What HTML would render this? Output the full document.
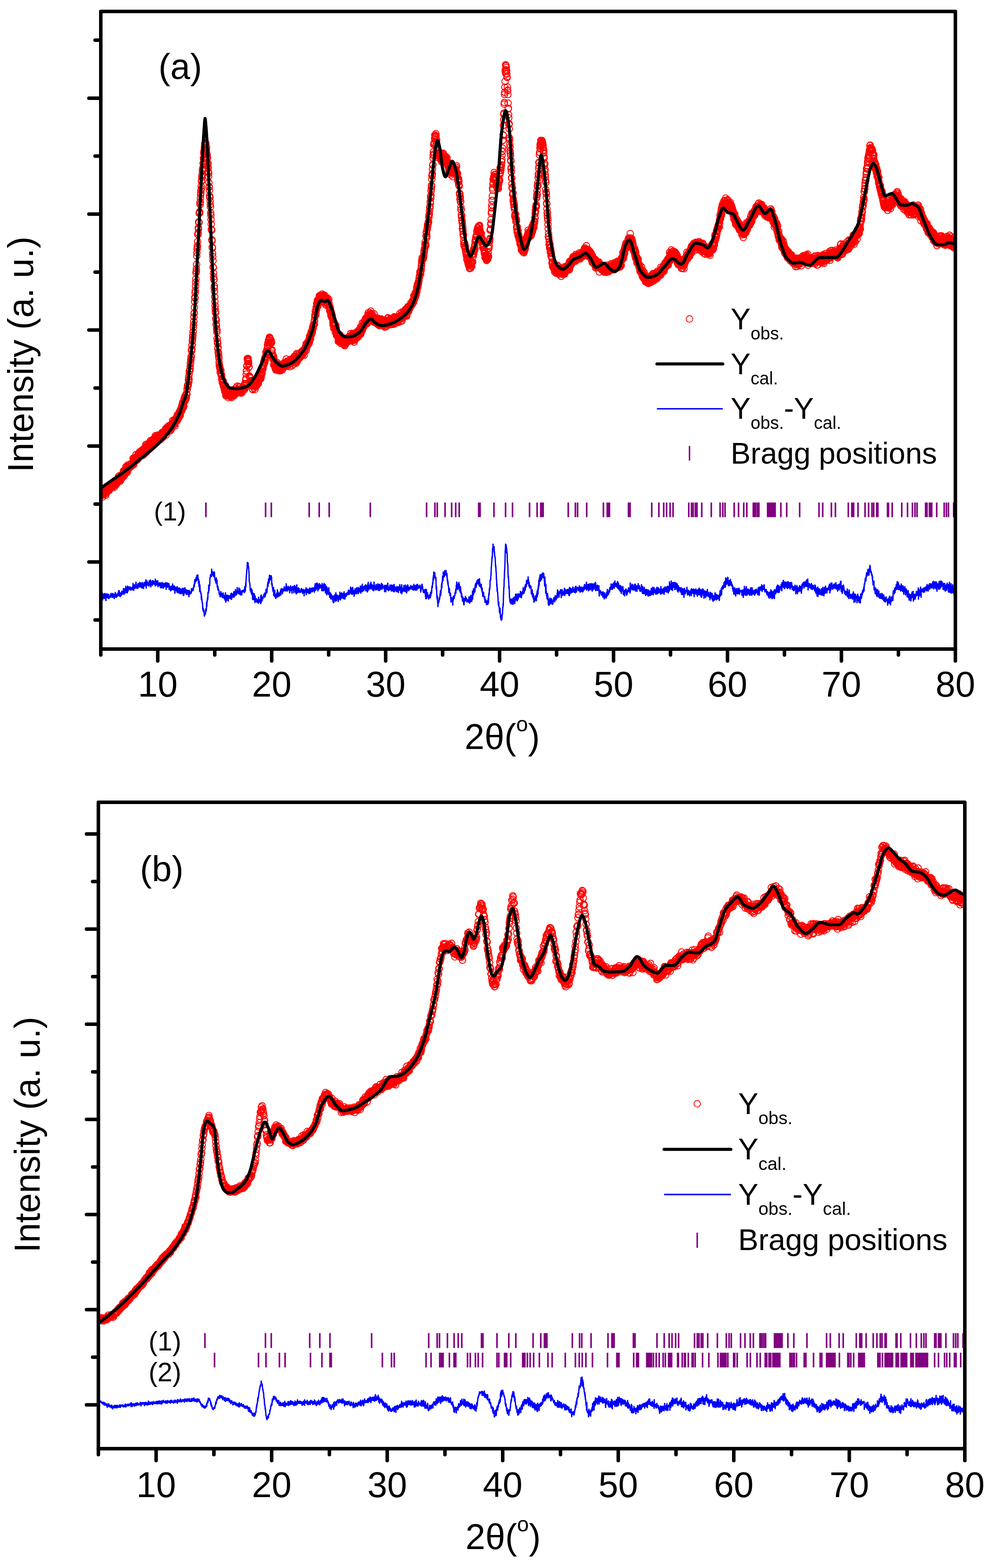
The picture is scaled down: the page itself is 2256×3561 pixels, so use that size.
<!DOCTYPE html><html><head><meta charset="utf-8"><title>XRD Rietveld refinement</title><style>html,body{margin:0;padding:0;background:#fff}svg{display:block}text{font-family:'Liberation Sans', Arial, Helvetica, sans-serif;fill:#000}</style></head><body>
<svg width="2256" height="3561" viewBox="0 0 2256 3561">
<rect width="2256" height="3561" fill="#fff"/>
<defs><marker id="mk" markerUnits="userSpaceOnUse" markerWidth="20" markerHeight="20" refX="10" refY="10" overflow="visible"><circle cx="10" cy="10" r="7.4" fill="none" stroke="#f00" stroke-width="2"/></marker></defs>
<clipPath id="clipa"><rect x="229" y="26" width="1941.5" height="1448"/></clipPath>
<g clip-path="url(#clipa)">
<path d="M229 1117l.4 9.9 .4-8.4 .4 2.1 .4 .4 .4-2.8 .4-2.7 .4 7.4 .4-1.4 .4-9.1 .4 16.1 .4-5.5 .4-6.9 .4 6.1 .4-5.5 .4 1.3 .4 2.9 .4-8.1 .4 6.7 .4 2.9 .4-.6 .4-6.4 .4 4.3 .4-9.9 .4 5.3 .4 2 .4-7.1 .4 4.5 .4 6.6 .4 3.1 .4-7.3 .4 0 .4-7.1 .4-1.3 .4-1 .4 7.1 .4 .6 .4-5.7 .4-2.5 .4 5.4 .4 0 .4-2 .4 5.1 .4-5.5 .4-.2 .4-4.3 .4 4.5 .4 4.4 .4-5.2 .4-.3 .4 1.1 .4-.9 .4 .7 .4-.2 .4 0 .4-5.7 .4 3.9 .4-7.5 .4 6.8 .4-6.1 .4 4.3 .4 1.8 .4-3.7 .4 1.7 .4-7 .4 2.7 .4 5.7 .4-7.4 .4 6.6 .4-8.2 .4 1.6 .4-1.1 .4 3.9 .4 1.6 .4-6.5 .4 3.1 .4 6.5 .4-7.8 .4-2.3 .4 4.2 .4-2.7 .4-2.2 .4-4.7 .4 9.7 .4-5.8 .4 1.8 .4-4.5 .4 8.7 .4-2.6 .4 .5 .4-4.7 .4 1.8 .4 1.2 .4 .1 .4-3.2 .4-1.9 .4-1.6 .4-1.9 .4-1.3 .4 4.6 .4-2.8 .4-7.2 .4 6.6 .4 4.3 .4-5.6 .4-6.6 .4 6.2 .4 3 .4-2.7 .4-2.9 .4 8.3 .4-.2 .4-8.2 .4 3 .4-2 .4 1 .4 2.1 .4-2.9 .4-3.3 .4-3.3 .4-1.1 .4 2.6 .4 4.1 .4-3.8 .4-1.4 .4 .4 .4-1.3 .4 1.5 .4-6.9 .4-3.8 .4 5.5 .4-3.3 .4 10.2 .4-7.3 .4-.8 .4-5.5 .4 6.5 .4-4 .4 6.3 .4-1.6 .4-6.8 .4 4.1 .4-12.2 .4 6.9 .4 6.9 .4-2.2 .4-3 .4-1.3 .4-5.9 .4-.3 .4 5.6 .4 5.4 .4-15.8 .4 10.4 .4-.7 .4 .8 .4-7.6 .4 .8 .4 1.7 .4-4.7 .4-1.3 .4 .8 .4 2.6 .4 1.2 .4-2.1 .4-.2 .4-3.4 .4-.7 .4 6.6 .4-5.1 .4-.6 .4 3.4 .4 .7 .4-.4 .4-3.9 .4-2.3 .4 .8 .4-.9 .4 4.3 .4-4.8 .4 .8 .4-3 .4 4.9 .4-13.8 .4 9 .4 1 .4-7.9 .4 12.5 .4-9.4 .4-.5 .4-4 .4 7.2 .4-3 .4-3.7 .4 2.8 .4 1.3 .4 1.7 .4-4.4 .4-5 .4 1.1 .4-7.2 .4 5.7 .4 5.3 .4-1.5 .4-2.7 .4-1.3 .4 7 .4-5.5 .4 2 .4-2.4 .4-4.6 .4 8.3 .4-11.4 .4-.2 .4 2.5 .4-1.6 .4 .3 .4-.6 .4 5.8 .4-4.1 .4 .7 .4-8 .4 2.5 .4 7.2 .4-9.4 .4 8.9 .4-9.1 .4 4.8 .4-4.9 .4 3.7 .4-4.7 .4 2.1 .4 7.2 .4-8.4 .4 9 .4-10.2 .4-3.2 .4 4.5 .4-2.3 .4 8.1 .4-3.9 .4 .9 .4-2.6 .4 6.8 .4-6.9 .4-1.4 .4-5.8 .4-.7 .4 3.9 .4 2.9 .4 0 .4-8.4 .4 5.4 .4-1.7 .4-5.6 .4 6.1 .4-11.3 .4 9.5 .4 8.3 .4-14 .4 3.7 .4-7.9 .4 4.1 .4 5.5 .4-7.4 .4 3.6 .4-1.6 .4-.5 .4 1.9 .4 .8 .4 2.6 .4-2 .4-5.8 .4 7.4 .4-1 .4-11.4 .4 8.4 .4 .3 .4 .2 .4-2 .4-7.6 .4 3.7 .4-7.5 .4 7.2 .4 8.3 .4-5.7 .4 .3 .4-5.7 .4-2.3 .4-.6 .4 4.4 .4-4 .4 .3 .4 6.7 .4-11.3 .4 .9 .4 2.9 .4 1.3 .4-.5 .4-5.3 .4 5.9 .4-1.6 .4 1.6 .4-6 .4 4.9 .4-.4 .4-3.8 .4 1.4 .4-1.6 .4 7.2 .4-16 .4 4.3 .4-1.4 .4 5 .4-1.6 .4 .8 .4 4.1 .4-9.6 .4 2.8 .4 2.1 .4-4.2 .4 5.9 .4-.4 .4-4.5 .4-4.5 .4 13 .4-4.8 .4-.5 .4-1.7 .4-.6 .4 3 .4-3.7 .4-2.8 .4 5 .4-2.9 .4-3.6 .4-.9 .4 7.9 .4-2.5 .4 5 .4-10.2 .4-1.2 .4 4.2 .4 3.5 .4-3.4 .4-1 .4 5.4 .4-10.8 .4-2.3 .4 1.7 .4 1.3 .4 2.4 .4 2.2 .4-2.8 .4 4.1 .4-9.7 .4 10.6 .4-11.2 .4 7.5 .4-8.7 .4 4.7 .4-1.5 .4 1.5 .4 .6 .4-4.2 .4 .2 .4 .8 .4-6.5 .4 1.9 .4-3.9 .4 6.1 .4 8.4 .4-6.3 .4-6.8 .4 .3 .4 6.3 .4-6.2 .4-4.9 .4 1.9 .4-.5 .4-.2 .4 6.4 .4-2.8 .4-6.6 .4 3.4 .4-2.8 .4-.7 .4-1.5 .4 12.6 .4-8.6 .4 3.1 .4 .8 .4-5.4 .4 3.3 .4-.3 .4-1.7 .4 7.4 .4-8 .4-2.4 .4 3.1 .4 4.1 .4-3.5 .4-6.3 .4-2 .4-.7 .4 .7 .4 3.7 .4 1.4 .4-12.9 .4 8.6 .4-4.8 .4 6.6 .4 .5 .4-7.3 .4 .9 .4-2.5 .4 4.9 .4-8.6 .4 1.5 .4 1.2 .4 7.1 .4 4.2 .4-10.1 .4-5.5 .4 4.6 .4-4.3 .4 4.7 .4-6.9 .4 2.4 .4 .8 .4 1.5 .4-3 .4 4.7 .4-5.3 .4-8.4 .4 10.3 .4-5.6 .4-2.3 .4 8 .4-10.8 .4 3.5 .4-3.9 .4 7.5 .4-7.7 .4 1.5 .4-7.3 .4 10.5 .4-10.9 .4 7.1 .4-.1 .4-.4 .4 1.4 .4-13 .4 5.3 .4-2.1 .4 .1 .4 1.6 .4-5.2 .4-4.8 .4 1.7 .4 5.4 .4-12.1 .4 3.8 .4-5.4 .4 7.3 .4-12.3 .4 4.2 .4-.3 .4 0 .4 8 .4-4.2 .4-11.3 .4 12 .4-14.3 .4-3.5 .4 .7 .4 6 .4 .5 .4-12 .4 9.7 .4-3.9 .4 2.8 .4-5.7 .4 3.8 .4-3 .4-8.9 .4 8.6 .4-7.2 .4-.2 .4-.4 .4-11.6 .4 .8 .4-5.8 .4-3.4 .4 1.8 .4-2.8 .4 .9 .4-3 .4-9 .4-6.5 .4 10.6 .4-5.1 .4-12.4 .4-6.6 .4-1.2 .4-.5 .4 0 .4-4.1 .4-5.6 .4-6.4 .4-1.9 .4-5.7 .4-2.2 .4-4.6 .4-1.5 .4-14.1 .4 1.8 .4-4.5 .4-8.2 .4-1.2 .4-8.8 .4-3.9 .4-4.1 .4-5.6 .4-7.3 .4 .6 .4-10.1 .4-6.3 .4-7.3 .4-10.8 .4-8.2 .4-.5 .4-12.5 .4-13.5 .4-9.7 .4 1.9 .4-12 .4-5.4 .4-10.2 .4-8.1 .4-7.9 .4-13.5 .4-4.1 .4-5.1 .4-10.3 .4-18.9 .4-7.2 .4-8.4 .4-3.9 .4-3.5 .4-10.1 .4-16.1 .4 .2 .4-3.8 .4-11.6 .4 3.3 .4-16.4 .4 1.6 .4-.9 .4-20.3 .4-1.6 .4-1.8 .4 2.9 .4-23.3 .4 4.2 .4-6.6 .4-8.4 .4-7.3 .4-4.4 .4-5.1 .4-9.9 .4 5.7 .4-16.7 .4-2.8 .4-6.4 .4-4.3 .4-3 .4-8.4 .4-2.5 .4 3.5 .4-7.3 .4-10.1 .4 .4 .4-11.4 .4-.5 .4-11.1 .4-3.2 .4-3.3 .4 3.3 .4-9.7 .4-4 .4-5.6 .4-1.3 .4 .2 .4 2.5 .4-.4 .4-1.7 .4 3.3 .4 11 .4 3.1 .4-1.1 .4-6.3 .4 16.4 .4-1.7 .4 2.1 .4 4.5 .4 2.7 .4 13.2 .4 4.7 .4-5.7 .4 9.9 .4 8.8 .4 11.2 .4-7.6 .4 21.3 .4 10.3 .4-1.2 .4 8.2 .4 12.5 .4 3.7 .4 .3 .4 8 .4 7.9 .4 5.7 .4 13.1 .4 5.2 .4 9.8 .4 10.4 .4 12.3 .4 1.7 .4-.3 .4 22.1 .4 2.6 .4 14.1 .4 2.2 .4 12.1 .4 7.2 .4 9.5 .4 14.4 .4 1 .4 12.2 .4 8.9 .4 5.9 .4 .7 .4 18.4 .4-4.1 .4 12.2 .4 12.1 .4 11.2 .4 9.2 .4 7.1 .4 6 .4 3 .4 13.2 .4 .5 .4 12 .4-7.8 .4 11.1 .4 7.2 .4 8 .4-4.4 .4 18.8 .4 6.1 .4 4.4 .4-.2 .4 13.2 .4-3.3 .4 10.8 .4 .7 .4 4.7 .4 3.9 .4 4.7 .4 8.8 .4 5.2 .4 3.6 .4 1.3 .4 2.3 .4 2.1 .4 8.3 .4-6.5 .4 1.8 .4 5.2 .4-4.9 .4 8.2 .4 2.9 .4-1.9 .4 3.9 .4 7.3 .4-1.9 .4 3.2 .4 5.8 .4-5.1 .4-.5 .4 6.2 .4 3.5 .4-7.8 .4 11.6 .4-2.6 .4 .8 .4-.7 .4 3.9 .4 5.8 .4-.8 .4 2.1 .4-4 .4 9 .4-.4 .4-4.5 .4-9.9 .4 11.8 .4 11.4 .4-10.4 .4-3.2 .4 12 .4-9 .4 5.3 .4 1.7 .4-8.7 .4 7.2 .4 4.9 .4-5.8 .4 4.5 .4-2.4 .4 4.7 .4 3.8 .4-12 .4 3.6 .4 3.1 .4-4.1 .4-.7 .4 2.1 .4 .3 .4-1.5 .4 4 .4 2 .4-.4 .4-.4 .4 2 .4-10.9 .4 5.1 .4 1.1 .4 1.2 .4-9.2 .4 14.4 .4-11.8 .4 4.6 .4 1.8 .4 1.2 .4-7.7 .4 .4 .4 3.6 .4 .6 .4 1.1 .4-4.3 .4-2.9 .4-2.9 .4 12.6 .4-13.3 .4 8.4 .4-2 .4 1.7 .4 .6 .4 1.4 .4-6.1 .4 1.6 .4-10 .4 8.1 .4-4.2 .4 2.9 .4 5.6 .4-4.9 .4 3.9 .4-5.6 .4 2.3 .4-3.6 .4-9.1 .4 7.5 .4 1.7 .4 1.7 .4-.8 .4-.7 .4 4.4 .4-1.5 .4-4.4 .4 5.2 .4-12.1 .4 7 .4 .4 .4 6 .4-7.9 .4-4 .4 6.8 .4 6.2 .4-8.1 .4 .3 .4-.6 .4 1 .4 5.1 .4 2.6 .4-6.4 .4-2.6 .4 8.1 .4-7.6 .4-.3 .4-2 .4 0 .4 2.1 .4-2.4 .4 2.7 .4-1.6 .4 1.7 .4-4.2 .4 .5 .4 1.6 .4-1.1 .4-.1 .4 4.1 .4-9.7 .4-4.1 .4 10.8 .4-5.4 .4 4.2 .4-9.5 .4-8.8 .4 9.2 .4-12.9 .4-9.3 .4-7.1 .4-.3 .4-10.8 .4-.8 .4-1.4 .4-14.8 .4 1.1 .4 1.4 .4 4 .4-2.6 .4-4.1 .4 11 .4-3.9 .4 5.3 .4 7.4 .4-.8 .4 21.1 .4-.3 .4 1.1 .4 1.6 .4 1.7 .4 9.9 .4 3.8 .4-3.4 .4 1.4 .4 3.6 .4-2.1 .4-7.2 .4 11.1 .4-1.4 .4 2.3 .4-5.9 .4-5.5 .4 3.9 .4 6.8 .4 7.7 .4 1.4 .4-8.6 .4-7.3 .4 4.9 .4 3.4 .4 0 .4-1.4 .4 5.2 .4-9.4 .4-5.4 .4 5.4 .4-1.3 .4 14.3 .4-10.4 .4-5.5 .4 8.5 .4 1.3 .4-4.3 .4 .3 .4 3.1 .4-2.6 .4-5.6 .4 5 .4 1 .4-3.1 .4 1.7 .4-1.8 .4-4.1 .4-.3 .4 2.6 .4-5.7 .4 6.5 .4-.5 .4-14.5 .4 7.5 .4-3.7 .4-.4 .4 2.5 .4-2.2 .4 2.2 .4-2 .4-.8 .4-6 .4 .8 .4 6.6 .4-17.9 .4 16.7 .4-10.8 .4 6.2 .4-17.3 .4 7.9 .4 4.1 .4-4.4 .4 2.2 .4-9.6 .4-.2 .4-2.1 .4 3.3 .4-1.9 .4-4.2 .4-2.3 .4-1.9 .4-.2 .4-6.2 .4 2 .4-2.1 .4-3.5 .4-1.9 .4 7 .4-10.7 .4 2.6 .4 2.4 .4-4.3 .4-4.7 .4 2.6 .4-11.9 .4-.9 .4 1.8 .4-1.2 .4-1.4 .4 6.4 .4-2.9 .4-9.4 .4-.8 .4-7 .4 3.2 .4-8.9 .4 9.9 .4-9.9 .4 3 .4-9.5 .4 10.2 .4-4.5 .4 4.8 .4-8.9 .4-7.8 .4 3.2 .4-2.2 .4 12.2 .4-9 .4 .1 .4 6.8 .4 0 .4 2.7 .4-2.2 .4-4 .4 5.3 .4-.9 .4 17.8 .4 1.5 .4-2.3 .4 7.4 .4 3.5 .4 3 .4 2.7 .4 4.6 .4-.4 .4-7.1 .4 1 .4 19 .4-.7 .4-11.5 .4 13.1 .4-3.4 .4 2.2 .4-8.4 .4 14.9 .4-3.3 .4 4.2 .4 1.5 .4 1.2 .4 1.9 .4-5.6 .4 0 .4-3.4 .4 5.2 .4-3 .4-3.9 .4 10.5 .4-1.9 .4-14.1 .4 3.3 .4 7.2 .4-4.7 .4 11.2 .4-4.4 .4 1.7 .4 1.7 .4 1.8 .4-7 .4 3.9 .4-1.6 .4 2.3 .4-1.1 .4 3.7 .4-3.9 .4-4.5 .4 2.5 .4-5.6 .4 6.2 .4 5 .4-9.4 .4-4.7 .4 6.6 .4-2.1 .4 1.9 .4-2.8 .4 2.6 .4-5.1 .4 10.8 .4-8 .4 2.8 .4 .8 .4-4.3 .4 2.2 .4-3.4 .4-1.2 .4 .6 .4 2.8 .4-8 .4 1.2 .4 .1 .4 .7 .4 7.1 .4-5.5 .4-1.5 .4 1.6 .4 3.7 .4-8.2 .4 7.4 .4-14.9 .4 6 .4 10 .4 .1 .4-6.2 .4-2.9 .4 5.2 .4-5.6 .4 8.3 .4-1.7 .4-2 .4-7.2 .4 7.7 .4-5.4 .4-.1 .4-1 .4 1.1 .4 2.5 .4 1.4 .4-.2 .4 7.2 .4-12.7 .4 6.4 .4-8.1 .4 1.9 .4-4.4 .4 10.2 .4-4.3 .4-.7 .4-1.2 .4 4.4 .4-6.3 .4 3.7 .4 9.1 .4-11.7 .4-2.3 .4-1.9 .4 7.8 .4-3.4 .4-3.8 .4-.5 .4 3.5 .4-4.7 .4 13.3 .4-10.2 .4-.2 .4 .1 .4-7.7 .4 1.3 .4 4.5 .4 1.2 .4-5.6 .4 12.6 .4-5.7 .4 3.4 .4-.9 .4-6.3 .4 11.3 .4-10.4 .4-9.1 .4-2.3 .4 9.9 .4 3.5 .4-3.8 .4 6.9 .4-9.2 .4 3.4 .4 .4 .4-8 .4 5.5 .4-.1 .4 2.8 .4 .2 .4-1.3 .4-8 .4 6.1 .4 1.2 .4-4.9 .4 2.7 .4-.3 .4 1.4 .4-5.2 .4 1.4 .4-1.7 .4-1 .4-3.4 .4 .8 .4-3.8 .4 3.5 .4 3.5 .4-.8 .4 .1 .4-4.3 .4 6.1 .4-8.6 .4 4.9 .4-2.1 .4-5.6 .4-.4 .4 5.8 .4-3.6 .4 .4 .4 9.3 .4-9.1 .4-2.6 .4 2.1 .4-6.5 .4 1.2 .4 2.1 .4-6.2 .4 2.8 .4-1.4 .4 .6 .4-8.9 .4 14.8 .4-8.9 .4 2 .4-7.7 .4-2 .4 5.1 .4-2.4 .4 3.4 .4-7.7 .4-1.2 .4 4.9 .4 .6 .4 0 .4-5.1 .4 .2 .4-5.6 .4 8.2 .4-1.9 .4-1.3 .4-13 .4 9.7 .4-8.2 .4 4.1 .4-1.5 .4 2.3 .4-7.5 .4-2 .4-4.2 .4-2.1 .4 6.3 .4-7.9 .4 5.6 .4-6.1 .4-2.3 .4 5.3 .4-1.9 .4-9.7 .4 2.1 .4-.8 .4 1.3 .4-7.9 .4-.4 .4-.6 .4 1.5 .4-1.2 .4-8.4 .4 7.8 .4-8.1 .4-7.7 .4-5.6 .4 2.2 .4-10.6 .4 8.8 .4-.7 .4 .8 .4-5.8 .4-12 .4 4 .4 2.2 .4-14.8 .4 3.9 .4 4.3 .4-4.4 .4-10.8 .4 4.9 .4 .7 .4 7.7 .4-12.4 .4-3.2 .4 4 .4-.7 .4 .1 .4 2.8 .4-7.6 .4-6.7 .4 5.3 .4-.9 .4 3.4 .4-1.3 .4-7.5 .4 6.1 .4 .6 .4-5.5 .4 4.8 .4-3.5 .4 .1 .4-1.4 .4 4.2 .4 7.8 .4-10.1 .4-5.9 .4 4.3 .4-1.3 .4 4.3 .4-1.7 .4 12.2 .4-7.5 .4 5.3 .4-10.9 .4 2.6 .4 10.5 .4-16 .4 8.5 .4-7 .4 14.1 .4-12.6 .4 5.4 .4 1 .4-6.4 .4 18.8 .4-11.4 .4 8.3 .4-10.2 .4-3.1 .4 7.7 .4 .1 .4 10.8 .4-15.7 .4-1.9 .4 4.2 .4 5 .4 1.7 .4-5.2 .4 2.6 .4 4.8 .4 3.4 .4-6.4 .4 4.4 .4-11 .4 8.7 .4 7.6 .4-.5 .4 .7 .4 9.5 .4-6.9 .4-2 .4 7.4 .4 1.6 .4-4.4 .4 11.1 .4 4.7 .4-8.7 .4 .3 .4 4.9 .4 7.4 .4-6.6 .4 .7 .4 2.1 .4 5.3 .4 1.4 .4-.1 .4 7.7 .4 6.2 .4-11 .4 8.8 .4-1.9 .4 11.8 .4-13.9 .4 3.9 .4 3.4 .4-5.4 .4 6.8 .4 5.5 .4-8.3 .4 8.3 .4 8.6 .4-9.5 .4-.1 .4-6.2 .4 12.1 .4-5.6 .4 11 .4 6 .4-3.6 .4-4.8 .4 7.6 .4-3.8 .4-1.8 .4 3.9 .4 4.4 .4-1.7 .4 5 .4 8.1 .4-6 .4 1.5 .4-5.7 .4 9.6 .4-3.8 .4 3.4 .4-7.7 .4 4.9 .4-11.3 .4 9.3 .4-1.9 .4-.4 .4 12.5 .4-14.3 .4 6.4 .4 .3 .4 3.3 .4 2.3 .4-11.4 .4 4.9 .4-.5 .4 6.5 .4 1.2 .4-5.9 .4-.4 .4-2 .4 6.3 .4 5.9 .4-5.7 .4-4.7 .4-.6 .4 .6 .4-4.1 .4 15.2 .4-7.5 .4-1.8 .4 11.4 .4-9 .4 5.6 .4-5.6 .4 3.6 .4-4.7 .4-2.1 .4 3.3 .4 1.2 .4 1.5 .4-4.2 .4-2.2 .4-.7 .4 2.8 .4-3.7 .4 .5 .4 3.7 .4 0 .4-.6 .4-5.8 .4-3.3 .4 7.5 .4-.9 .4-2.5 .4 2.5 .4 2.7 .4-5 .4 2.5 .4-6.4 .4 3.2 .4-2.9 .4-3 .4 8.2 .4-13.9 .4 11.3 .4 3.6 .4-2 .4-8.9 .4 7.8 .4-9.5 .4 4 .4 10.3 .4-5.9 .4 4.4 .4-10.5 .4-4.6 .4 5.8 .4 8.9 .4-1.8 .4 .5 .4-5.8 .4 .1 .4-.8 .4 12.4 .4-11.6 .4 7.3 .4-9 .4 6.7 .4-11.4 .4 2.3 .4 3.5 .4-4.5 .4 .4 .4 .8 .4-2.1 .4 9.1 .4-2.3 .4-11.8 .4 13.7 .4-8.3 .4-.4 .4-1 .4 4.2 .4-1.1 .4-6 .4 2.1 .4-6.6 .4 13.9 .4-12.7 .4-.6 .4 .3 .4 3.4 .4 2.3 .4-5.4 .4 1.2 .4-2.1 .4 6.9 .4-5.3 .4-9.2 .4 13.9 .4-5.7 .4 6.8 .4-12.1 .4 0 .4 .8 .4-6.2 .4 4.1 .4 6.7 .4-3.2 .4-14.9 .4 16.1 .4-5 .4 1.3 .4-4.3 .4-.1 .4-1.4 .4-.8 .4-5.8 .4 8.7 .4-4.6 .4 0 .4-.9 .4-3.7 .4 .3 .4-6.5 .4 6.6 .4-.6 .4-3.1 .4-7.3 .4 13.3 .4-7.4 .4 .1 .4-1.8 .4-1.9 .4 .4 .4-3.8 .4 1.8 .4 11.5 .4-4.5 .4 3.2 .4-12.5 .4-6.3 .4 1.9 .4-6.3 .4 16.4 .4 .2 .4-5.5 .4 .8 .4-.5 .4-2.5 .4 3.5 .4-8.3 .4 2.3 .4 1.1 .4-7.3 .4 3 .4 6.5 .4-.5 .4-12.8 .4 15.4 .4-2.5 .4 2.1 .4-3.6 .4 3.2 .4-8.3 .4 5.2 .4-3.5 .4 2.8 .4 8.1 .4 2.5 .4-6.8 .4-1.8 .4 6.1 .4-1.1 .4 7.1 .4-5.4 .4-13.2 .4 11.4 .4-1.3 .4-1.9 .4 4.7 .4 0 .4-1.6 .4 8.7 .4-5 .4 .4 .4-.9 .4 5.1 .4-10.5 .4 10.9 .4-6.4 .4 8.1 .4 0 .4-4 .4-4.1 .4 3.5 .4 .6 .4-8.1 .4 5.5 .4-1.5 .4 9.7 .4 1.7 .4-10.9 .4 1.1 .4-3.4 .4 7.4 .4 2.7 .4 4.7 .4-13.9 .4 10.3 .4-4.8 .4-2.4 .4 1.8 .4-1.8 .4 5.7 .4-1.9 .4 5.5 .4-7.7 .4-6.1 .4 4.1 .4 6.2 .4-8.3 .4 3.4 .4 5.9 .4-8.7 .4 10.2 .4-2.3 .4-4.2 .4 2.5 .4-2.1 .4 .5 .4 .3 .4 1.6 .4-.5 .4-3 .4-1.1 .4 14 .4-14.5 .4 4.3 .4 6.2 .4-1 .4-7.9 .4 12.5 .4-1.1 .4-9.6 .4-4.3 .4 8.5 .4-3.7 .4-.6 .4-2.4 .4 .9 .4 3.5 .4 3.3 .4-13.7 .4-1.5 .4 15.3 .4-8.4 .4 7 .4-2.7 .4 5.1 .4-1.6 .4-5.5 .4 .5 .4 2.1 .4 1.8 .4-6.3 .4-4.2 .4 7.4 .4-.8 .4-.6 .4-4 .4 7.3 .4-10.8 .4 5.6 .4 8.1 .4-11.1 .4 6.9 .4 .1 .4-.2 .4-9.8 .4 12.2 .4-4 .4 1.5 .4-1 .4-1.2 .4 5.2 .4 .9 .4-15.3 .4 4.8 .4 2.7 .4-9.3 .4 16.5 .4-10.4 .4 6 .4-1.8 .4-2.2 .4-3.8 .4 2.8 .4 1.9 .4 3 .4-4.7 .4-1.1 .4 .5 .4 6.9 .4-4.9 .4-4.6 .4-3 .4 3.7 .4-2.5 .4 2 .4 7.9 .4-3.3 .4-2.4 .4 .6 .4 5.8 .4-13.5 .4 7 .4-3.2 .4 1.3 .4-.6 .4-2.1 .4 3.7 .4-12.8 .4 11 .4 1.5 .4-7.8 .4-.4 .4 12.9 .4-13.2 .4 2.1 .4-2.2 .4 .5 .4-.6 .4-7 .4 20.3 .4-14.6 .4 4.7 .4-2.4 .4 6.2 .4-3.4 .4 1.7 .4-.2 .4-1.8 .4-4.1 .4 3.7 .4-11.9 .4 11 .4-1.2 .4-2.2 .4-7.9 .4 11.9 .4-9.6 .4 5.5 .4-11.7 .4 7.2 .4-2.6 .4-1 .4 .1 .4 10.8 .4-8.8 .4 1.3 .4 7.8 .4-16.8 .4 13.1 .4-9.2 .4-1.7 .4 .5 .4-6.9 .4 .8 .4 1.3 .4 2.1 .4 5.3 .4 1.2 .4-7.3 .4 2.9 .4-.3 .4-3.6 .4 1.5 .4-4.4 .4 4.7 .4-4.2 .4 .6 .4 .3 .4-1.1 .4-4.6 .4-3.6 .4 5.2 .4-3 .4-.6 .4 1.3 .4-3.6 .4 4.6 .4-1.1 .4-6.8 .4 5 .4-7 .4 6.8 .4-1.4 .4-3.8 .4 3.2 .4-.4 .4-3.7 .4-11.5 .4 7.9 .4-.7 .4 1.6 .4-9.3 .4 6.6 .4-2.8 .4-1 .4-8.8 .4 .5 .4 7.9 .4-2.7 .4-5.5 .4 4 .4-5.2 .4-4.5 .4-6.8 .4 10.5 .4-6.8 .4 .3 .4-10.9 .4 4.3 .4 2.2 .4-4.1 .4-3.9 .4-3.7 .4 4.1 .4-4.8 .4-2.1 .4-2.1 .4-4 .4-1 .4-3.7 .4 .4 .4-8.9 .4-1.2 .4 2.7 .4-3.3 .4-.8 .4 6.3 .4-7.9 .4-.4 .4-5.4 .4-4.5 .4-5.1 .4-7 .4 .1 .4-6.3 .4 3.6 .4-4.2 .4 .8 .4 2.2 .4-3.9 .4 3.8 .4-2.1 .4-1.6 .4-3.1 .4-5 .4-6 .4 1.9 .4-5.7 .4-2.4 .4 .2 .4-9.6 .4-5.2 .4 6.2 .4 3.8 .4-5.8 .4 4 .4-21.3 .4 .5 .4-10.4 .4 3.7 .4 9.7 .4-4.2 .4-15 .4 .3 .4-5.2 .4-5.4 .4 2 .4-3.5 .4-1.1 .4-2.4 .4-1.3 .4-.2 .4-10 .4-4 .4-2.6 .4-1.6 .4-6.4 .4-7.8 .4-1.8 .4 1.4 .4-12.8 .4 3.4 .4-15.5 .4 3.6 .4-6 .4-9.7 .4-5.4 .4-7.3 .4 2.3 .4-16.3 .4-8 .4-1.6 .4-3.4 .4-10.3 .4-8.9 .4-1.2 .4-14.6 .4-6.3 .4-8.2 .4 5.2 .4-21.6 .4-1.5 .4 1.5 .4-4.5 .4 1.3 .4-10.3 .4-8 .4 5.5 .4-3 .4 .3 .4 .7 .4-.5 .4-6.2 .4 5.1 .4 17.5 .4-4.9 .4-4.5 .4 12.9 .4 8.3 .4 1.3 .4 1.9 .4-7.5 .4 13.5 .4 1.1 .4 9.4 .4-7 .4 .4 .4-1.1 .4 2.1 .4 2.3 .4-3.1 .4-1.3 .4-1.3 .4 6.3 .4-2.1 .4 0 .4-5.3 .4 3.7 .4-4.3 .4 14 .4 2 .4-2.5 .4-1.4 .4 3.6 .4-8.1 .4 1.4 .4 11.9 .4-10.1 .4 4.3 .4-3.5 .4-8.7 .4 7.6 .4 6.4 .4 1.9 .4-17.9 .4 4.2 .4 4.4 .4 7.2 .4 1 .4 1.8 .4 .6 .4-9.5 .4-2.3 .4 9.2 .4-5 .4 1.8 .4-1.3 .4 .4 .4 6.5 .4-8.3 .4-2.8 .4 5.4 .4 4.4 .4-1.2 .4 1.5 .4-7.8 .4 5.9 .4 9.9 .4-4.9 .4-1.4 .4 9.3 .4-6.8 .4 7.2 .4-1.4 .4 2.1 .4 4.1 .4 6.9 .4-3.1 .4-8.4 .4 0 .4 4.8 .4 1.8 .4 4.9 .4-2.2 .4 1.5 .4-8.2 .4 8.2 .4 3.2 .4 5.8 .4-3.9 .4-2.9 .4-5.7 .4 5.6 .4 .2 .4-.5 .4 1.4 .4 1.6 .4-.3 .4 8.2 .4-15 .4-2.9 .4 8.8 .4-7.8 .4 4.5 .4 .2 .4-3.7 .4 7 .4-1.1 .4-2.7 .4 1.7 .4 .8 .4-5.8 .4 3.8 .4-2.5 .4-.9 .4-2.2 .4 10.4 .4-6.1 .4-7.5 .4 9.7 .4-13.1 .4 14.4 .4 3.8 .4 4.7 .4-3.6 .4-2 .4 14.6 .4-1.5 .4 4 .4-4.2 .4 7.1 .4-7.9 .4 13.8 .4-8.3 .4 8.8 .4 2 .4 16.3 .4 3.2 .4-2.5 .4 12.9 .4-.7 .4-4.9 .4 12.1 .4-1.5 .4 13.1 .4 6 .4-.4 .4 11.9 .4 5.7 .4-4.5 .4 11.4 .4 1.6 .4 3.7 .4 13.7 .4-6.5 .4 6.1 .4 5.7 .4 7.2 .4 5.1 .4-4 .4 14.6 .4 5.7 .4 4.2 .4-5.4 .4-.3 .4 0 .4 9.1 .4 .5 .4 2.5 .4-.2 .4-5 .4 11.2 .4 2.8 .4 1.3 .4-2.7 .4 7.3 .4 2.6 .4-2.7 .4 10 .4-1.5 .4 2.3 .4 2.6 .4-1.8 .4 2 .4 3.8 .4 2 .4 1.6 .4-4 .4 5.4 .4 2.6 .4-11 .4 5.4 .4 2.5 .4 .7 .4 8.9 .4-2.5 .4-5.8 .4 .3 .4-6 .4 1.8 .4 10.6 .4-14.7 .4 10.3 .4-7 .4 .7 .4-.3 .4 7.4 .4-8.7 .4-1.1 .4 .4 .4-17.3 .4 16.8 .4-18.9 .4 2.1 .4 4.1 .4-11.4 .4-4.9 .4 11.2 .4-9.3 .4 3.5 .4-4.4 .4-5.6 .4 6.4 .4-11.6 .4 8.2 .4-16 .4-2.8 .4-.9 .4 1.9 .4-8.8 .4-.4 .4 7.6 .4-8.3 .4 2.1 .4-6 .4-6.7 .4-3 .4 2.4 .4-2.4 .4-4.5 .4-1.7 .4 8 .4-3 .4-4.3 .4-3.6 .4-.6 .4 11.3 .4-11.6 .4 14.2 .4-12.8 .4-2.7 .4 17.8 .4-8.3 .4 9.4 .4-3.2 .4-1.2 .4 7.6 .4-3.6 .4 5.6 .4-.5 .4-5.3 .4 12.1 .4-2.2 .4 3.8 .4 4.5 .4-6.7 .4 10.8 .4 2 .4 8 .4-3.3 .4-.3 .4-2.7 .4 4.9 .4-4.4 .4 10.5 .4-.7 .4 1.3 .4 3.8 .4 4 .4 1 .4-4.9 .4 13.4 .4-4.4 .4 2.9 .4-.1 .4-3.2 .4 6.6 .4-2.2 .4-1.5 .4 5 .4 3.4 .4-.5 .4-1.9 .4-3.8 .4 1 .4 .3 .4-7.1 .4 8.7 .4-5.5 .4-9 .4 9.8 .4-1.5 .4-18.7 .4 1.1 .4-7.4 .4 2.8 .4-14.7 .4 3.7 .4-5.5 .4-1.7 .4-19.1 .4 .1 .4-2.4 .4-.1 .4-10.1 .4-3.6 .4-8.3 .4-13.5 .4-3.8 .4-8.8 .4-7 .4-9.9 .4 .3 .4-10.1 .4-18.4 .4 4.4 .4-13.3 .4-10.4 .4 7.6 .4-9 .4-.8 .4-4 .4-.7 .4-8.9 .4 11.7 .4-6.8 .4 3.9 .4 0 .4-3.7 .4-1.1 .4 5.8 .4 7.7 .4-7.6 .4 1.9 .4 4.9 .4-1.3 .4 10.4 .4-2.5 .4 10.7 .4-9.1 .4 10.9 .4-11.3 .4 5.3 .4-4.6 .4 4 .4 .8 .4 4 .4 2.5 .4-9.2 .4-7.5 .4 4.2 .4-3.6 .4-4.5 .4 3 .4-2.1 .4-11.9 .4-3.4 .4-11.9 .4 6.2 .4 3.9 .4-11.1 .4 5.5 .4-4.2 .4-3.6 .4-3.6 .4-7.5 .4 .4 .4-5.3 .4-9.5 .4-8.6 .4-.9 .4-6.6 .4-17.5 .4-.7 .4-12.1 .4 1.1 .4-22.8 .4-12.3 .4-12.6 .4-2.8 .4-20.4 .4-3.6 .4-18.4 .4-4.7 .4-11.6 .4-13 .4-22.6 .4-4 .4-11.3 .4 19.8 .4-17.6 .4 .2 .4 3.9 .4 6.1 .4 .6 .4 8 .4 6.4 .4 1.1 .4 21.7 .4 7.5 .4 .9 .4 8.9 .4 19.4 .4 13 .4-.9 .4 13.9 .4 7.3 .4 15.6 .4-2 .4 11.6 .4 20.7 .4 4.4 .4 10.4 .4 6.1 .4 9.3 .4 4.8 .4 5 .4 10.2 .4 2.5 .4 17.5 .4-3.4 .4 10.3 .4 13.5 .4 1 .4 12.7 .4 8.1 .4 2 .4-1 .4 15.6 .4-2.2 .4-2.2 .4 18.3 .4-4.4 .4 6.2 .4 5.3 .4-2.8 .4 10.4 .4-6.4 .4 4.8 .4 6.2 .4 15.5 .4-4.2 .4 5.8 .4-4.4 .4 7.5 .4-9.6 .4 11.5 .4 6 .4-2 .4-4 .4 4.2 .4 13.2 .4 5.8 .4-5.6 .4 11.6 .4-11.3 .4 11.4 .4 .7 .4 5.7 .4-9.9 .4 13.9 .4-2.2 .4-2.6 .4 3.8 .4 2.9 .4 4.1 .4-3.7 .4 1.6 .4 6 .4 .9 .4 3.9 .4 3.2 .4-11.7 .4 9.7 .4 2.9 .4 .4 .4-3.9 .4 9.7 .4 6 .4-7.6 .4-1.8 .4 8.5 .4-2.5 .4 1.4 .4 1.3 .4-2.5 .4 2.6 .4-2.9 .4-5.7 .4 14.3 .4-3.7 .4-1.9 .4 6.2 .4-7.8 .4 5.3 .4-2.3 .4-6.2 .4-5.5 .4 7.2 .4-2.3 .4 2.6 .4-13.3 .4 5.3 .4 .3 .4-1 .4-2.7 .4-.8 .4-14.1 .4 7.8 .4-3.5 .4-5.8 .4 6.1 .4-4.1 .4-5.2 .4-2.7 .4 6.6 .4-14.9 .4 10.3 .4-6.1 .4 5 .4 7.6 .4-4.8 .4-5.6 .4 7 .4 1.4 .4-4.5 .4 3.7 .4-8.1 .4 1.7 .4-3.8 .4-1.9 .4 1.4 .4-4.4 .4 2.5 .4 10.1 .4-8.2 .4-5.3 .4 8 .4-2.3 .4-12.8 .4 .8 .4 10.7 .4-8.7 .4-.5 .4-4.3 .4-3.7 .4 9.7 .4-10.5 .4 5 .4 4.7 .4-8.1 .4-5.6 .4 1.8 .4-2.9 .4-7.6 .4 .4 .4-10.3 .4-6.2 .4 1.7 .4-10 .4 .8 .4-2.3 .4-3.5 .4 2.9 .4-18.5 .4-3.1 .4-5.5 .4-8 .4 9 .4-18.8 .4-2.8 .4-5.1 .4 6.9 .4-18.9 .4-8.2 .4 3.2 .4-15.7 .4-13.8 .4 8.5 .4-7.8 .4-18 .4-5.4 .4-.2 .4-9.9 .4-7.3 .4-2.4 .4 11.1 .4-6.1 .4-12.5 .4 2.7 .4 .3 .4-2.6 .4 1.5 .4 9 .4-10.7 .4 .4 .4 4.9 .4-1.4 .4 3.1 .4 2.2 .4-.2 .4 13.3 .4-6.2 .4 12.6 .4-6.8 .4 4.2 .4 10.8 .4 3.1 .4 11.2 .4 5.2 .4 13.8 .4-17.3 .4 12.9 .4 11.2 .4 6 .4 8 .4 20.3 .4-15.8 .4 22 .4 3.4 .4 8.9 .4 12.7 .4 1.7 .4 11.1 .4 9.2 .4 6.5 .4-7.5 .4 13.3 .4 4.3 .4 9.8 .4 9.8 .4 17.6 .4-7.3 .4 6.9 .4 5.3 .4 12.5 .4-6 .4 8.5 .4 5.1 .4 1.8 .4-9.8 .4 6.2 .4 12.2 .4-9.4 .4 9.9 .4-4 .4 11.6 .4 0 .4-5.2 .4 8.5 .4-1.8 .4 4.5 .4 10.8 .4-2.7 .4 2.2 .4 7.6 .4-5.2 .4 7.5 .4-2.9 .4 .8 .4-1.7 .4-1.1 .4 .1 .4 1.5 .4 7.8 .4 .3 .4-5.2 .4 10.7 .4-8.3 .4 1.8 .4-4.3 .4 3 .4 8.6 .4-1.8 .4-5 .4 9.1 .4-6.2 .4 .7 .4 4.7 .4-2.9 .4-3.9 .4-3.7 .4 11.1 .4-17.7 .4 8.1 .4-5.6 .4 5.5 .4 6.8 .4-5.7 .4-.5 .4 1.9 .4 9.8 .4-2.6 .4-5.3 .4-4 .4 1.3 .4 3.7 .4-2.6 .4 .7 .4-4.2 .4-1.4 .4 1.3 .4 6.6 .4-5.5 .4 16.7 .4-9.4 .4 .5 .4 1.7 .4-9.8 .4-.6 .4 4.5 .4 4 .4-.3 .4 5.2 .4-1.3 .4-1.8 .4 .3 .4-4.3 .4 2.7 .4-5.7 .4-.9 .4 6.3 .4-12.7 .4 14.3 .4 1.9 .4-11.6 .4 5.6 .4-3.1 .4-5.9 .4 6.1 .4 .4 .4 1.9 .4-6.8 .4 1.8 .4-4 .4 7.3 .4-5.7 .4 4.2 .4-7.8 .4 3.4 .4-5.3 .4 .3 .4 8.5 .4-6.6 .4 .1 .4 3.4 .4-7.8 .4 12.7 .4-13.5 .4 1.3 .4 11.8 .4-19.1 .4 16 .4-7.1 .4 .1 .4-8.1 .4 5.3 .4-7.5 .4 10.3 .4-6.6 .4-2.5 .4 .2 .4 1 .4 4.8 .4-3.4 .4-6 .4-1 .4-1.3 .4 8.2 .4-2 .4-8.1 .4-2.9 .4 7 .4-2.9 .4 4.9 .4-3.4 .4 2 .4 1.7 .4 .9 .4-6.3 .4 4.1 .4-6.4 .4-3.3 .4 6.5 .4 4.4 .4 .8 .4-7.3 .4-8.1 .4 9.5 .4-2.8 .4 3.7 .4 1.9 .4-7.4 .4-1.5 .4 1.3 .4-1.6 .4-1.7 .4 5.5 .4-4.8 .4 2 .4-.5 .4-1.6 .4 5.6 .4-5.3 .4 1.5 .4 3.9 .4-4.7 .4-6.5 .4 4.4 .4-.2 .4 4.9 .4 4.6 .4-7.3 .4-1.9 .4 7.2 .4-10.6 .4 4.4 .4 .4 .4-2.9 .4-1 .4 1.3 .4 6 .4-4.9 .4-5.9 .4 3.7 .4 2.8 .4 3.5 .4-5 .4-3.2 .4 5.2 .4-2.7 .4-3.8 .4-4.2 .4 3.2 .4 3.8 .4-9.8 .4-2.7 .4 9.7 .4-9.9 .4 1 .4 5 .4-.3 .4 1.3 .4 .4 .4 1.7 .4-2.9 .4-3.4 .4-8.1 .4 18.2 .4-2 .4-.5 .4-2.8 .4-3.7 .4 6.7 .4-2.2 .4-5.7 .4 11.6 .4-11.1 .4 5.1 .4 10.8 .4-11.7 .4 5.2 .4 4.6 .4-4.5 .4-6.2 .4 4.8 .4 2.6 .4-6.4 .4 14.3 .4-4.9 .4 2.3 .4-1.5 .4 1 .4-2.8 .4-4.7 .4 10.9 .4-2.3 .4 7.9 .4-12.1 .4 7.1 .4 10.3 .4-15.8 .4 1.5 .4 7.5 .4 7.8 .4-12.8 .4 6.7 .4-.4 .4-.9 .4 2.2 .4 7.7 .4-4.5 .4-6.2 .4 4 .4 4 .4-6.5 .4 4 .4 1.9 .4-7.5 .4 19.2 .4-16 .4 8.3 .4-.8 .4-1.8 .4 8.9 .4-5.2 .4-4 .4 9.8 .4-2.7 .4-7.3 .4-2.1 .4 11.7 .4-4.7 .4-6 .4 9.7 .4-9.2 .4 3.8 .4-.4 .4-5.3 .4 12.8 .4 9.9 .4-9.7 .4-.9 .4-3 .4 1.1 .4 1.8 .4 1.9 .4-5.2 .4 2.8 .4-1.1 .4 3.9 .4 2 .4 .9 .4-7.1 .4 0 .4 5.7 .4-4.3 .4 .4 .4 3.4 .4-.3 .4 4.7 .4-11.9 .4 11.3 .4-7.4 .4 5.6 .4-9.2 .4 5.7 .4-2.2 .4 11.5 .4-12.8 .4 10.2 .4-9.1 .4-1.3 .4 7.1 .4 3.8 .4-5.1 .4 3.4 .4-1.5 .4-1.2 .4 7 .4-6.4 .4 4.2 .4-9.5 .4 4.7 .4 5.4 .4-6.6 .4-8 .4 13.8 .4-.9 .4-4.2 .4 1.8 .4-2.2 .4 3.3 .4 3.2 .4-4 .4-2.1 .4-2.2 .4 1.3 .4-2 .4 6.7 .4-10.1 .4 1.9 .4 4 .4-.6 .4-.8 .4-3.7 .4 2.6 .4-8.2 .4-.8 .4 .7 .4 7.6 .4 4.4 .4-8.8 .4-.9 .4 1 .4 9.8 .4-7.8 .4-.7 .4-3.2 .4 4.9 .4 3.8 .4-5.3 .4-4.7 .4 10.1 .4-6.3 .4 8.7 .4-13.4 .4 4.5 .4 2 .4-9.5 .4 8.9 .4 2.5 .4-3.5 .4 2.8 .4-1.3 .4-4.9 .4 7.4 .4-7.1 .4 2.1 .4-2.2 .4 6.5 .4-5.5 .4-.1 .4-8.1 .4 8.7 .4 5.9 .4-14.9 .4 11.5 .4-2.2 .4-8.3 .4 6 .4 6.3 .4-4.8 .4 1.4 .4 3.4 .4-7.1 .4 5.4 .4-10.5 .4 1.3 .4 10.4 .4-1.2 .4-2.8 .4-12.4 .4 5.1 .4-4.2 .4 12.2 .4-16.6 .4-.8 .4 2 .4 3.1 .4-5.6 .4 0 .4 1.5 .4-2.6 .4-10.3 .4 1.6 .4 12.3 .4-9.1 .4 6.6 .4-3.5 .4-3.6 .4-6.8 .4 5 .4-11.2 .4 11.1 .4-9.2 .4-1.2 .4-5.6 .4-1.7 .4 .6 .4-2.2 .4-2.7 .4-1.9 .4 5.1 .4 3.8 .4 2.7 .4-6.6 .4-5 .4 2.6 .4 4.3 .4-8.3 .4 3.3 .4-3.7 .4-1.9 .4-4 .4 5.4 .4-7.9 .4-1.4 .4 5.8 .4 2.5 .4-.7 .4-.7 .4-5.7 .4 .6 .4 5.9 .4 4.6 .4-22.3 .4 18.8 .4-4.2 .4-.8 .4-2.6 .4 1.3 .4-1.9 .4 7.9 .4-4.9 .4 4.8 .4-5.1 .4 13.9 .4-1.2 .4-7.5 .4 9 .4-2.7 .4-.8 .4 5.8 .4 5.1 .4 4.5 .4-4.4 .4 5.7 .4-.9 .4 1.4 .4 2.8 .4-9.8 .4 5.8 .4 10.2 .4-12.2 .4 3.6 .4 14.2 .4-12.4 .4 6.8 .4 2.1 .4-1.3 .4 7.3 .4 1.1 .4-5.9 .4 13.1 .4-10.7 .4 3.2 .4 2.9 .4 3.1 .4-4.7 .4 7.8 .4-10.2 .4 9.5 .4-.6 .4 2.2 .4 4.3 .4 2.8 .4-3.5 .4 4.8 .4-6.1 .4 6.4 .4 7.2 .4-6.7 .4 2.6 .4 2.2 .4 4.7 .4-1.3 .4-1.7 .4-3.2 .4 6.6 .4-12.6 .4 15 .4-4.8 .4 7.3 .4-2.6 .4 7.4 .4-8.7 .4-5.6 .4 10.1 .4-1.7 .4 2.5 .4 6.6 .4-9.2 .4 8.1 .4 1.5 .4 1.5 .4-13.9 .4 10.6 .4-3.4 .4 2.6 .4-2.2 .4 2.7 .4 6.4 .4 4 .4-4.4 .4-8.7 .4 11.9 .4-11.4 .4 4.3 .4 7.3 .4-7.8 .4 6.3 .4-4.5 .4-4.1 .4 6.5 .4-3.4 .4 10.8 .4 .4 .4-1.2 .4-12.2 .4 13.7 .4-7.5 .4 .9 .4-1.5 .4-3.6 .4 3.2 .4 3.5 .4 3 .4-4.7 .4-2.7 .4-2.4 .4 .7 .4 9 .4-4.5 .4-2.2 .4-9 .4-.7 .4 11.4 .4-.4 .4 2.2 .4-4.5 .4-4.2 .4-5.1 .4 3.5 .4-6.7 .4 12.2 .4 .6 .4 4.1 .4-15.3 .4 1.7 .4 9.5 .4-1.6 .4-11.2 .4 5.9 .4 3.6 .4-2.5 .4 3.4 .4-1.8 .4-3 .4 4.2 .4-2.4 .4 5.7 .4-12.6 .4 5.6 .4-2.4 .4 1.8 .4 2.8 .4 .8 .4-13.5 .4 15.3 .4-3.2 .4-.5 .4-2.5 .4 3.8 .4-2.9 .4-11 .4 5 .4 1.5 .4-.9 .4-.9 .4 4.6 .4-8.7 .4 1.3 .4-1.7 .4 4.1 .4 1.8 .4-6.9 .4 5.6 .4-4.9 .4 8.8 .4-17.9 .4 10 .4 5.1 .4-7.8 .4-4 .4 .6 .4 6.2 .4-5.7 .4 7.1 .4-5.3 .4-3.4 .4 0 .4 3.8 .4 2 .4-9.3 .4-2.4 .4-.5 .4 7.3 .4 5.8 .4-11.8 .4 5.1 .4-5.8 .4 5.7 .4-12.1 .4 9.2 .4-9.8 .4 1.5 .4 4.9 .4-3.5 .4 .1 .4 2 .4-2.4 .4 5.4 .4-4.3 .4-8.5 .4 2.9 .4-3.1 .4-.2 .4 9.7 .4-13.1 .4 9 .4 .3 .4 4.5 .4-13.3 .4 .5 .4-.6 .4-4 .4 9.6 .4 .2 .4-21.2 .4 8.8 .4 6.7 .4-11.4 .4 1.1 .4 2.9 .4-.8 .4-1.3 .4-.2 .4 8.9 .4-20.3 .4 8.4 .4-3.3 .4 6.4 .4-3.5 .4 4.3 .4-2.4 .4 11 .4-17.5 .4 4.1 .4 6.7 .4-6 .4 2.8 .4-8 .4 11.1 .4-3.8 .4 3.7 .4-6.9 .4 2.2 .4-1.1 .4 12.6 .4-16.1 .4 11.1 .4-.3 .4 5.4 .4-4.2 .4-5.8 .4 8 .4-10.3 .4 14.2 .4-5.1 .4-2.4 .4 1.8 .4 5.9 .4-10.4 .4 17.1 .4-11.1 .4 11.5 .4-5.9 .4 9.2 .4-14.7 .4 10.9 .4-4 .4-2.2 .4 7.8 .4-4.6 .4-1.9 .4 3.1 .4-2.2 .4 3.2 .4 1.4 .4 5.9 .4-5.3 .4-2.8 .4 7.8 .4-5.1 .4-2.6 .4-.9 .4 14.7 .4-8.9 .4 8.5 .4-12.6 .4-.4 .4 13.4 .4-9.8 .4 .1 .4-.5 .4-4.2 .4 9.6 .4-11.4 .4 9.1 .4-9.5 .4 17.5 .4-9.9 .4 1.2 .4-14.4 .4 9.2 .4-5.6 .4-1.9 .4-.7 .4 7.3 .4-4.7 .4-3.5 .4-1.4 .4-1.1 .4-.3 .4 .4 .4-5.1 .4 .3 .4-7.2 .4 9.9 .4 2.2 .4-5.9 .4 8.5 .4-11.2 .4 3.3 .4 5 .4-5.1 .4-5.7 .4 5 .4-4.4 .4 6.8 .4-2.4 .4-5.5 .4 3 .4 5.2 .4-3.6 .4-2 .4-5.8 .4-2.6 .4-1.5 .4 8 .4-11 .4 6.6 .4 5.2 .4-16.3 .4 8.9 .4-7.2 .4 3.6 .4 2.5 .4-7.9 .4-2.2 .4 3.9 .4 2.5 .4-3.4 .4-3.3 .4 7.6 .4-9.3 .4-1.9 .4 7.1 .4 9.7 .4-13.3 .4 1.7 .4-4.8 .4 1.8 .4-2.7 .4 6.7 .4-4.7 .4-.6 .4 8.4 .4-11.6 .4 11.6 .4-5.4 .4-3.6 .4 4.4 .4-1.2 .4 2.9 .4-2.5 .4 10.2 .4-4 .4 .4 .4-11.3 .4 4.3 .4 7.5 .4-2.8 .4-2.7 .4-.5 .4 5.6 .4-14.3 .4 5.2 .4-2.5 .4 12.5 .4-12.3 .4 5.5 .4 8 .4-8 .4 3 .4-1.1 .4 3.2 .4 7.5 .4-16.3 .4 5.6 .4 8.4 .4 3.7 .4-12.6 .4 8 .4-3.3 .4 0 .4-9.8 .4-.8 .4 8.9 .4-.9 .4 .4 .4-4.9 .4 13.2 .4-7.5 .4 14 .4-13.4 .4 3.5 .4 2.3 .4-4.9 .4-2.7 .4 2.6 .4 3.4 .4-2.1 .4 12.7 .4-11.8 .4 6.8 .4 .7 .4-2.6 .4-5.7 .4 8.1 .4 2.5 .4-3.4 .4-.4 .4-10.3 .4 5.5 .4 4.7 .4 2 .4 2.9 .4-5.1 .4 2.3 .4-5.9 .4 7.9 .4 .3 .4-4.3 .4 5 .4-6.6 .4-1.3 .4 .5 .4 10.6 .4-18.1 .4 8.3 .4-3.3 .4 1.6 .4-8.4 .4 10 .4-1.1 .4-5.2 .4-1.6 .4 1.6 .4 3.6 .4-12.9 .4 13.4 .4-9.1 .4 4.7 .4-8.9 .4 12.8 .4-9.1 .4 6.5 .4-12.5 .4-1.1 .4 7.7 .4-3.2 .4-2.9 .4 3.1 .4-5.3 .4-5.1 .4-8.9 .4-3.4 .4 12.8 .4-1.9 .4-8.7 .4 5.4 .4-5.2 .4-.4 .4 2.9 .4-14 .4 7.7 .4-.8 .4-5.2 .4 0 .4-8.1 .4 4.5 .4 .5 .4-1 .4-9 .4 5.6 .4-4.2 .4 0 .4-5.1 .4 1.5 .4-3.9 .4 9.1 .4-15.2 .4 5 .4-7.6 .4-9.1 .4 7.6 .4 1.6 .4-4.3 .4-1.8 .4-9.8 .4 3.5 .4-10.1 .4 13.6 .4-2.9 .4-14.4 .4 1.5 .4-5.7 .4 .8 .4 .1 .4-4.9 .4 2.3 .4 4.3 .4-5.4 .4 4.1 .4-5.1 .4 .7 .4-7.3 .4 10.3 .4-10.5 .4 3.4 .4-4.8 .4 8.5 .4-7.7 .4 7.8 .4 6.6 .4-7.8 .4-12.7 .4 15.9 .4-3.9 .4 2.3 .4-.8 .4 3.8 .4-.5 .4-5.1 .4-5.6 .4 5.9 .4 4.3 .4-12.7 .4 10.1 .4-9.3 .4 14.5 .4 4 .4-4.5 .4-6 .4 6.4 .4 3.1 .4 2.1 .4-.7 .4-1.1 .4-9.7 .4 4.9 .4 3.4 .4-1.4 .4-9.2 .4 9.4 .4-2 .4 5.2 .4 1.4 .4-8.1 .4 4.1 .4 5.3 .4-5.2 .4 5.7 .4-3.1 .4 1.4 .4 8.6 .4-4.2 .4-1.2 .4 11 .4-8.2 .4 2.3 .4 1.3 .4 13.3 .4-8.1 .4 2.3 .4-4.9 .4 7.2 .4 2.7 .4-10 .4 9.1 .4 7.2 .4 2.2 .4-6.5 .4 11.3 .4-13.5 .4 9.6 .4-1.4 .4-6.8 .4 11.1 .4-10.3 .4 4 .4 3.6 .4-4.7 .4 12.4 .4-7.2 .4-3.2 .4 8.1 .4-.5 .4-4.6 .4 3.5 .4 7.8 .4 .5 .4-11 .4 13.3 .4 .8 .4 1.7 .4-7.2 .4-.7 .4 4.1 .4-2 .4 2.6 .4-1 .4 2.2 .4-.4 .4 3.2 .4 1.2 .4-1.6 .4-.9 .4 10.9 .4-2.9 .4-1.8 .4-6.5 .4 7.7 .4-3.8 .4 3.9 .4-1.8 .4 11.1 .4-12.3 .4-5.2 .4 10.1 .4 .1 .4 .6 .4-19.8 .4 7.8 .4 .2 .4-4.6 .4 8.2 .4 2 .4 1.5 .4-1.5 .4-5 .4 6.8 .4-7.1 .4-14.7 .4 10.5 .4-2.9 .4 4.6 .4-4.6 .4-.3 .4 7.6 .4-11.3 .4-3.9 .4 7.2 .4 1.2 .4-4.5 .4-.3 .4-3.6 .4-4.4 .4 2.1 .4-2.2 .4 10.6 .4-8 .4 7.6 .4-8.3 .4-4.5 .4 4.8 .4-.7 .4 4.9 .4-17.3 .4 7.1 .4 3.3 .4-6.5 .4 3.5 .4-2.8 .4 7.6 .4-1.6 .4-17.3 .4 1.7 .4 2.9 .4 2.7 .4-1.3 .4-2.6 .4 4.6 .4 .5 .4-4.7 .4-2.8 .4 .9 .4-5.1 .4 7.3 .4-.8 .4-9.5 .4 11 .4-8.3 .4 3.5 .4-4.9 .4-1.7 .4 3.6 .4-9.1 .4 2.9 .4-5.4 .4 7.6 .4-4.3 .4-1.1 .4-1.7 .4 5.2 .4-2.5 .4-2.9 .4-1.7 .4 10.6 .4-1.8 .4-13.3 .4 11.1 .4-3.6 .4-1.3 .4 .4 .4-8.9 .4 18.9 .4-2 .4-9.9 .4 0 .4 .9 .4-3.8 .4 6.2 .4-2.5 .4-4.8 .4 3.2 .4-.3 .4 .6 .4 1.8 .4 5.2 .4-4.7 .4-5.4 .4 15.6 .4-9.5 .4 10.6 .4-5.4 .4 2 .4-6.3 .4 5.1 .4-1.8 .4 2 .4 3.1 .4-3.8 .4 6.4 .4-10.6 .4 2.1 .4 7.9 .4 1 .4 3.2 .4 3.3 .4-5.2 .4 2 .4-1.9 .4 .1 .4-.7 .4 1.5 .4-2.8 .4 2.5 .4 5.2 .4-1.1 .4 3.7 .4-7.6 .4 .9 .4 4.2 .4-6 .4 0 .4 7.7 .4-4.4 .4 5.8 .4-3.7 .4-2.6 .4-3.1 .4 10.9 .4-6.4 .4-4.3 .4-3.3 .4 1 .4 3.8 .4 7.9 .4-10.8 .4 5.8 .4-.5 .4-13.5 .4 6.2 .4 10.5 .4-13.7 .4 16 .4-5 .4-7.7 .4 18.1 .4-9 .4 9.2 .4-5.8 .4-3.8 .4 10.2 .4 4.3 .4-1.5 .4-11.1 .4 10 .4-7.8 .4 3.9 .4 10.6 .4-12.6 .4 20.4 .4-19 .4 2.2 .4 11 .4-3.8 .4 1.3 .4-2.8 .4 9.4 .4-1.4 .4-.3 .4-2.4 .4-2.1 .4 8.7 .4-9.4 .4 8.9 .4 7.7 .4 1.7 .4-4 .4-8.7 .4 16.3 .4 3 .4-2.7 .4 7.5 .4 .1 .4-12 .4 8.5 .4 0 .4 11.5 .4-1.2 .4-3.6 .4 3.4 .4 2.6 .4-6.8 .4 3.6 .4 1.3 .4-.7 .4 1.4 .4 3.7 .4-6.7 .4 1.6 .4 10.5 .4 4.6 .4 2.7 .4-17.1 .4 11.5 .4-5.1 .4 2.4 .4 2.4 .4 4 .4 1.7 .4-13.9 .4 9.9 .4 9.3 .4-3.9 .4-7.9 .4 4 .4 1.7 .4 9.8 .4 4.5 .4-13.4 .4 8.7 .4-3.2 .4 5 .4-3.4 .4-3.8 .4 3 .4 .6 .4 11.1 .4-10.5 .4 7 .4-6.4 .4 1.3 .4 4.9 .4-3.6 .4 13.1 .4-2.8 .4-11.7 .4 8.7 .4 5.5 .4-13 .4 4.5 .4 9.9 .4-11 .4 7.8 .4-3 .4 1.9 .4-5.5 .4 5.3 .4-1.2 .4 11.4 .4-5 .4-2.1 .4-.1 .4 4.1 .4-10.9 .4 3.5 .4 .9 .4 1.1 .4-3.7 .4 11.2 .4-4.4 .4 9 .4-6.4 .4-.8 .4 4.4 .4 .4 .4-3.2 .4 4.6 .4 3.7 .4-8.2 .4 9 .4-7.2 .4 5.6 .4-4.3 .4-1.5 .4 3.7 .4-6.9 .4-2.1 .4 7.9 .4-.8 .4-4.2 .4 16.2 .4-8.3 .4-5.5 .4 6.2 .4 .3 .4-4.6 .4 .8 .4-8 .4 10.4 .4 8.3 .4-3.7 .4-.5 .4-8.1 .4-2.5 .4 9.7 .4-3 .4-2.6 .4-.7 .4 6 .4-1.7 .4-5.6 .4 1.5 .4-8 .4 2.2 .4 8.4 .4-5.3 .4-2.3 .4 5.3 .4 4.7 .4-10.7 .4 2.2 .4 .1 .4 13.1 .4-7.3 .4-4 .4-8.6 .4 10.6 .4-1.2 .4-4 .4-3 .4 1.3 .4-6.2 .4 6.1 .4-.6 .4-2.4 .4 2.7 .4-6.3 .4 13.2 .4-6.5 .4-5.2 .4 9.6 .4-1.2 .4-5.3 .4-4.1 .4 6.2 .4 2.6 .4 .9 .4 1.4 .4-.3 .4-11.5 .4 7.9 .4-9.7 .4 14.1 .4-2.6 .4 2.8 .4-4.3 .4-.1 .4-2.5 .4-9 .4 11.1 .4 13.9 .4-6.2 .4-7.2 .4 2.9 .4 .8 .4-4.9 .4 3.1 .4 1.9 .4-4 .4 4.9 .4 4 .4-1.9 .4-2.6 .4-2.1 .4 4.5 .4-6.1 .4-.4 .4 9.5 .4-8.1 .4-4.8 .4 10.9 .4-.6 .4 2 .4-6 .4 6.1 .4-6.3 .4-4.3 .4 4.1 .4 2.1 .4-6.7 .4 4.4 .4 2.1 .4-3.3 .4 2.4 .4-.6 .4-3.9 .4 5.6 .4 1.1 .4-12.8 .4 6.5 .4 7.3 .4-1.9 .4-11.6 .4 10.3 .4 5.7 .4-2.7 .4-.6 .4-4.4 .4 .9 .4-6.1 .4 5.6 .4 11.2 .4-11.5 .4-4.5 .4 7 .4-12.6 .4 21.1 .4-8.2 .4-4.4 .4-.6 .4-2.7 .4 5 .4-.4 .4-7.9 .4 12.5 .4-6.7 .4-3.6 .4 9.9 .4-.9 .4-6.5 .4-.4 .4 8.5 .4-7.3 .4 2.9 .4 5.6 .4-12.7 .4-1.6 .4 3.2 .4 1.2 .4 2.8 .4 4.6 .4-7.1 .4 10.3 .4-7.4 .4-10.9 .4 9.3 .4 3.6 .4 1.7 .4-9.1 .4 2.8 .4 11.2 .4-10.4 .4-5.5 .4-3.1 .4 5.1 .4 3.7 .4-7.5 .4 11.9 .4-10.6 .4-5.9 .4 12.3 .4-3.3 .4-1.5 .4 7.2 .4-9.5 .4 6.2 .4-6.4 .4 10.4 .4-8.2 .4-.2 .4 2.6 .4-3.6 .4 2.4 .4-3.6 .4 4 .4-3 .4-3.2 .4 5.2 .4-.7 .4-7.7 .4 3.5 .4-7 .4 8.6 .4 3.3 .4 7.6 .4-10.6 .4 3.5 .4 1.9 .4-3.8 .4-12.8 .4 6.7 .4 3.8 .4-.4 .4-.9 .4-5.2 .4-4.8 .4 10.9 .4 3.7 .4-8.1 .4 5 .4-5.3 .4 1.8 .4-2.1 .4 6.9 .4-8.6 .4 5.2 .4 3.7 .4-4.5 .4-5.9 .4 7.9 .4-2.8 .4-5.4 .4 5.4 .4-.6 .4 4.4 .4-5.3 .4 2.8 .4 2.5 .4-12.3 .4 14.1 .4-4.8 .4-4.9 .4 5.4 .4 4.3 .4-8.5 .4 .5 .4 9.1 .4 .7 .4 1.8 .4-9.8 .4-5.2 .4-.4 .4 2.6 .4-3.7 .4 6.6 .4 3.5 .4-11.8 .4 11.9 .4-12.2 .4 .5 .4-3.9 .4 9.7 .4-4.5 .4 0 .4-13.5 .4 9.5 .4 4 .4-14.8 .4 22.1 .4-8.4 .4 3.5 .4-7.2 .4 5.7 .4 1.6 .4 6.1 .4-17.7 .4 15.1 .4-15.6 .4 5.9 .4-2.9 .4 1 .4-8.8 .4 7.9 .4-4.6 .4 4.7 .4 2.2 .4-1.2 .4-.9 .4 7.2 .4-5.4 .4 1.2 .4 3.5 .4-7 .4 .6 .4 2.6 .4-4.7 .4 7.3 .4-9.4 .4 1.9 .4 .1 .4-1 .4 1.3 .4-2.5 .4-9.5 .4 17.1 .4-8 .4 5.5 .4-9.1 .4 8 .4-9.5 .4 13.2 .4-8 .4-1.8 .4-11.2 .4 1.6 .4 8.3 .4-1 .4-.4 .4 .2 .4 6.8 .4-7.2 .4-.4 .4-2.2 .4-2.2 .4 6.6 .4-4.5 .4-.3 .4 2.8 .4-1.7 .4 3 .4-.8 .4-10.5 .4 1.8 .4 8.1 .4-7.2 .4 4.3 .4-8 .4-8.2 .4 .5 .4 6.8 .4 .6 .4 13.1 .4-8.5 .4-.9 .4 .5 .4-13 .4 7.5 .4-1.4 .4 9.5 .4-13.7 .4-4.4 .4 6.9 .4-2 .4 .7 .4 0 .4-1.1 .4-4.6 .4 .2 .4 12.7 .4-15.2 .4 4.7 .4-8.2 .4-4.4 .4 11.9 .4-4.4 .4 4.6 .4-2.3 .4-4.9 .4-6.1 .4 12 .4-10.4 .4 8.8 .4-8.4 .4-.5 .4-3 .4-2.6 .4-5.2 .4 10.4 .4-18.1 .4-5.4 .4 6.4 .4-7.2 .4 5.3 .4-8.4 .4 3.8 .4-8.3 .4-7.4 .4-1 .4 1.7 .4-9.8 .4-4.6 .4-.4 .4-1.2 .4 .9 .4-7.7 .4-1.6 .4-8.8 .4 6.3 .4-2.1 .4-17.6 .4 .6 .4-5.5 .4-1.5 .4-6.9 .4-5.6 .4-6.6 .4 .1 .4-1.1 .4 1.4 .4-6 .4-8.3 .4-4.8 .4-7.7 .4 7.2 .4-6.4 .4-1 .4-2.6 .4-4.4 .4-6.3 .4-4.1 .4-6.4 .4-1.1 .4 2.5 .4 6.4 .4-15.4 .4 .9 .4 8.6 .4-13.6 .4-4.1 .4-.1 .4-2.9 .4-9.5 .4 12.5 .4-13.5 .4 5.6 .4 .6 .4 4.6 .4-2.7 .4-.6 .4-1.1 .4 6.4 .4-1.8 .4-.7 .4-1.7 .4 3.7 .4 6.4 .4-6.8 .4 10 .4 1.4 .4 7 .4-7.2 .4 .5 .4 6.2 .4 .5 .4-8.9 .4 20.5 .4-2.8 .4 1.3 .4-3 .4 7.4 .4-1.7 .4 10.5 .4-3.1 .4 5 .4-11.7 .4 3.1 .4 3.6 .4 .4 .4 12.3 .4-4.5 .4-5.4 .4 5.8 .4 12.1 .4-8.6 .4 6.5 .4-9.5 .4 7.7 .4 4 .4 1.5 .4 3.3 .4 3.7 .4 5.9 .4-12.3 .4 10.8 .4 5 .4-.5 .4 6.4 .4-4.4 .4 .4 .4 0 .4 10.4 .4-8.9 .4 6.1 .4 3.7 .4 5.1 .4-2.7 .4-1.4 .4 9.2 .4-6.8 .4 3.7 .4-4.7 .4 12.3 .4 1.6 .4-7.5 .4 9.2 .4 5.6 .4-4.2 .4-3.2 .4 9.4 .4 5.1 .4-10.7 .4 14.7 .4-3.3 .4 5.9 .4-8.8 .4 10.3 .4-2.6 .4 2.5 .4-3.3 .4 4.6 .4-5.5 .4-1.2 .4-2.9 .4-2.5 .4 8 .4-2 .4 1.2 .4-.9 .4 3 .4-1.5 .4-3.2 .4 6.5 .4 6.6 .4-14.8 .4 2 .4 4.8 .4-6.5 .4 8.5 .4-8.5 .4-2.7 .4 1.1 .4 9.6 .4-15.3 .4 10.3 .4-11.5 .4 13.8 .4-2.1 .4 .7 .4 6.7 .4-11.5 .4 5.3 .4-3.5 .4 1.4 .4-9.7 .4 8.3 .4-7.9 .4 7.9 .4-3.6 .4-5.2 .4 1.8 .4-1.1 .4-2.3 .4 10.4 .4-17 .4-3.3 .4-.5 .4 4.8 .4 .4 .4 3.1 .4 1 .4-4 .4-.9 .4-5.7 .4 9.3 .4 1.6 .4-7.6 .4 3.9 .4-6.8 .4 2.9 .4 .6 .4 3.7 .4-11.3 .4 7.7 .4 4.4 .4-2.3 .4 2.1 .4-14.9 .4 8.7 .4 2.9 .4-1 .4-7 .4 17.6 .4-3.3 .4-10.1 .4 7.9 .4 3.4 .4 5.3 .4-.7 .4-7.7 .4 2.5 .4 5 .4 4.3 .4-6.5 .4-.4 .4 6.5 .4-1.8 .4 6.4 .4-4 .4 2.8 .4-14.4 .4 3.4 .4-.5 .4 4.5 .4 5.4 .4-2.7 .4 4.2 .4-5.9 .4 8.9 .4-.2 .4-12.5 .4 3.6 .4 2.6 .4 7.5 .4 .2 .4 5.4 .4-16.1 .4 9 .4-.8 .4-1 .4 1.1 .4-9.4 .4 12.2 .4-3.2 .4-3.8 .4 13.7 .4-10.2 .4 4.9 .4-4.3 .4-3.9 .4 5.7 .4 4.2 .4-6.3 .4 7.9 .4 6.2 .4-2.3 .4-7.3 .4-2.2 .4 8.8 .4-11.5 .4 2 .4 14 .4-6.6 .4 .7 .4-3.9 .4 14.4 .4 0 .4-13.4 .4 5 .4-5.5 .4 3.8 .4 4.4 .4-.2 .4-7.6 .4 3.2 .4 10.5 .4-7.6 .4 2.4 .4-4.4 .4-3.4 .4-5 .4 .6 .4-3.5 .4 2.9 .4 1.1 .4 8.2 .4-12.1 .4 10.6 .4-11.9 .4 22.5 .4-15.2 .4 3.8 .4 8.4 .4-9.7 .4 1.6 .4 .4 .4 2.3 .4-5.2 .4 11.6 .4-2.9 .4-4.9 .4 5.6 .4-6.7 .4-2.1 .4 2.3 .4 2.9 .4-10.1 .4 6.2 .4 4 .4-7.9 .4 7.4 .4-7.2 .4 6.7 .4-1.3 .4 2.2 .4-5.3 .4-6.2 .4-2.9 .4 26.1 .4-19.7 .4 3.5 .4-3.6 .4 16.1 .4-2.9 .4 1.3 .4-9.5 .4 11.7 .4-8.3 .4 10.9 .4-6 .4-10.5 .4 12 .4-3.1 .4 17.7 .4-18.3 .4 6.1 .4 .9 .4-2 .4 1.4 .4 4.3 .4 2.9 .4-3.1 .4 1.6 .4 2.2 .4-4.2 .4 4.4 .4 2.1 .4 5.8 .4-1.1 .4-.3 .4 2.9 .4-8 .4 10.5 .4-6.9 .4 1.9 .4-.7 .4 6.3 .4-5.9 .4 7 .4-4 .4 0 .4 5.3 .4-5.6 .4 11.3 .4-9 .4 2 .4 9.3 .4-12.9 .4 12.9 .4-3.5 .4 .9 .4 1.3 .4-4.9 .4 13.7 .4-4.9 .4 1.3 .4 1.5 .4 1.5 .4-2.6 .4-5.7 .4-1.1 .4 .3 .4 5.2 .4 8 .4-11.1 .4 5.4 .4 5.4 .4-4.2 .4 1 .4-3.4 .4 6.9 .4-3.2 .4 0 .4 2.1 .4 4.6 .4 3.6 .4-10.1 .4 8.9 .4-7.5 .4-3.2 .4 6.6 .4 4.3 .4 0 .4 2.7 .4-11.6 .4 17.8 .4-2.3 .4-.4 .4-10.9 .4 10.8 .4-4.4 .4 .4 .4 2.9 .4-7.8 .4 13.9 .4 0 .4-.9 .4 3.3 .4-15.5 .4 7.2 .4-.1 .4-4.5 .4 10.5 .4 8.8 .4-18.2 .4 8.3 .4-2.5 .4 .5 .4-.2 .4 3 .4-6.6 .4 1.2 .4 10.4 .4-8.2 .4-.1 .4-8.7 .4 11.2 .4 .8 .4-1.7 .4 6.6 .4-17.8 .4 14.5 .4-12.6 .4 2.9 .4-4.7 .4 14.2 .4-4.7 .4-1.5 .4 2.4 .4-10.7 .4 7.5 .4 4.1 .4-3.9 .4 2.7 .4-7.5 .4 8.8 .4-2.3 .4 2.7 .4 6.8 .4-7.4 .4-3.3 .4 5 .4-7.6 .4 13.9 .4-8.3 .4 0 .4 2.4 .4-8.9 .4 6.1 .4-1.1 .4 11.8 .4-3.6 .4 1.8 .4-9 .4 .4 .4 4.4 .4-8.8 .4-1.3 .4 12.4 .4-5.5 .4-.1 .4-11 .4 6.4 .4-.3 .4-1.2 .4 5.2 .4-6.2 .4-1.2 .4 15.8 .4-7.3 .4-7.4 .4 16 .4-7.6 .4-.9 .4-13.9 .4 20.1 .4-6.4 .4 5.6 .4 2.7 .4-14.9 .4 16.1 .4-4.9 .4-3.4 .4-11.8 .4 21.7 .4-8 .4 1.8 .4-8.8 .4 9.3 .4 .2 .4 4.9 .4-11.8 .4-6 .4 8.2 .4-1.6 .4 6.7 .4-1.8 .4 2.2 .4 5.7 .4 2.5 .4-7.8 .4-7.9 .4 8.4 .4-.6 .4 1 .4 .1 .4 1.1 .4-10.4" fill="none" stroke="none" marker-start="url(#mk)" marker-mid="url(#mk)" marker-end="url(#mk)"/>
<path d="M229 1108.4l1-.7 1-.7 1-.7 1-.7 1-.7 1-.7 1-.7 1-.7 1-.7 1-.7 1-.7 1-.7 1-.7 1-.7 1-.7 1-.7 1-.7 1-.7 1-.7 1-.7 1-.7 1-.7 1-.7 1-.7 1-.7 1-.7 1-.7 1-.7 1-.7 1-.7 1-.7 1-.7 1-.7 1-.7 1-.7 1-.7 1-.7 1-.6 1-.7 1-.7 1-.7 1-.7 1-.7 1-.6 1-.7 1-.7 1-.7 1-.7 1-.7 1-.7 1-.7 1-.7 1-.8 1-.7 1-.7 1-.7 1-.8 1-.7 1-.8 1-.7 1-.8 1-.8 1-.8 1-.7 1-.8 1-.8 1-.8 1-.8 1-.8 1-.8 1-.9 1-.8 1-.8 1-.8 1-.8 1-.8 1-.9 1-.8 1-.8 1-.8 1-.8 1-.9 1-.8 1-.8 1-.8 1-.8 1-.8 1-.8 1-.8 1-.8 1-.8 1-.8 1-.7 1-.8 1-.8 1-.8 1-.8 1-.8 1-.7 1-.8 1-.8 1-.8 1-.8 1-.8 1-.8 1-.8 1-.8 1-.8 1-.8 1-.8 1-.9 1-.8 1-.8 1-.9 1-.8 1-.9 1-.9 1-.8 1-.9 1-.9 1-.9 1-.8 1-.9 1-.9 1-.9 1-1 1-.9 1-.9 1-.9 1-1 1-.9 1-1 1-1 1-1 1-1 1-1 1-1 1-1 1-1.1 1-1 1-1.1 1-1.1 1-1.1 1-1.1 1-1.1 1-1.1 1-1.1 1-1.2 1-1.2 1-1.2 1-1.2 1-1.3 1-1.2 1-1.3 1-1.4 1-1.3 1-1.4 1-1.4 1-1.4 1-1.5 1-1.5 1-1.6 1-1.6 1-1.6 1-1.6 1-1.7 1-1.7 1-1.8 1-1.8 1-1.8 1-1.9 1-1.9 1-2 1-2 1-2.1 1-2.1 1-2.3 1-2.3 1-2.3 1-2.5 1-2.6 1-2.9 1-3.1 1-3.1 1-3.2 1-3.1 1-3 1-2.7 1-2.3 1-2.2 1-2.3 1-2.7 1-3.3 1-4.3 1-5.5 1-6.5 1-7.1 1-7.8 1-8.1 1-8.2 1-8.3 1-8.3 1-8.6 1-9 1-9.4 1-9.9 1-10.4 1-11 1-11.6 1-12.4 1-13.6 1-14.8 1-15.8 1-16.6 1-17.2 1-19 1-20.5 1-20.9 1-20.3 1-19.6 1-19.5 1-19.5 1-19.6 1-19.9 1-20.1 1-20.1 1-20.1 1-20.3 1-20.6 1-20.4 1-19.4 1-18.1 1-17.5 1-16.1 1-14.5 1-14.8 1-5.1 1 7.1 1 12.3 1 12.9 1 15.3 1 17.8 1 19.2 1 21.9 1 24.2 1 24.8 1 24.5 1 25.3 1 25.1 1 24.1 1 23.5 1 22.8 1 22.1 1 21.4 1 21 1 20.1 1 18.7 1 17.3 1 16.7 1 15.9 1 14.8 1 13.3 1 11.6 1 10.5 1 10.1 1 9.4 1 8.8 1 8 1 7.3 1 6.6 1 5.6 1 5.1 1 4.8 1 4.6 1 4.2 1 3.9 1 3.6 1 3.2 1 2.7 1 2.4 1 1.9 1 1.8 1 1.8 1 1.7 1 1.5 1 1.5 1 1.4 1 1.3 1 1.1 1 1 1 .9 1 .7 1 .5 1 .3 1 .2 1 .2 1 .2 1 .2 1 .1 1 .2 1 .1 1 .1 1 .1 1 .1 1 0 1 .1 1 0 1 0 1 0 1 0 1-.1 1-.1 1-.1 1-.1 1-.1 1-.1 1-.2 1-.2 1-.2 1-.2 1-.2 1-.2 1-.3 1-.2 1-.3 1-.3 1-.3 1-.3 1-.3 1-.4 1-.3 1-.4 1-.6 1-.6 1-.8 1-.9 1-.9 1-1.1 1-1.2 1-1.2 1-1.3 1-1.3 1-1.4 1-1.4 1-1.4 1-1.5 1-1.5 1-1.4 1-1.5 1-1.5 1-1.6 1-1.7 1-1.8 1-2 1-1.9 1-2.1 1-2.1 1-2.1 1-2.2 1-2.1 1-2.2 1-2.1 1-2.1 1-2.1 1-2 1-2.3 1-2.4 1-2.6 1-2.6 1-2.7 1-2.7 1-2.5 1-2.5 1-2.3 1-2 1-1.7 1-1.4 1-.9 1-.5 1 0 1 .4 1 .7 1 1.1 1 1.3 1 1.5 1 1.7 1 1.8 1 1.9 1 1.9 1 1.8 1 1.8 1 1.7 1 1.5 1 1.3 1 1 1 1 1 1 1 1.1 1 1 1 1 1 1 1 1 1 .9 1 .9 1 .8 1 .8 1 .6 1 .6 1 .5 1 .4 1 .3 1 .2 1 0 1 0 1-.1 1-.2 1-.1 1-.3 1-.2 1-.3 1-.3 1-.4 1-.4 1-.4 1-.4 1-.5 1-.4 1-.5 1-.5 1-.5 1-.5 1-.6 1-.5 1-.5 1-.6 1-.6 1-.7 1-.7 1-.8 1-.8 1-.9 1-.9 1-.9 1-1 1-1 1-1.1 1-1 1-1.1 1-1.1 1-1.1 1-1.2 1-1.1 1-1.2 1-1.2 1-1.2 1-1.3 1-1.4 1-1.4 1-1.4 1-1.5 1-1.5 1-1.6 1-1.7 1-1.7 1-1.7 1-1.8 1-1.9 1-2 1-2 1-2.1 1-2.3 1-2.3 1-2.4 1-2.5 1-2.6 1-2.7 1-2.8 1-2.9 1-3 1-3.1 1-3.2 1-3.3 1-3.7 1-4.3 1-4.8 1-5.1 1-5.3 1-5.4 1-5.3 1-5.1 1-4.6 1-4.2 1-3.5 1-2.7 1-2.1 1-2.2 1-1.9 1-1.6 1-1 1-.5 1 .1 1 .2 1 .4 1 .5 1 .5 1 .4 1 .5 1 .3 1 .1 1-.1 1-.5 1-.8 1-.7 1-.6 1-.3 1 .2 1 1 1 1.5 1 1.9 1 2.4 1 2.5 1 2.7 1 2.8 1 2.6 1 2.6 1 3 1 3.3 1 3.4 1 3.6 1 3.6 1 3.6 1 3.4 1 3.2 1 3 1 3.2 1 3.2 1 3.2 1 3 1 2.9 1 2.5 1 2.1 1 1.6 1 1.2 1 1.1 1 1.1 1 1 1 1 1 .9 1 .9 1 .8 1 .7 1 .6 1 .5 1 .4 1 .4 1 .2 1 .1 1 0 1 0 1-.1 1 0 1-.1 1 0 1-.1 1-.1 1-.1 1-.2 1-.1 1-.1 1-.2 1-.2 1-.1 1-.2 1-.2 1-.4 1-.3 1-.5 1-.5 1-.6 1-.6 1-.7 1-.7 1-.8 1-.8 1-.8 1-.9 1-.9 1-.9 1-.9 1-.9 1-1 1-1.2 1-1.3 1-1.5 1-1.7 1-1.7 1-1.7 1-1.7 1-1.7 1-1.6 1-1.5 1-1.3 1-1.1 1-1.2 1-1.1 1-1.2 1-1.1 1-1.1 1-.9 1-.8 1-.7 1-.4 1-.2 1 .1 1 .5 1 .7 1 .9 1 1.1 1 1.2 1 1.1 1 1.2 1 1 1 .8 1 .7 1 .5 1 .6 1 .6 1 .5 1 .5 1 .6 1 .4 1 .5 1 .4 1 .3 1 .4 1 .2 1 .2 1 .1 1 0 1 0 1-.1 1-.1 1-.1 1-.1 1-.2 1-.1 1-.3 1-.2 1-.2 1-.3 1-.3 1-.3 1-.3 1-.3 1-.3 1-.4 1-.3 1-.3 1-.4 1-.4 1-.3 1-.4 1-.3 1-.4 1-.4 1-.4 1-.5 1-.5 1-.5 1-.5 1-.5 1-.6 1-.6 1-.6 1-.7 1-.6 1-.7 1-.7 1-.7 1-.7 1-.8 1-.7 1-.8 1-.8 1-.8 1-.8 1-.8 1-.8 1-.9 1-.9 1-.9 1-.9 1-1 1-1 1-1.1 1-1.1 1-1.1 1-1.2 1-1.3 1-1.3 1-1.4 1-1.4 1-1.5 1-1.5 1-1.6 1-1.8 1-1.8 1-2.1 1-2.1 1-2.4 1-2.4 1-2.6 1-2.8 1-2.9 1-3.1 1-3.2 1-3.4 1-3.5 1-3.7 1-3.8 1-4.3 1-5 1-5.7 1-6.1 1-6.3 1-6.1 1-5.9 1-5.8 1-5.9 1-5.9 1-6.1 1-6.3 1-6.6 1-7 1-7.4 1-7.9 1-8.1 1-8.4 1-8.4 1-8.5 1-8.4 1-8.4 1-8.4 1-8.6 1-8.8 1-9.1 1-9.6 1-10 1-10.2 1-10.3 1-10.2 1-10 1-10.1 1-9.9 1-9.7 1-9.4 1-9.8 1-9.7 1-8.6 1-6.9 1-5.1 1-4.8 1-4.2 1-3 1-1.5 1 .7 1 2.4 1 3.7 1 4.5 1 4.8 1 5.5 1 7.8 1 8.8 1 8.9 1 7.6 1 5.5 1 4.6 1 4.4 1 4.1 1 3.6 1 2.7 1 1.8 1 .5 1-.6 1-1.5 1-2.2 1-2.7 1-3 1-3.1 1-3 1-2.6 1-2.5 1-2.7 1-3 1-2.9 1-2.5 1-1.9 1-1 1 .1 1 .9 1 1.7 1 2.3 1 2.7 1 3.1 1 3.1 1 3.3 1 4.2 1 5.1 1 5.7 1 6.3 1 6.5 1 6.7 1 6.7 1 7.3 1 7.8 1 8.1 1 8.4 1 8.4 1 8.3 1 8 1 8.3 1 8.5 1 8.5 1 8.3 1 7.8 1 7.3 1 6.3 1 6.2 1 5.9 1 5.6 1 5.2 1 4.5 1 3.9 1 3.1 1 2.8 1 2.7 1 2.4 1 2 1 1.3 1 .6 1-.4 1-1.2 1-1.8 1-2.3 1-2.6 1-2.7 1-2.6 1-2.4 1-2.6 1-3.1 1-3.3 1-3.5 1-3.5 1-3.3 1-3.1 1-2.6 1-2.1 1-1.4 1-.6 1 .2 1 .8 1 1.1 1 1.5 1 1.7 1 1.7 1 1.7 1 1.6 1 1.5 1 1.6 1 1.8 1 1.9 1 1.7 1 1.4 1 .9 1 .4 1-.2 1-.5 1-.8 1-1.2 1-1.4 1-1.7 1-1.9 1-2.2 1-2.3 1-2.5 1-2.7 1-2.8 1-4 1-5.7 1-7 1-8 1-8.7 1-9.1 1-9.1 1-8.8 1-8.8 1-9.4 1-9.7 1-10.1 1-10.4 1-10.7 1-10.9 1-11.2 1-12.3 1-13.5 1-14 1-14.1 1-13.5 1-12.4 1-10.6 1-8.4 1-7.6 1-7.5 1-7.2 1-6.7 1-6 1-4.9 1-3.7 1-2.2 1-.6 1 1.2 1 2.7 1 4 1 5.2 1 6.2 1 7 1 7.7 1 8.1 1 8.6 1 13.1 1 17.3 1 19.4 1 19.4 1 17.6 1 13.8 1 12 1 11.4 1 10.7 1 10 1 9.4 1 8.9 1 8.2 1 7.7 1 7.3 1 7.1 1 6.7 1 6.5 1 6.1 1 5.8 1 5.4 1 5 1 4.6 1 4.2 1 4.3 1 4.3 1 4.2 1 3.9 1 3.5 1 2.9 1 2.2 1 1.2 1 .2 1-.4 1-.8 1-1.1 1-1.4 1-1.7 1-1.9 1-2.1 1-2.3 1-2.4 1-2.4 1-2.6 1-3.1 1-3.8 1-4.3 1-4.9 1-5.3 1-5.6 1-5.8 1-6.1 1-6.1 1-6.2 1-6.8 1-7.3 1-7.9 1-8.2 1-8.5 1-8.6 1-8.7 1-8.6 1-8.5 1-8.5 1-9.9 1-10.9 1-11.1 1-10.4 1-9 1-6.8 1-3.8 1-.2 1 2.2 1 4.1 1 5.6 1 6.7 1 7.6 1 8.1 1 8.2 1 8.3 1 10.1 1 11.7 1 12.6 1 12.9 1 12.9 1 14.4 1 14.8 1 13.5 1 10.4 1 8.7 1 7.8 1 7 1 6.5 1 6.1 1 6 1 5.9 1 5.6 1 5.2 1 4.6 1 4 1 3.2 1 2.9 1 2.7 1 2.4 1 2.3 1 1.9 1 1.7 1 1.4 1 1.1 1 1.1 1 1 1 .9 1 .9 1 .8 1 .8 1 .6 1 .6 1 .4 1 .3 1 .2 1 0 1-.2 1-.3 1-.5 1-.6 1-.7 1-.8 1-.9 1-.9 1-.9 1-.9 1-.9 1-.8 1-1 1-1.1 1-1.2 1-1.2 1-1.3 1-1.3 1-1.3 1-1.2 1-1.2 1-1.1 1-1 1-.8 1-.6 1-.6 1-.4 1-.5 1-.4 1-.3 1-.4 1-.3 1-.3 1-.4 1-.3 1-.4 1-.4 1-.5 1-.5 1-.6 1-.7 1-.8 1-.8 1-.8 1-.8 1-.7 1-.7 1-.6 1-.5 1-.3 1-.2 1 .1 1 .3 1 .6 1 .9 1 1 1 1.2 1 1.3 1 1.3 1 1.4 1 1.3 1 1.3 1 1.4 1 1.7 1 1.9 1 2 1 2.1 1 2.2 1 2.1 1 1.9 1 1.8 1 1.6 1 1.2 1 .9 1 .4 1 0 1-.2 1-.3 1-.5 1-.5 1-.6 1-.7 1-.7 1-.7 1-.7 1-.8 1-.7 1-.7 1-.6 1-.5 1-.5 1-.3 1-.2 1-.1 1 .2 1 .5 1 .8 1 .9 1 1.2 1 1.2 1 1.4 1 1.3 1 1.4 1 1.3 1 1.1 1 1 1 .9 1 .6 1 .7 1 .7 1 .7 1 .6 1 .6 1 .5 1 .4 1 .3 1 .2 1 .1 1-.2 1-.4 1-.6 1-.8 1-1 1-1.1 1-1.3 1-1.4 1-1.5 1-1.5 1-1.7 1-2.2 1-2.9 1-3.3 1-3.6 1-3.8 1-4 1-4 1-4 1-4.8 1-5.2 1-4.5 1-3.3 1-2.3 1-2.2 1-2 1-1.9 1-1.7 1-1.5 1-1.2 1-.8 1-.6 1-.2 1 .4 1 1.2 1 1.9 1 2.5 1 3 1 3.3 1 3.5 1 3.7 1 3.7 1 3.7 1 3.5 1 3.1 1 2.9 1 3 1 3.2 1 3.2 1 3.3 1 3.3 1 3.1 1 3.1 1 2.9 1 2.6 1 2.3 1 2 1 1.6 1 1.3 1 1.4 1 1.3 1 1.2 1 1.2 1 1.2 1 1.1 1 1 1 1 1 .9 1 .8 1 .7 1 .6 1 .5 1 .4 1 .2 1 .2 1 0 1-.1 1 0 1-.2 1-.1 1-.3 1-.2 1-.3 1-.3 1-.3 1-.3 1-.4 1-.4 1-.4 1-.4 1-.4 1-.5 1-.4 1-.5 1-.6 1-.7 1-.8 1-.8 1-1 1-1 1-1 1-1.1 1-1.1 1-1.2 1-1.2 1-1.1 1-1.2 1-1.2 1-1.2 1-1.1 1-1.1 1-1.1 1-1 1-1 1-1.2 1-1.1 1-1.3 1-1.3 1-1.3 1-1.3 1-1.2 1-1.3 1-1.1 1-1.2 1-1 1-.9 1-.8 1-.6 1-.5 1-.3 1-.1 1 .1 1 .2 1 .5 1 .5 1 .7 1 .7 1 .8 1 .9 1 .9 1 1 1 .9 1 .9 1 .9 1 .8 1 .7 1 .7 1 .5 1 .4 1 .3 1 .1 1-.2 1-.7 1-1 1-1.3 1-1.7 1-1.8 1-2 1-2.1 1-2.3 1-2.2 1-2.2 1-2.1 1-2 1-1.8 1-1.6 1-1.5 1-1.6 1-1.7 1-1.7 1-1.7 1-1.7 1-1.7 1-1.6 1-1.6 1-1.5 1-1.4 1-1.3 1-1.1 1-.9 1-.7 1-.5 1-.3 1 0 1 0 1 .1 1 .1 1 .1 1 .1 1 .2 1 .2 1 .1 1 .3 1 .2 1 .2 1 .3 1 .2 1 .3 1 .3 1 .4 1 .6 1 .7 1 .8 1 .8 1 .9 1 .8 1 .7 1 .7 1 .5 1 .3 1 .1 1-.2 1-.7 1-1.1 1-1.3 1-1.7 1-2 1-2.1 1-2.3 1-2.4 1-2.5 1-2.5 1-2.5 1-2.5 1-2.8 1-3.3 1-3.6 1-3.9 1-4 1-4.1 1-4.1 1-4 1-3.9 1-3.7 1-3.3 1-3 1-2.9 1-3 1-3 1-3 1-2.8 1-2.5 1-2.2 1-1.6 1-1.1 1-.4 1 .2 1 .7 1 1 1 1.2 1 1.3 1 1.4 1 1.4 1 1.2 1 1 1 .6 1 .4 1 .3 1 .3 1 .2 1 .2 1 .2 1 .2 1 .2 1 .2 1 .3 1 .3 1 .5 1 .5 1 1.1 1 1.5 1 1.9 1 2.2 1 2.3 1 2.3 1 2.4 1 2.2 1 1.9 1 1.7 1 1.8 1 1.8 1 1.9 1 1.9 1 1.8 1 1.7 1 1.6 1 1.4 1 1.1 1 .9 1 .6 1 .2 1-.2 1-.5 1-.9 1-1.1 1-1.4 1-1.6 1-1.7 1-1.9 1-1.9 1-2 1-2 1-2 1-1.9 1-1.8 1-1.6 1-1.6 1-1.8 1-1.9 1-2.1 1-2.1 1-2.1 1-2.2 1-2.1 1-2.2 1-2 1-2 1-1.9 1-1.8 1-1.6 1-1.5 1-1.2 1-1 1-.8 1-.4 1-.2 1 .2 1 .7 1 .9 1 1.3 1 1.4 1 1.7 1 1.7 1 1.7 1 1.7 1 1.7 1 1.4 1 1.3 1 .9 1 .7 1 .2 1-.2 1-.5 1-.8 1-.9 1-1.1 1-1.2 1-1.2 1-1.1 1-1.1 1-.9 1-.6 1-.4 1 .1 1 .8 1 1.6 1 2.1 1 2.6 1 3 1 3.2 1 3.4 1 3.4 1 3.2 1 3.2 1 3.4 1 3.8 1 4.1 1 4.3 1 4.4 1 4.4 1 4.5 1 4.3 1 4.2 1 4 1 3.7 1 3.3 1 3.1 1 3.1 1 3.1 1 3.1 1 3 1 3 1 2.8 1 2.7 1 2.6 1 2.4 1 2.2 1 2 1 1.7 1 1.5 1 1.2 1 1 1 1.1 1 1 1 .9 1 .9 1 .9 1 .8 1 .7 1 .7 1 .6 1 .5 1 .4 1 .3 1 .1 1 .1 1 0 1-.1 1-.1 1-.1 1-.1 1-.1 1-.2 1-.1 1-.2 1-.1 1-.1 1-.1 1-.1 1-.1 1 0 1 0 1 .2 1 .2 1 .3 1 .3 1 .4 1 .4 1 .5 1 .5 1 .4 1 .5 1 .5 1 .5 1 .4 1 .4 1 .3 1 .3 1 .2 1 .2 1 0 1-.1 1-.2 1-.4 1-.5 1-.6 1-.7 1-.8 1-.9 1-.9 1-1 1-1 1-1.1 1-1 1-1 1-1.1 1-.9 1-1 1-.9 1-.8 1-.7 1-.6 1-.6 1-.3 1-.3 1-.1 1 0 1 0 1-.1 1 0 1 0 1 0 1 0 1 0 1 0 1 0 1-.1 1 0 1 0 1 0 1 0 1 0 1 0 1 0 1 0 1 0 1 0 1 0 1 0 1 0 1 0 1 0 1 0 1 0 1-.1 1 0 1 0 1 0 1 0 1 0 1-.1 1 0 1 0 1-.2 1-.4 1-.7 1-.8 1-1.1 1-1.1 1-1.3 1-1.4 1-1.5 1-1.4 1-1.5 1-1.4 1-1.4 1-1.3 1-1.4 1-1.5 1-1.5 1-1.6 1-1.7 1-1.6 1-1.7 1-1.7 1-1.7 1-1.7 1-1.7 1-1.6 1-1.6 1-1.6 1-1.6 1-1.5 1-1.6 1-1.5 1-1.5 1-1.6 1-1.6 1-1.6 1-1.6 1-1.7 1-1.7 1-1.8 1-1.7 1-1.8 1-1.7 1-1.8 1-1.8 1-1.9 1-2.1 1-2.1 1-2.3 1-2.6 1-2.7 1-3.3 1-3.7 1-4.1 1-4.3 1-4.4 1-4.5 1-4.6 1-4.9 1-5.1 1-5.2 1-5.2 1-5 1-5 1-5 1-5 1-5 1-5 1-5.2 1-5.2 1-5.2 1-5 1-4.6 1-4.3 1-4.4 1-4.2 1-3.6 1-3 1-2.2 1-2 1-1.9 1-1.6 1-1.1 1-.6 1 0 1 .8 1 1.3 1 1.6 1 2 1 2 1 2.1 1 2.9 1 3.3 1 3.7 1 3.9 1 3.8 1 3.7 1 3.6 1 3.7 1 3.7 1 3.7 1 3.6 1 3.4 1 3.3 1 3.5 1 3.8 1 3.6 1 3.1 1 2.4 1 1.1 1 .1 1-.2 1-.2 1-.3 1-.4 1-.5 1-.4 1-.5 1-.6 1-.4 1-.5 1-.4 1-.4 1-.3 1-.2 1-.1 1 .1 1 .5 1 .9 1 1.1 1 1.4 1 1.4 1 1.6 1 1.5 1 1.4 1 1.3 1 1.5 1 1.6 1 1.8 1 1.7 1 1.8 1 1.6 1 1.5 1 1.2 1 .9 1 .5 1 .1 1 .2 1 .2 1 .1 1 .2 1 .1 1 .1 1 .1 1 0 1 .1 1 .1 1 0 1 0 1 0 1-.1 1-.3 1-.3 1-.3 1-.4 1-.5 1-.4 1-.4 1-.4 1-.4 1-.2 1-.2 1 0 1 .2 1 .4 1 .5 1 .7 1 .7 1 .7 1 .7 1 .6 1 .6 1 .6 1 .7 1 .8 1 1.1 1 1.4 1 1.8 1 2.1 1 2.4 1 2.5 1 2.8 1 2.8 1 2.8 1 2.9 1 2.8 1 2.6 1 2.5 1 2.4 1 2.5 1 2.5 1 2.5 1 2.5 1 2.6 1 2.5 1 2.5 1 2.4 1 2.4 1 2.3 1 2.1 1 2.1 1 1.9 1 1.8 1 1.7 1 1.8 1 1.8 1 1.8 1 1.7 1 1.7 1 1.7 1 1.5 1 1.4 1 1.3 1 1.1 1 1 1 .7 1 .5 1 .3 1 .1 1 .1 1 .1 1 .1 1 .1 1 .1 1 .1 1 .1 1 0 1 .1 1 0 1 .1 1 0 1 0 1 0 1-.1 1-.2 1-.4 1-.4 1-.5 1-.5 1-.6 1-.5 1-.4 1-.4 1-.3 1-.2 1 0 1 0 1 .1 1 .1 1 .1 1 .1 1 .2 1 .2 1 .2 1 .3 1 .4 1 .3 1 .5 1 .5 1 .5" fill="none" stroke="#000" stroke-width="7" stroke-linejoin="round" stroke-linecap="round"/>
<path d="M229 1348.6l.4 10.2 .4-8.1 .4 2.3 .4 .7 .4-2.5 .4-2.4 .4 7.7 .4-1.1 .4-8.8 .4 16.3 .4-5.2 .4-6.6 .4 6.3 .4-5.2 .4 1.6 .4 3.2 .4-7.8 .4 7 .4 3.1 .4-.3 .4-6.1 .4 4.5 .4-9.6 .4 5.6 .4 2.3 .4-6.8 .4 4.8 .4 6.9 .4 3.3 .4-6.9 .4 .2 .4-6.9 .4-.9 .4-.8 .4 7.5 .4 .8 .4-5.4 .4-2.2 .4 5.7 .4 .2 .4-1.7 .4 5.4 .4-5.3 .4 .1 .4-3.9 .4 4.7 .4 4.7 .4-5 .4 .1 .4 1.4 .4-.6 .4 .9 .4 .1 .4 .3 .4-5.4 .4 4.1 .4-7.2 .4 7.1 .4-5.8 .4 4.5 .4 2.1 .4-3.4 .4 2 .4-6.7 .4 3 .4 5.9 .4-7.1 .4 6.9 .4-7.9 .4 1.8 .4-.8 .4 4.2 .4 1.9 .4-6.2 .4 3.3 .4 6.8 .4-7.5 .4-2 .4 4.5 .4-2.5 .4-1.9 .4-4.4 .4 9.9 .4-5.4 .4 2 .4-4.2 .4 8.9 .4-2.3 .4 .8 .4-4.4 .4 2.1 .4 1.4 .4 .4 .4-2.9 .4-1.6 .4-1.4 .4-1.7 .4-1 .4 4.9 .4-2.5 .4-6.9 .4 6.9 .4 4.5 .4-5.3 .4-6.3 .4 6.5 .4 3.3 .4-2.5 .4-2.6 .4 8.6 .4 0 .4-7.9 .4 3.3 .4-1.8 .4 1.3 .4 2.4 .4-2.6 .4-3 .4-3.1 .4-.8 .4 2.9 .4 4.4 .4-3.5 .4-1.1 .4 .6 .4-1 .4 1.8 .4-6.7 .4-3.4 .4 5.8 .4-3 .4 10.5 .4-7.1 .4-.6 .4-5.1 .4 6.8 .4-3.7 .4 6.5 .4-1.3 .4-6.5 .4 4.4 .4-11.9 .4 7.3 .4 7.2 .4-2 .4-2.6 .4-1 .4-5.7 .4 0 .4 5.9 .4 5.8 .4-15.5 .4 10.6 .4-.3 .4 1.1 .4-7.3 .4 1.1 .4 2 .4-4.4 .4-1 .4 1.1 .4 2.9 .4 1.6 .4-1.8 .4 .2 .4-3.2 .4-.4 .4 7 .4-4.8 .4-.3 .4 3.8 .4 .9 .4 0 .4-3.6 .4-1.9 .4 1.1 .4-.6 .4 4.6 .4-4.5 .4 1.2 .4-2.7 .4 5.2 .4-13.4 .4 9.3 .4 1.3 .4-7.5 .4 12.7 .4-9 .4-.2 .4-3.7 .4 7.5 .4-2.6 .4-3.3 .4 3 .4 1.7 .4 2 .4-4 .4-4.7 .4 1.4 .4-6.9 .4 6 .4 5.6 .4-1.1 .4-2.4 .4-1 .4 7.4 .4-5.2 .4 2.4 .4-2.1 .4-4.3 .4 8.6 .4-11 .4 0 .4 2.9 .4-1.3 .4 .6 .4-.3 .4 6.1 .4-3.7 .4 1 .4-7.6 .4 2.8 .4 7.4 .4-9 .4 9.2 .4-8.8 .4 5.2 .4-4.6 .4 4 .4-4.4 .4 2.4 .4 7.5 .4-8.1 .4 9.3 .4-9.8 .4-2.9 .4 4.8 .4-2 .4 8.4 .4-3.6 .4 1.2 .4-2.3 .4 7.2 .4-6.7 .4-1.1 .4-5.4 .4-.4 .4 4.2 .4 3.2 .4 .4 .4-8.2 .4 5.7 .4-1.4 .4-5.2 .4 6.4 .4-11 .4 9.9 .4 8.6 .4-13.8 .4 4 .4-7.5 .4 4.4 .4 5.9 .4-7.1 .4 3.9 .4-1.3 .4-.1 .4 2.1 .4 1.2 .4 2.9 .4-1.6 .4-5.6 .4 7.8 .4-.7 .4-11.1 .4 8.8 .4 .6 .4 .5 .4-1.7 .4-7.2 .4 4 .4-7.1 .4 7.5 .4 8.6 .4-5.3 .4 .6 .4-5.3 .4-2 .4-.2 .4 4.7 .4-3.7 .4 .7 .4 7 .4-10.9 .4 1.3 .4 3.2 .4 1.6 .4-.1 .4-5 .4 6.3 .4-1.2 .4 1.9 .4-5.7 .4 5.3 .4 0 .4-3.5 .4 1.8 .4-1.3 .4 7.6 .4-15.6 .4 4.6 .4-1 .4 5.3 .4-1.2 .4 1.1 .4 4.5 .4-9.2 .4 3.2 .4 2.5 .4-3.9 .4 6.3 .4-.1 .4-4.1 .4-4.1 .4 13.4 .4-4.4 .4-.1 .4-1.4 .4-.2 .4 3.4 .4-3.3 .4-2.4 .4 5.4 .4-2.5 .4-3.3 .4-.4 .4 8.3 .4-2.1 .4 5.4 .4-9.8 .4-.8 .4 4.6 .4 3.9 .4-3 .4-.6 .4 5.9 .4-10.4 .4-1.9 .4 2.1 .4 1.7 .4 2.9 .4 2.6 .4-2.3 .4 4.5 .4-9.3 .4 11 .4-10.8 .4 8 .4-8.3 .4 5.2 .4-1.1 .4 1.9 .4 1.1 .4-3.8 .4 .7 .4 1.3 .4-6.1 .4 2.4 .4-3.5 .4 6.6 .4 8.9 .4-5.8 .4-6.3 .4 .7 .4 6.8 .4-5.7 .4-4.4 .4 2.4 .4 0 .4 .2 .4 6.9 .4-2.3 .4-6 .4 3.9 .4-2.3 .4-.1 .4-1 .4 13.1 .4-8 .4 3.6 .4 1.4 .4-4.9 .4 3.9 .4 .2 .4-1.1 .4 8 .4-7.4 .4-1.9 .4 3.7 .4 4.7 .4-2.9 .4-5.7 .4-1.3 .4-.1 .4 1.2 .4 4.4 .4 2.1 .4-12.3 .4 9.2 .4-4.2 .4 7.4 .4 1.1 .4-6.6 .4 1.5 .4-1.8 .4 5.6 .4-7.9 .4 2.2 .4 1.9 .4 7.8 .4 4.9 .4-9.3 .4-4.9 .4 5.4 .4-3.6 .4 5.5 .4-6.2 .4 3.1 .4 1.6 .4 2.3 .4-2.3 .4 5.6 .4-4.5 .4-7.7 .4 11.2 .4-4.8 .4-1.4 .4 8.8 .4-9.9 .4 4.3 .4-3 .4 8.4 .4-6.8 .4 2.5 .4-6.5 .4 11.5 .4-10 .4 8.1 .4 .9 .4 .6 .4 2.4 .4-11.9 .4 6.4 .4-1 .4 1.3 .4 2.8 .4-3.9 .4-3.6 .4 2.9 .4 6.7 .4-10.8 .4 5.1 .4-4.2 .4 8.6 .4-11.1 .4 5.4 .4 .9 .4 1.1 .4 9.1 .4-3.1 .4-10.4 .4 13 .4-13.5 .4-2.6 .4 1.5 .4 7 .4 1.4 .4-11 .4 10.7 .4-2.7 .4 4 .4-4.4 .4 5.3 .4-1.3 .4-7 .4 10.7 .4-4.9 .4 2.1 .4 2.2 .4-9 .4 3.7 .4-3 .4-.4 .4 4.9 .4 .4 .4 4 .4 .3 .4-5.7 .4-3.2 .4 13.9 .4-1.8 .4-9.1 .4-3.3 .4 2.1 .4 2.9 .4 3.4 .4-.6 .4-2.2 .4-2.7 .4 1.7 .4-2 .4 1.6 .4-.7 .4 2.4 .4-10 .4 5.8 .4-.3 .4-4 .4 3.2 .4-4.4 .4 .8 .4 .5 .4-.8 .4-2.4 .4 5.7 .4-4.9 .4-.7 .4-1.6 .4-5 .4-2.1 .4 5.7 .4-6.2 .4-7 .4-3 .4 8.5 .4-5.1 .4 1.5 .4-3.1 .4-.5 .4-.1 .4-5.4 .4 4.1 .4 3.3 .4-1.9 .4-10.6 .4 1.1 .4-.4 .4 4.1 .4 4.2 .4-2.2 .4-8.2 .4 7.9 .4 4 .4-3.8 .4 11.1 .4-8.6 .4 9.5 .4 7 .4-12.4 .4 6.4 .4 6.2 .4 10.9 .4-15.2 .4 12.3 .4 1.4 .4-.3 .4 .7 .4 3.6 .4 3 .4-1.8 .4 14 .4-8.4 .4 5.4 .4 1.8 .4 3.8 .4 4.9 .4-.7 .4 5 .4 10.7 .4-.1 .4-2.9 .4 7.2 .4-4.6 .4 6.1 .4-5 .4 2.7 .4 2.4 .4 9.5 .4-3.6 .4 1.5 .4-1.8 .4 .2 .4-.8 .4 .1 .4-4.2 .4-6.4 .4-1.8 .4 5.7 .4-1.9 .4-6.3 .4-12.1 .4 10.1 .4-8.3 .4-4.9 .4-2.9 .4-4.8 .4 5.5 .4-3.4 .4-14.3 .4 .7 .4-.7 .4 1.5 .4-17.5 .4 11.3 .4 .4 .4-10.9 .4-1.6 .4 2.5 .4-6.5 .4-9.8 .4-2.1 .4-2.1 .4-4.2 .4 3.4 .4-4.3 .4 .4 .4 1 .4 3 .4-7.5 .4-9.3 .4 13.1 .4-6.2 .4 5.5 .4-6.4 .4 3.6 .4-1.2 .4 1.1 .4 6.1 .4-7.1 .4 4.3 .4 1.1 .4-1.5 .4-6.4 .4 11.6 .4-11 .4 5.5 .4 5.4 .4 4.7 .4 2.7 .4 .8 .4 .1 .4-3 .4 7.6 .4-5 .4 7 .4-12.6 .4 6.5 .4 2.9 .4 3.7 .4-8.5 .4 14.6 .4 2.2 .4 .5 .4-4 .4 9.5 .4-6.9 .4 7.4 .4-2.7 .4 1.5 .4 .6 .4 1.8 .4 5.8 .4 2.5 .4 1 .4-1.2 .4-.1 .4-.1 .4 6.1 .4-8.4 .4-.3 .4 3.2 .4-6.7 .4 6.3 .4 1 .4-3.7 .4 2.2 .4 5.6 .4-3.5 .4 1.6 .4 4.2 .4-6.5 .4-1.9 .4 4.8 .4 2.2 .4-9 .4 10.5 .4-3.8 .4-.1 .4-1.7 .4 3 .4 5 .4-1.6 .4 1.4 .4-4.7 .4 8.3 .4-1.2 .4-5.2 .4-10.5 .4 11.1 .4 10.7 .4-11 .4-3.9 .4 11.4 .4-9.5 .4 4.6 .4 1.2 .4-9.3 .4 6.7 .4 4.4 .4-6.3 .4 4.1 .4-2.9 .4 4.3 .4 3.3 .4-12.3 .4 3.2 .4 2.8 .4-4.5 .4-.9 .4 1.8 .4 .2 .4-1.8 .4 3.9 .4 1.7 .4-.4 .4-.5 .4 1.9 .4-10.9 .4 4.9 .4 1 .4 1.2 .4-9.2 .4 14.3 .4-11.9 .4 4.5 .4 1.7 .4 1.2 .4-7.7 .4 .3 .4 3.5 .4 .6 .4 1.1 .4-4.4 .4-2.9 .4-3 .4 12.5 .4-13.3 .4 8.4 .4-2.1 .4 1.8 .4 .5 .4 1.4 .4-6.2 .4 1.7 .4-10.1 .4 8.1 .4-4.2 .4 2.9 .4 5.6 .4-4.9 .4 3.9 .4-5.6 .4 2.3 .4-3.6 .4-9 .4 7.5 .4 1.7 .4 1.7 .4-.8 .4-.6 .4 4.4 .4-1.5 .4-4.4 .4 5.3 .4-12.1 .4 7.1 .4 .5 .4 6 .4-7.8 .4-4 .4 6.9 .4 6.3 .4-8.1 .4 .4 .4-.5 .4 1 .4 5.2 .4 2.7 .4-6.3 .4-2.5 .4 8.1 .4-7.4 .4-.3 .4-1.8 .4 0 .4 2.3 .4-2.4 .4 2.9 .4-1.5 .4 1.8 .4-4.1 .4 .6 .4 1.7 .4-1 .4 0 .4 4.2 .4-9.6 .4-3.9 .4 10.9 .4-5.3 .4 4.3 .4-9.3 .4-8.7 .4 9.3 .4-12.8 .4-9.1 .4-7 .4-.1 .4-10.7 .4-.6 .4-1.2 .4-14.6 .4 1.4 .4 1.6 .4 4.4 .4-2.4 .4-3.8 .4 11.3 .4-3.5 .4 5.7 .4 7.7 .4-.3 .4 21.5 .4 .1 .4 1.6 .4 1.9 .4 2.3 .4 10.3 .4 4.3 .4-2.9 .4 1.8 .4 4.2 .4-1.6 .4-6.6 .4 11.6 .4-.9 .4 2.9 .4-5.4 .4-4.9 .4 4.5 .4 7.3 .4 8.3 .4 2 .4-8 .4-6.7 .4 5.4 .4 4 .4 .6 .4-.8 .4 5.9 .4-8.9 .4-4.8 .4 6 .4-.7 .4 14.9 .4-9.8 .4-4.8 .4 9.1 .4 2.1 .4-3.7 .4 1 .4 3.9 .4-1.8 .4-4.9 .4 5.8 .4 1.7 .4-2.2 .4 2.5 .4-1 .4-3.3 .4 .5 .4 3.4 .4-4.8 .4 7.4 .4 .4 .4-13.8 .4 8.4 .4-2.8 .4 .5 .4 3.3 .4-1.3 .4 3 .4-1.1 .4 0 .4-5 .4 1.6 .4 7.4 .4-17 .4 17.5 .4-10 .4 7 .4-16.5 .4 8.8 .4 4.9 .4-3.5 .4 3.2 .4-8.6 .4 .8 .4-1 .4 4.3 .4-.8 .4-3.2 .4-1.3 .4-.8 .4 .9 .4-5.1 .4 3.1 .4-1.1 .4-2.5 .4-.9 .4 8 .4-9.7 .4 3.6 .4 3.3 .4-3.5 .4-3.8 .4 3.4 .4-11.2 .4-.1 .4 2.4 .4-.6 .4-.9 .4 6.9 .4-2.5 .4-9.1 .4-.5 .4-6.8 .4 3.3 .4-8.9 .4 9.8 .4-10 .4 2.8 .4-9.6 .4 9.9 .4-4.9 .4 4.4 .4-9.3 .4-8.3 .4 2.6 .4-2.7 .4 11.6 .4-9.6 .4-.6 .4 6.2 .4-.7 .4 2 .4-2.9 .4-4.8 .4 4.5 .4-1.5 .4 17 .4 .7 .4-3.1 .4 6.7 .4 2.7 .4 2.4 .4 2 .4 3.9 .4-1.2 .4-7.7 .4 .4 .4 18.4 .4-1.3 .4-12 .4 12.6 .4-3.8 .4 1.8 .4-8.8 .4 14.5 .4-3.7 .4 3.8 .4 1.1 .4 .8 .4 1.4 .4-5.9 .4-.5 .4-3.8 .4 4.8 .4-3.4 .4-4.2 .4 10 .4-2.3 .4-14.5 .4 2.9 .4 6.9 .4-5.1 .4 10.8 .4-4.8 .4 1.4 .4 1.3 .4 1.5 .4-7.3 .4 3.6 .4-2 .4 2.1 .4-1.4 .4 3.4 .4-4.1 .4-4.8 .4 2.3 .4-5.8 .4 6 .4 4.8 .4-9.5 .4-4.9 .4 6.4 .4-2.2 .4 1.9 .4-2.9 .4 2.5 .4-5.1 .4 10.8 .4-8 .4 2.9 .4 .7 .4-4.3 .4 2.3 .4-3.3 .4-1.2 .4 .7 .4 2.8 .4-7.9 .4 1.3 .4 .2 .4 .7 .4 7.3 .4-5.4 .4-1.4 .4 1.7 .4 3.8 .4-8.1 .4 7.6 .4-14.8 .4 6.2 .4 10.1 .4 .2 .4-6 .4-2.7 .4 5.3 .4-5.4 .4 8.5 .4-1.6 .4-1.8 .4-7 .4 7.9 .4-5.3 .4 .1 .4-.8 .4 1.4 .4 2.7 .4 1.5 .4 .1 .4 7.3 .4-12.4 .4 6.5 .4-7.8 .4 2.1 .4-4.2 .4 10.4 .4-4.1 .4-.5 .4-1 .4 4.6 .4-6.2 .4 4 .4 9.3 .4-11.5 .4-2 .4-1.6 .4 8 .4-3.2 .4-3.5 .4-.2 .4 3.8 .4-4.4 .4 13.6 .4-9.9 .4 .1 .4 .5 .4-7.4 .4 1.7 .4 4.8 .4 1.6 .4-5.2 .4 12.9 .4-5.4 .4 3.8 .4-.4 .4-6 .4 11.7 .4-10 .4-8.7 .4-1.9 .4 10.4 .4 3.8 .4-3.4 .4 7.4 .4-8.8 .4 3.9 .4 .9 .4-7.7 .4 6 .4 .3 .4 3.3 .4 .6 .4-.9 .4-7.5 .4 6.6 .4 1.6 .4-4.4 .4 3.2 .4 .2 .4 1.9 .4-4.8 .4 1.9 .4-1.2 .4-.5 .4-2.9 .4 1.4 .4-3.4 .4 4.1 .4 4 .4-.3 .4 .7 .4-3.7 .4 6.7 .4-8.1 .4 5.5 .4-1.5 .4-5 .4 .2 .4 6.5 .4-3.1 .4 1.1 .4 9.9 .4-8.5 .4-1.9 .4 2.8 .4-5.8 .4 1.9 .4 2.7 .4-5.4 .4 3.5 .4-.7 .4 1.3 .4-8.1 .4 15.5 .4-8.1 .4 2.8 .4-6.9 .4-1.2 .4 5.8 .4-1.5 .4 4.3 .4-6.9 .4-.3 .4 5.8 .4 1.6 .4 .9 .4-4.2 .4 1.2 .4-4.7 .4 9.2 .4-.9 .4-.2 .4-12 .4 10.8 .4-7.2 .4 5.2 .4-.4 .4 3.3 .4-6.3 .4-.9 .4-3 .4-1 .4 7.6 .4-6.7 .4 6.7 .4-4.8 .4-1 .4 6.5 .4-.7 .4-8.3 .4 3.4 .4 .5 .4 2.7 .4-6.4 .4 1.2 .4 1.1 .4 3.3 .4 .7 .4-6.5 .4 9.8 .4-6.1 .4-5.6 .4-3.5 .4 4.4 .4-8.5 .4 11 .4 1.4 .4 2.9 .4-3.6 .4-9.9 .4 6 .4 4.1 .4-12.8 .4 5.7 .4 6.1 .4-2.7 .4-9.3 .4 6.5 .4 2.1 .4 8.9 .4-11.3 .4-2.3 .4 4.9 .4 .3 .4 .8 .4 3.7 .4-6.8 .4-5.9 .4 6.1 .4-.2 .4 4.1 .4-.7 .4-7.1 .4 6.6 .4 .9 .4-5.3 .4 4.9 .4-3.5 .4 0 .4-1.5 .4 4.2 .4 7.7 .4-10.3 .4-6.1 .4 4.2 .4-1.5 .4 4.1 .4-1.9 .4 12 .4-7.7 .4 5.1 .4-11.1 .4 2.5 .4 10.3 .4-16.1 .4 8.4 .4-7.1 .4 14 .4-12.6 .4 5.3 .4 1 .4-6.2 .4 18.9 .4-11.2 .4 8.5 .4-9.8 .4-2.9 .4 8 .4 .4 .4 11.1 .4-15.4 .4-1.7 .4 4.4 .4 5 .4 1.8 .4-5.2 .4 2.3 .4 4.6 .4 3 .4-6.9 .4 3.8 .4-11.7 .4 8 .4 6.8 .4-1.4 .4-.2 .4 8.6 .4-7.9 .4-3.1 .4 6.4 .4 .5 .4-5.5 .4 10 .4 3.6 .4-9.8 .4-.8 .4 3.9 .4 6.4 .4-7.7 .4-.4 .4 1 .4 4 .4 .1 .4-1.4 .4 6.3 .4 4.9 .4-12.4 .4 7.3 .4-3.3 .4 10.3 .4-15.3 .4 2.4 .4 2.1 .4-6.9 .4 5.4 .4 4.1 .4-9.6 .4 7 .4 7.3 .4-10.7 .4-1.3 .4-7.4 .4 10.8 .4-6.9 .4 9.7 .4 4.8 .4-4.9 .4-6.1 .4 6.4 .4-5.1 .4-3 .4 2.7 .4 3.2 .4-2.8 .4 3.9 .4 7.1 .4-7 .4 .6 .4-6.5 .4 8.8 .4-4.5 .4 2.8 .4-8.1 .4 4.4 .4-11.7 .4 8.8 .4-2.3 .4-.9 .4 12.1 .4-14.8 .4 6.1 .4-.1 .4 2.8 .4 2 .4-11.8 .4 4.6 .4-.9 .4 6.1 .4 .9 .4-6.2 .4-.8 .4-2.3 .4 6 .4 5.7 .4-5.9 .4-5.1 .4-.7 .4 .3 .4-4.3 .4 15 .4-7.7 .4-2 .4 11.4 .4-9.2 .4 5.4 .4-5.6 .4 3.6 .4-4.8 .4-2.2 .4 3.3 .4 1.2 .4 1.5 .4-4.2 .4-2.2 .4-.7 .4 2.9 .4-3.8 .4 .6 .4 3.7 .4 0 .4-.5 .4-5.8 .4-3.3 .4 7.5 .4-.9 .4-2.4 .4 2.5 .4 2.7 .4-4.9 .4 2.6 .4-6.4 .4 3.3 .4-2.9 .4-3 .4 8.3 .4-13.8 .4 11.3 .4 3.6 .4-1.8 .4-9 .4 8 .4-9.5 .4 4.1 .4 10.3 .4-5.9 .4 4.5 .4-10.4 .4-4.5 .4 5.8 .4 9.1 .4-1.7 .4 .5 .4-5.6 .4 .2 .4-.6 .4 12.5 .4-11.4 .4 7.4 .4-8.8 .4 6.9 .4-11.2 .4 2.5 .4 3.8 .4-4.3 .4 .6 .4 1 .4-1.8 .4 9.4 .4-2 .4-11.6 .4 14 .4-8 .4-.1 .4-.7 .4 4.6 .4-.9 .4-5.7 .4 2.5 .4-6.2 .4 14.2 .4-12.4 .4-.2 .4 .6 .4 3.8 .4 2.7 .4-5.1 .4 1.6 .4-1.8 .4 7.3 .4-4.9 .4-8.9 .4 14.3 .4-5.3 .4 7.2 .4-11.7 .4 .5 .4 1.3 .4-5.7 .4 4.6 .4 7.3 .4-2.6 .4-14.2 .4 16.6 .4-4.3 .4 2 .4-3.6 .4 .5 .4-.7 .4-.1 .4-5 .4 9.3 .4-3.8 .4 .6 .4-.2 .4-3.1 .4 1 .4-5.9 .4 7.2 .4 0 .4-2.5 .4-6.8 .4 13.8 .4-6.9 .4 .6 .4-1.5 .4-1.3 .4 .7 .4-3.3 .4 2.4 .4 11.9 .4-4.1 .4 3.7 .4-12 .4-5.9 .4 2.3 .4-5.8 .4 16.8 .4 .6 .4-5.2 .4 1.2 .4-.1 .4-2.3 .4 3.8 .4-8 .4 2.5 .4 1.3 .4-7.1 .4 3.1 .4 6.5 .4-.5 .4-12.9 .4 15.4 .4-2.6 .4 1.8 .4-3.8 .4 2.9 .4-8.6 .4 4.9 .4-4 .4 2.5 .4 7.7 .4 2 .4-7.3 .4-2.2 .4 5.6 .4-1.5 .4 6.6 .4-5.9 .4-13.6 .4 10.9 .4-1.7 .4-2.2 .4 4.2 .4-.3 .4-1.9 .4 8.5 .4-5.2 .4 .1 .4-1.1 .4 4.8 .4-10.6 .4 10.6 .4-6.6 .4 7.9 .4-.3 .4-4.2 .4-4.4 .4 3.4 .4 .4 .4-8.3 .4 5.2 .4-1.7 .4 9.5 .4 1.5 .4-11 .4 .9 .4-3.6 .4 7.3 .4 2.5 .4 4.5 .4-14 .4 10.1 .4-4.9 .4-2.5 .4 1.7 .4-1.9 .4 5.6 .4-2 .4 5.5 .4-7.8 .4-6.1 .4 4 .4 6.2 .4-8.3 .4 3.4 .4 5.9 .4-8.7 .4 10.2 .4-2.2 .4-4.2 .4 2.5 .4-2 .4 .5 .4 .4 .4 1.6 .4-.4 .4-3 .4-1 .4 14 .4-14.4 .4 4.4 .4 6.2 .4-.9 .4-7.8 .4 12.6 .4-1.1 .4-9.4 .4-4.2 .4 8.6 .4-3.6 .4-.5 .4-2.3 .4 1 .4 3.6 .4 3.4 .4-13.5 .4-1.4 .4 15.4 .4-8.3 .4 7.2 .4-2.7 .4 5.3 .4-1.5 .4-5.4 .4 .6 .4 2.3 .4 2 .4-6.2 .4-4.1 .4 7.5 .4-.6 .4-.5 .4-3.8 .4 7.5 .4-10.7 .4 5.8 .4 8.2 .4-11 .4 7 .4 .3 .4-.1 .4-9.6 .4 12.4 .4-4 .4 1.7 .4-.8 .4-1.1 .4 5.4 .4 1 .4-15.1 .4 5 .4 2.8 .4-9.1 .4 16.7 .4-10.2 .4 6.1 .4-1.5 .4-2 .4-3.6 .4 3 .4 2.1 .4 3.2 .4-4.5 .4-.9 .4 .7 .4 7.2 .4-4.7 .4-4.4 .4-2.7 .4 4 .4-2.3 .4 2.2 .4 8.2 .4-3.1 .4-2.1 .4 .8 .4 6.1 .4-13.2 .4 7.3 .4-3 .4 1.6 .4-.3 .4-1.8 .4 3.9 .4-12.4 .4 11.2 .4 1.8 .4-7.5 .4-.1 .4 13.2 .4-12.9 .4 2.4 .4-1.8 .4 .7 .4-.3 .4-6.6 .4 20.6 .4-14.3 .4 5 .4-2.1 .4 6.6 .4-3.1 .4 2 .4 .2 .4-1.6 .4-3.7 .4 4 .4-11.5 .4 11.4 .4-.9 .4-1.9 .4-7.5 .4 12.2 .4-9.2 .4 5.9 .4-11.4 .4 7.7 .4-2.2 .4-.7 .4 .5 .4 11.2 .4-8.3 .4 1.7 .4 8.2 .4-16.4 .4 13.5 .4-8.7 .4-1.2 .4 .9 .4-6.4 .4 1.2 .4 1.8 .4 2.6 .4 5.8 .4 1.7 .4-6.7 .4 3.4 .4 .2 .4-3 .4 2 .4-3.8 .4 5.3 .4-3.7 .4 1.2 .4 1 .4-.5 .4-4 .4-3 .4 5.9 .4-2.3 .4 .1 .4 1.9 .4-2.8 .4 5.3 .4-.2 .4-6 .4 5.8 .4-6.2 .4 7.7 .4-.5 .4-2.9 .4 4.1 .4 .6 .4-2.7 .4-10.5 .4 9 .4 .3 .4 2.8 .4-8.3 .4 7.8 .4-1.7 .4 .2 .4-7.5 .4 1.7 .4 9.1 .4-1.4 .4-4.2 .4 5.3 .4-3.8 .4-3.1 .4-5.4 .4 11.9 .4-5.3 .4 1.7 .4-9.3 .4 5.7 .4 3.9 .4-2.5 .4-2.3 .4-1.7 .4 6 .4-2.6 .4 .1 .4 .2 .4-1.7 .4 1.5 .4-1.3 .4 2.9 .4-6.4 .4 1.3 .4 5.2 .4-.9 .4 1.6 .4 8.7 .4-5.7 .4 2 .4-3 .4-2.2 .4-2.9 .4-4.5 .4 2.4 .4-3.9 .4 5.9 .4-1.7 .4 3.3 .4 4.7 .4-1.3 .4 6.4 .4 .6 .4 1 .4-.3 .4-2.2 .4-3 .4 4.9 .4-2.7 .4 .8 .4 3.3 .4-6.3 .4-1.9 .4 9.4 .4 7.2 .4-2.5 .4 7.5 .4-18 .4 4 .4-7.1 .4 7.1 .4 13.1 .4-.9 .4-11.6 .4 3.6 .4-1.9 .4-2 .4 5.4 .4 0 .4 2.2 .4 1.1 .4 2.3 .4 3.3 .4-6.5 .4-.4 .4 1.2 .4 2.1 .4-2.6 .4-3.8 .4 2.1 .4 5.5 .4-8.7 .4 7.5 .4-11.4 .4 7.7 .4-1.9 .4-5.6 .4-1.3 .4-3.3 .4 6.3 .4-12.2 .4-4 .4 2.4 .4 .6 .4-6.3 .4-4.9 .4 2.7 .4-10.8 .4-2.6 .4-4.4 .4 9 .4-17.7 .4 2.4 .4 5.5 .4-.6 .4 5.1 .4-6.7 .4-4.6 .4 8.7 .4-.2 .4 2.7 .4 2.9 .4 1.5 .4-4.3 .4 7.1 .4 19.4 .4-3.1 .4-2.9 .4 14.4 .4 9.5 .4 2.4 .4 2.7 .4-7 .4 13.7 .4 .9 .4 9 .4-7.8 .4-.7 .4-2.4 .4 .7 .4 .7 .4-4.8 .4-3.2 .4-3.2 .4 4.5 .4-4.1 .4-1.9 .4-7.6 .4 1 .4-7.3 .4 10.6 .4-1.5 .4-6.1 .4-4.9 .4 0 .4-11.6 .4-1.9 .4 8.9 .4-12.7 .4 1.9 .4-5.3 .4-10.5 .4 5.7 .4 4.6 .4 .1 .4-19.6 .4 2.5 .4 2.8 .4 5.6 .4-.4 .4 .4 .4-.6 .4-10.5 .4-3.2 .4 8.4 .4-5.5 .4 1.4 .4-1.5 .4 .4 .4 6.8 .4-8 .4-2.3 .4 6.1 .4 5.1 .4-.4 .4 2.5 .4-6.7 .4 7 .4 11 .4-3.7 .4-.2 .4 10.5 .4-5.5 .4 8.4 .4-.2 .4 3.2 .4 5.3 .4 8 .4-2.2 .4-7.5 .4 1.1 .4 5.8 .4 2.9 .4 6.1 .4-1 .4 2.7 .4-7 .4 9.3 .4 4.3 .4 6.8 .4-2.9 .4-2.1 .4-4.9 .4 6.2 .4 .7 .4-.3 .4 1.5 .4 1.6 .4-.6 .4 7.8 .4-15.4 .4-3.6 .4 8.2 .4-8.6 .4 3.5 .4-.7 .4-4.8 .4 6 .4-2.3 .4-3.9 .4 .5 .4-.5 .4-7.1 .4 2.5 .4-3.8 .4-2.3 .4-3.7 .4 8.7 .4-8 .4-9.5 .4 7.6 .4-15.3 .4 12 .4 1.4 .4 2.3 .4-6.2 .4-4.6 .4 12 .4-4.2 .4 1.4 .4-6.9 .4 4.5 .4-10.6 .4 11 .4-11.2 .4 5.9 .4-1.1 .4 13.1 .4 .1 .4-5.9 .4 9.7 .4-4.1 .4-8.3 .4 8.8 .4-4.9 .4 9.8 .4 2.7 .4-3.7 .4 8.6 .4 2.5 .4-7.7 .4 8.1 .4-1.8 .4 .4 .4 10.3 .4-9.9 .4 2.7 .4 2.3 .4 3.8 .4 1.8 .4-7.3 .4 11.4 .4 2.6 .4 1.2 .4-8.4 .4-3 .4-2.7 .4 6.6 .4-2 .4 .1 .4-2.7 .4-7.4 .4 8.9 .4 .5 .4-1 .4-4.9 .4 5.2 .4 .5 .4-4.7 .4 8.2 .4-3.3 .4 .7 .4 1.1 .4-3.1 .4 .6 .4 2.7 .4 1 .4 .4 .4-5.2 .4 4.3 .4 1.6 .4-12 .4 4.4 .4 1.6 .4-.1 .4 8.2 .4-3.1 .4-6.3 .4-.2 .4-6.2 .4 1.7 .4 10.6 .4-14.5 .4 10.7 .4-6.6 .4 1.3 .4 .3 .4 8.2 .4-7.8 .4-.2 .4 1.3 .4-16.3 .4 17.8 .4-17.7 .4 3.1 .4 5.2 .4-10.4 .4-3.8 .4 12.2 .4-8.3 .4 4.4 .4-3.5 .4-4.5 .4 7.5 .4-10.3 .4 9.4 .4-14.6 .4-1.5 .4 .5 .4 3.3 .4-7.4 .4 1 .4 8.9 .4-6.9 .4 3.5 .4-4.7 .4-5.4 .4-1.8 .4 3.6 .4-1.4 .4-3.5 .4-.8 .4 8.9 .4-2.3 .4-3.8 .4-3.1 .4-.3 .4 11.6 .4-11.6 .4 14.2 .4-13 .4-2.9 .4 17.4 .4-8.7 .4 8.9 .4-3.6 .4-1.8 .4 7 .4-4.2 .4 4.9 .4-1.1 .4-6.1 .4 11.5 .4-2.9 .4 3.1 .4 3.8 .4-7.4 .4 10.2 .4 1.3 .4 7.5 .4-3.9 .4-.9 .4-3.4 .4 4.3 .4-5.2 .4 9.8 .4-1.5 .4 .6 .4 3.1 .4 3.3 .4 .3 .4-5.4 .4 12.8 .4-4.9 .4 2.5 .4-.5 .4-3.4 .4 6.5 .4-2.2 .4-1.4 .4 5.1 .4 3.5 .4-.2 .4-1.6 .4-3.6 .4 1.5 .4 .7 .4-6.6 .4 9.1 .4-4.9 .4-8.4 .4 10.4 .4-.7 .4-18 .4 1.8 .4-6.6 .4 3.7 .4-13.9 .4 4.6 .4-4.6 .4-.7 .4-18.1 .4 1.1 .4-1.4 .4 1 .4-9 .4-2.5 .4-7.2 .4-12.2 .4-2.3 .4-7 .4-4.9 .4-7.5 .4 2.7 .4-7.3 .4-15.4 .4 7.4 .4-9.9 .4-7.1 .4 11.1 .4-5.5 .4 2.8 .4-.4 .4 2.9 .4-5.1 .4 15.3 .4-3.2 .4 7.3 .4 3.5 .4-.2 .4 2.6 .4 9.4 .4 11.4 .4-3.7 .4 5.8 .4 8.9 .4 2.6 .4 14.5 .4 1.6 .4 14.9 .4-5 .4 15.2 .4-7.1 .4 9.7 .4-.3 .4 8.5 .4 5.1 .4 8.5 .4 7.1 .4-4.3 .4-2.5 .4 9.6 .4 1.8 .4 1 .4 8.7 .4 3.5 .4-6.2 .4 2.2 .4-6.3 .4 11.6 .4 9.2 .4-5.9 .4 10.4 .4 .4 .4 .7 .4 .4 .4-3.8 .4 3.6 .4-2.3 .4-6.4 .4-5.6 .4 2.1 .4-3.5 .4-14.6 .4 2.2 .4-9.3 .4 3.9 .4-20.1 .4-9.8 .4-10.2 .4-.6 .4-18.3 .4-1.6 .4-16.6 .4-3.2 .4-10.3 .4-11.9 .4-21.8 .4-3.4 .4-11 .4 19.8 .4-17.9 .4-.3 .4 3.1 .4 5.1 .4-.7 .4 6.5 .4 4.8 .4-.8 .4 19.7 .4 5.3 .4-1.5 .4 6.4 .4 16.8 .4 10.1 .4-3.7 .4 10.8 .4 4.3 .4 12.5 .4-5.3 .4 8.3 .4 17.4 .4 1 .4 6.3 .4 1 .4 3.4 .4-1.6 .4-2.1 .4 2.7 .4-5.1 .4 9.6 .4-11.4 .4 2.6 .4 5.9 .4-6.1 .4 6 .4 2.1 .4-3.3 .4-5.9 .4 10.8 .4-7 .4-6.8 .4 13.7 .4-8.7 .4 1.8 .4 1.1 .4-6.8 .4 6.4 .4-10.3 .4 1 .4 2.5 .4 11.8 .4-7.6 .4 2.4 .4-7.8 .4 4.3 .4-12.7 .4 8.5 .4 3 .4-5 .4-6.9 .4 1.3 .4 10.4 .4 3.1 .4-8.4 .4 9 .4-13.9 .4 8.7 .4-1.7 .4 3.2 .4-12.3 .4 11.5 .4-4.5 .4-4.9 .4 1.7 .4 .8 .4 2 .4-5.6 .4-.4 .4 4.2 .4-.9 .4 2.2 .4 1.5 .4-13.3 .4 7.9 .4 1.2 .4-1.3 .4-5.6 .4 8 .4 4.3 .4-9.3 .4-3.4 .4 7 .4-4.1 .4 0 .4 0 .4-3.8 .4 1.5 .4-4 .4-6.5 .4 13.5 .4-4.3 .4-2.4 .4 6 .4-7.9 .4 5.3 .4-2.1 .4-6 .4-5.4 .4 7.5 .4-1.9 .4 3 .4-12.9 .4 5.9 .4 .8 .4-.4 .4-2 .4-.1 .4-13.4 .4 8.5 .4-2.6 .4-5.1 .4 7 .4-3.2 .4-4.4 .4-1.7 .4 7.6 .4-14 .4 11.2 .4-5 .4 5.9 .4 8.6 .4-3.8 .4-4.5 .4 8.2 .4 2.8 .4-3.1 .4 5.3 .4-6.4 .4 3.3 .4-2 .4 .1 .4 3.3 .4-2.4 .4 4.6 .4 12.2 .4-5.9 .4-3.1 .4 10.4 .4 0 .4-10.5 .4 3.3 .4 13 .4-6.2 .4 2 .4-1.9 .4-1.2 .4 12.1 .4-7.9 .4 7.7 .4 7.5 .4-5.2 .4-2.7 .4 4.8 .4 .3 .4-4.4 .4 3.7 .4-7.1 .4-2.9 .4 5.2 .4-6.6 .4 4.2 .4 1.2 .4-.1 .4 6.4 .4-15.1 .4 .4 .4-2 .4-4.6 .4 12.4 .4-15.4 .4 .5 .4-1.7 .4 10.5 .4-14.9 .4-4.1 .4 7.5 .4-11.4 .4-9.3 .4 13 .4-3.4 .4-13.7 .4-1.3 .4 3.7 .4-6.1 .4-4 .4 .7 .4 13.7 .4-4 .4-10.8 .4 3.8 .4 .7 .4-2.6 .4 1 .4 8.2 .4-11.8 .4-1 .4 3.2 .4-3.3 .4 .8 .4-.1 .4-2.9 .4 10.6 .4-9.1 .4 9.6 .4-9.9 .4 1 .4 7.5 .4-.1 .4 7.9 .4 1.9 .4 10.6 .4-20.6 .4 9.2 .4 7.3 .4 1.8 .4 3.4 .4 15.6 .4-20.7 .4 17 .4-1.8 .4 3.7 .4 7.6 .4-3.5 .4 6 .4 3.9 .4 1.1 .4-13.4 .4 7.4 .4-1.8 .4 3.9 .4 4.2 .4 12.3 .4-12.1 .4 2.6 .4 1.5 .4 8.9 .4-9.5 .4 5.3 .4 1.9 .4-1.2 .4-12.7 .4 3.5 .4 9.5 .4-12 .4 7.3 .4-6.4 .4 9.1 .4-2.4 .4-7.6 .4 6.1 .4-4.2 .4 2.2 .4 8.5 .4-5 .4 0 .4 5.5 .4-7.3 .4 5.5 .4-4.8 .4-.9 .4-3.4 .4-2.7 .4-1.3 .4 .2 .4 6.6 .4-.9 .4-6.4 .4 9.7 .4-9.4 .4 .7 .4-5.3 .4 2 .4 7.7 .4-2.7 .4-5.9 .4 8.4 .4-7 .4 0 .4 4 .4-3.6 .4-4.6 .4-4.1 .4 10.6 .4-18.2 .4 7.7 .4-6 .4 5 .4 6.4 .4-6.1 .4-.8 .4 1.5 .4 9.4 .4-3 .4-5.7 .4-4.3 .4 1 .4 3.4 .4-3 .4 .5 .4-4.6 .4-1.7 .4 1.1 .4 6.3 .4-5.7 .4 16.5 .4-9.6 .4 .4 .4 1.5 .4-9.9 .4-.7 .4 4.4 .4 3.9 .4-.3 .4 5.2 .4-1.3 .4-1.7 .4 .4 .4-4.2 .4 2.7 .4-5.5 .4-.7 .4 6.5 .4-12.5 .4 14.6 .4 2.1 .4-11.3 .4 5.9 .4-2.8 .4-5.6 .4 6.4 .4 .8 .4 2.2 .4-6.4 .4 2.1 .4-3.6 .4 7.7 .4-5.4 .4 4.6 .4-7.5 .4 3.8 .4-4.9 .4 .6 .4 8.8 .4-6.2 .4 .4 .4 3.8 .4-7.4 .4 13.1 .4-13 .4 1.7 .4 12.3 .4-18.7 .4 16.6 .4-6.7 .4 .6 .4-7.5 .4 5.7 .4-6.9 .4 10.7 .4-6 .4-2 .4 .7 .4 1.6 .4 5.3 .4-3 .4-5.5 .4-.6 .4-.8 .4 8.6 .4-1.5 .4-7.7 .4-2.5 .4 7.4 .4-2.6 .4 5.2 .4-3.2 .4 2.3 .4 2 .4 1 .4-6.1 .4 4.4 .4-6.3 .4-3.1 .4 6.7 .4 4.6 .4 .9 .4-7.1 .4-8 .4 9.6 .4-2.6 .4 3.9 .4 2 .4-7.2 .4-1.4 .4 1.4 .4-1.5 .4-1.6 .4 5.7 .4-4.6 .4 2 .4-.3 .4-1.4 .4 5.7 .4-5.2 .4 1.7 .4 4.1 .4-4.6 .4-6.3 .4 4.6 .4-.1 .4 5.1 .4 4.8 .4-7 .4-1.6 .4 7.4 .4-10.3 .4 4.7 .4 .7 .4-2.6 .4-.7 .4 1.6 .4 6.3 .4-4.6 .4-5.5 .4 4.1 .4 3.1 .4 3.7 .4-4.6 .4-3 .4 5.5 .4-2.4 .4-3.5 .4-3.9 .4 3.4 .4 4 .4-9.6 .4-2.5 .4 9.9 .4-9.8 .4 1.1 .4 5.1 .4-.3 .4 1.4 .4 .4 .4 1.6 .4-3 .4-3.5 .4-8.3 .4 17.9 .4-2.2 .4-.9 .4-3.1 .4-4.1 .4 6.3 .4-2.6 .4-6.2 .4 11.2 .4-11.6 .4 4.6 .4 10.2 .4-12.2 .4 4.6 .4 4.1 .4-5 .4-6.8 .4 4.3 .4 2 .4-6.9 .4 13.8 .4-5.4 .4 1.8 .4-2.1 .4 .4 .4-3.5 .4-5.3 .4 10.1 .4-3.1 .4 7.2 .4-12.9 .4 6.2 .4 9.4 .4-16.6 .4 .7 .4 6.6 .4 6.9 .4-13.6 .4 5.9 .4-1.2 .4-1.8 .4 1.4 .4 7 .4-5.2 .4-6.8 .4 3.3 .4 3.4 .4-7 .4 3.5 .4 1.5 .4-7.9 .4 18.9 .4-16.2 .4 8.2 .4-.9 .4-1.8 .4 8.9 .4-5.1 .4-3.9 .4 9.8 .4-2.5 .4-7.2 .4-1.9 .4 11.8 .4-4.4 .4-5.9 .4 10 .4-9 .4 4 .4-.1 .4-5.1 .4 13.2 .4 10.1 .4-9.4 .4-.6 .4-2.7 .4 1.4 .4 2.1 .4 2.2 .4-4.9 .4 3.1 .4-.8 .4 4.2 .4 2.3 .4 1.2 .4-6.9 .4 .3 .4 6 .4-4.1 .4 .6 .4 3.6 .4 0 .4 4.9 .4-11.8 .4 11.5 .4-7.3 .4 5.7 .4-9.1 .4 5.8 .4-2.2 .4 11.6 .4-12.8 .4 10.1 .4-9.2 .4-1.4 .4 6.9 .4 3.6 .4-5.4 .4 3.1 .4-1.9 .4-1.6 .4 6.7 .4-6.9 .4 3.8 .4-10 .4 4.2 .4 4.9 .4-7.2 .4-8.5 .4 13.2 .4-1.4 .4-4.7 .4 1.2 .4-2.7 .4 2.7 .4 2.8 .4-4.5 .4-2.6 .4-2.7 .4 .8 .4-2.3 .4 6.2 .4-10.4 .4 1.6 .4 3.7 .4-.8 .4-1.2 .4-3.9 .4 2.3 .4-8.4 .4-1.2 .4 .5 .4 7.4 .4 4.1 .4-9.1 .4-1.2 .4 .8 .4 9.6 .4-8 .4-.9 .4-3.5 .4 4.7 .4 3.6 .4-5.4 .4-4.9 .4 10 .4-6.4 .4 8.6 .4-13.5 .4 4.4 .4 2 .4-9.5 .4 8.9 .4 2.6 .4-3.3 .4 2.8 .4-1 .4-4.7 .4 7.7 .4-6.8 .4 2.3 .4-1.8 .4 6.8 .4-5 .4 .3 .4-7.7 .4 9.2 .4 6.4 .4-14.3 .4 12 .4-1.7 .4-7.7 .4 6.6 .4 6.9 .4-4.2 .4 2 .4 4 .4-6.4 .4 6 .4-9.7 .4 2.2 .4 11.3 .4-.1 .4-1.6 .4-11.2 .4 6.4 .4-2.8 .4 13.6 .4-15.1 .4 .6 .4 3.6 .4 4.6 .4-4 .4 1.6 .4 3.1 .4-1 .4-8.8 .4 3.2 .4 13.9 .4-7.3 .4 8.6 .4-1.6 .4-1.5 .4-4.8 .4 7.1 .4-9.3 .4 12.8 .4-7.7 .4 0 .4-4.6 .4-.9 .4 1.5 .4-1.3 .4-1.7 .4-1.1 .4 5.9 .4 4.6 .4 3.5 .4-5.8 .4-4.3 .4 3.2 .4 5 .4-7.7 .4 3.9 .4-3.1 .4-1.5 .4-3.6 .4 5.8 .4-7.6 .4-1.1 .4 6.1 .4 2.7 .4-.5 .4-.7 .4-5.8 .4 .6 .4 5.6 .4 4.1 .4-22.7 .4 18.1 .4-4.9 .4-1.6 .4-3.5 .4 .2 .4-3 .4 6.7 .4-6.1 .4 3.5 .4-6.4 .4 12.5 .4-2.6 .4-8.9 .4 7.5 .4-4.1 .4-2.4 .4 4.4 .4 3.5 .4 3.1 .4-5.8 .4 4.2 .4-2.3 .4 0 .4 1.5 .4-11 .4 4.6 .4 9 .4-13.3 .4 2.4 .4 13 .4-13.7 .4 5.6 .4 .8 .4-2.5 .4 5.9 .4-.1 .4-7.3 .4 11.8 .4-12 .4 1.9 .4 1.6 .4 1.8 .4-6 .4 6.6 .4-11.4 .4 8.3 .4-1.8 .4 1.2 .4 3.1 .4 1.8 .4-4.5 .4 3.9 .4-7.1 .4 5.6 .4 6.4 .4-7.4 .4 2 .4 1.6 .4 4.2 .4-1.8 .4-2.3 .4-3.7 .4 6.1 .4-13.2 .4 14.5 .4-5.3 .4 6.8 .4-3.1 .4 6.9 .4-9.2 .4-6.1 .4 9.7 .4-2.2 .4 2 .4 6.3 .4-9.7 .4 7.6 .4 1.2 .4 1.1 .4-14.3 .4 10.2 .4-3.8 .4 2.3 .4-2.6 .4 2.5 .4 6 .4 3.8 .4-4.7 .4-9 .4 11.7 .4-11.6 .4 4.1 .4 7.1 .4-8 .4 6.1 .4-4.6 .4-4.1 .4 6.4 .4-3.5 .4 10.7 .4 .4 .4-1.2 .4-12.2 .4 13.7 .4-7.5 .4 1 .4-1.5 .4-3.5 .4 3.2 .4 3.5 .4 3.1 .4-4.6 .4-2.6 .4-2.3 .4 .7 .4 9.1 .4-4.4 .4-2.2 .4-8.8 .4-.6 .4 11.5 .4-.2 .4 2.2 .4-4.3 .4-4.1 .4-5 .4 3.7 .4-6.6 .4 12.3 .4 .8 .4 4.3 .4-15.2 .4 1.9 .4 9.6 .4-1.4 .4-11.1 .4 6.1 .4 3.8 .4-2.3 .4 3.6 .4-1.7 .4-2.8 .4 4.4 .4-2.2 .4 5.8 .4-12.4 .4 5.7 .4-2.1 .4 2 .4 3.1 .4 1.1 .4-13.3 .4 15.6 .4-2.9 .4-.2 .4-2.2 .4 4.2 .4-2.6 .4-10.6 .4 5.4 .4 1.9 .4-.6 .4-.4 .4 5 .4-8.3 .4 1.7 .4-1.2 .4 4.5 .4 2.2 .4-6.4 .4 6.1 .4-4.5 .4 9.3 .4-17.5 .4 10.6 .4 5.5 .4-7.3 .4-3.6 .4 1.1 .4 6.7 .4-5.3 .4 7.7 .4-4.9 .4-2.9 .4 .4 .4 4.3 .4 2.5 .4-8.8 .4-2 .4-.1 .4 7.7 .4 6.3 .4-11.4 .4 5.5 .4-5.4 .4 6.1 .4-11.7 .4 9.7 .4-9.4 .4 1.9 .4 5.4 .4-3 .4 .5 .4 2.6 .4-1.9 .4 5.9 .4-3.8 .4-8.1 .4 3.5 .4-2.6 .4 .3 .4 10.2 .4-12.6 .4 9.6 .4 .8 .4 5 .4-12.8 .4 .9 .4-.1 .4-3.4 .4 10 .4 .6 .4-20.7 .4 9.2 .4 7 .4-10.9 .4 1.4 .4 3.3 .4-.5 .4-1 .4 .1 .4 9.2 .4-20 .4 8.5 .4-3.1 .4 6.5 .4-3.3 .4 4.4 .4-2.3 .4 11 .4-17.5 .4 4.1 .4 6.6 .4-6.1 .4 2.7 .4-8.1 .4 10.9 .4-3.9 .4 3.4 .4-7 .4 1.9 .4-1.4 .4 12.4 .4-16.4 .4 10.8 .4-.7 .4 5.1 .4-4.6 .4-6.1 .4 7.7 .4-10.6 .4 13.7 .4-5.4 .4-2.8 .4 1.4 .4 5.5 .4-10.7 .4 16.7 .4-11.4 .4 11.1 .4-6.3 .4 8.8 .4-14.9 .4 10.5 .4-4.3 .4-2.5 .4 7.5 .4-5 .4-2.1 .4 2.8 .4-2.4 .4 3 .4 1.1 .4 5.8 .4-5.4 .4-3.1 .4 7.8 .4-5.2 .4-2.7 .4-.9 .4 14.8 .4-8.9 .4 8.7 .4-12.5 .4-.1 .4 13.8 .4-9.4 .4 .5 .4 0 .4-3.7 .4 10.2 .4-10.7 .4 9.8 .4-8.8 .4 18.2 .4-9.1 .4 2 .4-13.6 .4 10.1 .4-4.7 .4-1.1 .4 .2 .4 8.2 .4-3.8 .4-2.7 .4-.5 .4-.2 .4 .5 .4 1.3 .4-4.2 .4 1.1 .4-6.4 .4 10.7 .4 3 .4-5.2 .4 9.2 .4-10.6 .4 3.9 .4 5.5 .4-4.4 .4-5.1 .4 5.6 .4-3.7 .4 7.5 .4-1.7 .4-4.9 .4 3.7 .4 5.9 .4-3 .4-1.3 .4-5.1 .4-1.9 .4-.8 .4 8.7 .4-10.3 .4 7.2 .4 5.8 .4-15.5 .4 9.5 .4-6.6 .4 4.2 .4 3.2 .4-7.4 .4-1.6 .4 4.5 .4 3 .4-3 .4-2.7 .4 8 .4-8.8 .4-1.6 .4 7.6 .4 9.9 .4-12.9 .4 2 .4-4.5 .4 2 .4-2.6 .4 6.9 .4-4.7 .4-.5 .4 8.4 .4-11.7 .4 11.7 .4-5.4 .4-3.6 .4 4.3 .4-1.2 .4 2.9 .4-2.6 .4 10.2 .4-4 .4 .3 .4-11.3 .4 4.2 .4 7.5 .4-2.9 .4-2.8 .4-.5 .4 5.5 .4-14.4 .4 5.1 .4-2.5 .4 12.3 .4-12.3 .4 5.4 .4 7.9 .4-8 .4 2.8 .4-1.2 .4 3.2 .4 7.4 .4-16.5 .4 5.5 .4 8.4 .4 3.5 .4-12.6 .4 7.9 .4-3.5 .4-.1 .4-10 .4-.9 .4 8.7 .4-1.2 .4 .2 .4-5.1 .4 12.9 .4-7.8 .4 13.6 .4-13.6 .4 3.1 .4 2 .4-5.2 .4-3.1 .4 2.3 .4 3 .4-2.3 .4 12.3 .4-12.1 .4 6.5 .4 .4 .4-2.8 .4-6 .4 7.9 .4 2.4 .4-3.6 .4-.5 .4-10.5 .4 5.4 .4 4.7 .4 2 .4 3 .4-5 .4 2.6 .4-5.7 .4 8.3 .4 .7 .4-3.9 .4 5.5 .4-6 .4-.7 .4 1.2 .4 11.4 .4-17.4 .4 9 .4-2.4 .4 2.4 .4-7.5 .4 11 .4-.2 .4-4.3 .4-.6 .4 2.6 .4 4.5 .4-11.9 .4 14.5 .4-8.2 .4 5.8 .4-8 .4 13.8 .4-8.1 .4 7.5 .4-11.5 .4 0 .4 8.8 .4-1.9 .4-1.7 .4 4.5 .4-3.8 .4-3.7 .4-7.5 .4-1.8 .4 14.4 .4-.3 .4-7.1 .4 7 .4-3.6 .4 1.3 .4 4.5 .4-12.4 .4 9.5 .4 .7 .4-3.6 .4 1.6 .4-6.6 .4 6.1 .4 2 .4 .4 .4-7.6 .4 6.8 .4-2.9 .4 1.3 .4-4 .4 2.6 .4-2.7 .4 10.2 .4-14 .4 6.3 .4-6.4 .4-7.9 .4 8.8 .4 2.8 .4-3.1 .4-.7 .4-8.6 .4 4.6 .4-9.1 .4 14.5 .4-2 .4-13.5 .4 2.2 .4-5 .4 1.5 .4 .6 .4-4.5 .4 2.6 .4 4.5 .4-5.4 .4 4 .4-5.1 .4 .4 .4-7.5 .4 10 .4-10.9 .4 3 .4-5.2 .4 8 .4-8.2 .4 7.3 .4 6 .4-8.3 .4-13.3 .4 15.4 .4-4.4 .4 1.7 .4-1.4 .4 3.4 .4-1 .4-5.5 .4-6 .4 5.5 .4 4.1 .4-12.9 .4 9.9 .4-9.5 .4 14.5 .4 3.7 .4-4.5 .4-6.1 .4 6.2 .4 3 .4 2.1 .4-.9 .4-1.1 .4-9.8 .4 4.9 .4 3.3 .4-1.6 .4-9.2 .4 9.3 .4-2 .4 5.1 .4 1.3 .4-8.2 .4 4 .4 5.2 .4-5.3 .4 5.6 .4-3.3 .4 1.3 .4 8.5 .4-4.4 .4-1.4 .4 10.9 .4-8.5 .4 2 .4 .9 .4 12.8 .4-8.7 .4 1.7 .4-5.5 .4 6.4 .4 1.9 .4-10.9 .4 8.3 .4 6.3 .4 1.2 .4-7.4 .4 10.4 .4-14.5 .4 8.7 .4-2.4 .4-7.7 .4 10.2 .4-11.1 .4 3.1 .4 2.8 .4-5.4 .4 11.7 .4-7.9 .4-3.9 .4 7.4 .4-1.2 .4-5.3 .4 2.7 .4 7.2 .4-.3 .4-11.8 .4 12.6 .4 .1 .4 .9 .4-8 .4-1.4 .4 3.4 .4-2.7 .4 2 .4-1.7 .4 1.6 .4-1 .4 2.7 .4 .6 .4-2 .4-1.4 .4 10.6 .4-3.2 .4-2.2 .4-6.7 .4 7.5 .4-3.9 .4 3.8 .4-1.8 .4 11.1 .4-12.1 .4-5 .4 10.3 .4 .3 .4 1 .4-19.4 .4 8.2 .4 .6 .4-4 .4 8.7 .4 2.6 .4 2.1 .4-.8 .4-4.4 .4 7.6 .4-6.4 .4-14.1 .4 11.3 .4-2.2 .4 5.4 .4-3.8 .4 .5 .4 8.4 .4-10.5 .4-3.1 .4 8 .4 2 .4-3.8 .4 .6 .4-2.9 .4-3.6 .4 2.8 .4-1.5 .4 11.3 .4-7.3 .4 8.2 .4-7.6 .4-3.9 .4 5.5 .4 0 .4 5.6 .4-16.5 .4 7.9 .4 4.1 .4-5.7 .4 4.3 .4-2 .4 8.5 .4-.9 .4-16.3 .4 2.5 .4 3.7 .4 3.6 .4-.4 .4-1.8 .4 5.6 .4 1.3 .4-3.8 .4-2 .4 1.7 .4-4.3 .4 8.2 .4 0 .4-8.8 .4 11.8 .4-7.6 .4 4.3 .4-4.2 .4-1 .4 4.3 .4-8.5 .4 3.4 .4-4.8 .4 8.1 .4-3.8 .4-.6 .4-1.2 .4 5.5 .4-2.1 .4-2.6 .4-1.4 .4 10.8 .4-1.6 .4-13.2 .4 11.2 .4-3.6 .4-1.4 .4 .4 .4-9.1 .4 18.6 .4-2.3 .4-10.2 .4-.4 .4 .4 .4-4.3 .4 5.8 .4-3.2 .4-5.3 .4 2.6 .4-1 .4-.1 .4 1.1 .4 4.6 .4-5.4 .4-6.1 .4 14.9 .4-10.2 .4 9.9 .4-6.1 .4 1.4 .4-7 .4 4.6 .4-2.5 .4 1.5 .4 2.6 .4-4.3 .4 6 .4-11 .4 1.8 .4 7.7 .4 .7 .4 3.1 .4 3.2 .4-5.2 .4 2.1 .4-1.8 .4 .2 .4-.5 .4 1.9 .4-2.5 .4 2.8 .4 5.5 .4-.6 .4 4 .4-7.1 .4 1.3 .4 4.7 .4-5.6 .4 .6 .4 8.1 .4-3.9 .4 6.3 .4-3.3 .4-2.1 .4-2.7 .4 11.3 .4-6.1 .4-3.9 .4-3 .4 1.3 .4 4 .4 8 .4-10.6 .4 5.8 .4-.4 .4-13.6 .4 6 .4 10.1 .4-14.2 .4 15.4 .4-5.6 .4-8.5 .4 17.2 .4-10 .4 8.2 .4-7 .4-4.9 .4 9 .4 3 .4-2.8 .4-12.4 .4 8.7 .4-9.2 .4 2.6 .4 9.3 .4-14 .4 19.1 .4-20.3 .4 .9 .4 9.8 .4-5 .4-.1 .4-4.2 .4 7.9 .4-2.9 .4-1.9 .4-3.9 .4-3.8 .4 7 .4-11.1 .4 7.2 .4 6 .4-.1 .4-5.8 .4-10.5 .4 14.5 .4 1.3 .4-4.5 .4 5.7 .4-1.6 .4-13.8 .4 6.8 .4-1.6 .4 9.8 .4-2.8 .4-5.1 .4 1.9 .4 1.2 .4-8.3 .4 2.3 .4 0 .4-1.9 .4 .1 .4 2.4 .4-7.9 .4 .4 .4 9.2 .4 3.4 .4 1.4 .4-18.3 .4 10.3 .4-6.4 .4 1.2 .4 1.3 .4 2.8 .4 .6 .4-15.1 .4 8.8 .4 8.1 .4-5 .4-8.9 .4 2.9 .4 .7 .4 8.9 .4 3.5 .4-14.4 .4 7.8 .4-4.1 .4 4.2 .4-4.2 .4-4.5 .4 2.2 .4-.1 .4 10.4 .4-11 .4 6.4 .4-6.9 .4 .8 .4 4.4 .4-3.9 .4 12.6 .4-3.1 .4-12.1 .4 8.2 .4 5.1 .4-13.4 .4 4.1 .4 9.6 .4-11.4 .4 7.5 .4-3.4 .4 1.5 .4-5.8 .4 5 .4-1.6 .4 11.1 .4-5.3 .4-2.4 .4-.3 .4 3.7 .4-11.1 .4 3.3 .4 .7 .4 .8 .4-3.9 .4 11.1 .4-4.7 .4 8.9 .4-6.5 .4-1 .4 4.4 .4 .2 .4-3.2 .4 4.6 .4 3.6 .4-8.2 .4 9 .4-7.1 .4 5.5 .4-4.3 .4-1.4 .4 3.7 .4-6.8 .4-2.2 .4 8 .4-.8 .4-4.1 .4 16.3 .4-8.3 .4-5.5 .4 6.4 .4 .2 .4-4.4 .4 .8 .4-7.9 .4 10.4 .4 8.4 .4-3.6 .4-.5 .4-8.1 .4-2.4 .4 9.7 .4-2.9 .4-2.6 .4-.6 .4 6.1 .4-1.7 .4-5.6 .4 1.5 .4-7.9 .4 2.2 .4 8.4 .4-5.3 .4-2.3 .4 5.3 .4 4.6 .4-10.7 .4 2.2 .4 0 .4 13 .4-7.4 .4-4.1 .4-8.7 .4 10.4 .4-1.3 .4-4.2 .4-3.1 .4 1.1 .4-6.3 .4 5.9 .4-.7 .4-2.6 .4 2.5 .4-6.5 .4 13.1 .4-6.8 .4-5.3 .4 9.3 .4-1.3 .4-5.5 .4-4.3 .4 6 .4 2.4 .4 .7 .4 1.2 .4-.5 .4-11.7 .4 7.8 .4-9.9 .4 14 .4-2.8 .4 2.7 .4-4.5 .4-.1 .4-2.7 .4-9.1 .4 11 .4 13.8 .4-6.2 .4-7.3 .4 2.9 .4 .7 .4-4.8 .4 3 .4 1.9 .4-3.9 .4 5 .4 4 .4-1.7 .4-2.5 .4-1.9 .4 4.7 .4-5.9 .4-.2 .4 9.7 .4-7.8 .4-4.5 .4 11.2 .4-.3 .4 2.3 .4-5.7 .4 6.5 .4-6 .4-3.9 .4 4.4 .4 2.5 .4-6.3 .4 4.9 .4 2.4 .4-2.9 .4 2.8 .4-.2 .4-3.4 .4 5.9 .4 1.6 .4-12.4 .4 6.9 .4 7.7 .4-1.5 .4-11.2 .4 10.8 .4 6.1 .4-2.3 .4-.2 .4-4 .4 1.2 .4-5.8 .4 6 .4 11.5 .4-11.2 .4-4.1 .4 7.3 .4-12.4 .4 21.4 .4-7.9 .4-4.2 .4-.3 .4-2.5 .4 5.1 .4-.2 .4-7.8 .4 12.7 .4-6.6 .4-3.6 .4 10 .4-.9 .4-6.5 .4-.4 .4 8.6 .4-7.4 .4 2.9 .4 5.7 .4-12.8 .4-1.5 .4 3.1 .4 1.2 .4 2.9 .4 4.6 .4-7.1 .4 10.3 .4-7.4 .4-10.9 .4 9.4 .4 3.5 .4 1.7 .4-9.1 .4 2.8 .4 11.3 .4-10.5 .4-5.4 .4-3.2 .4 5.1 .4 3.7 .4-7.4 .4 11.9 .4-10.6 .4-6 .4 12.4 .4-3.3 .4-1.5 .4 7.1 .4-9.4 .4 6.1 .4-6.3 .4 10.4 .4-8.2 .4-.2 .4 2.6 .4-3.6 .4 2.4 .4-3.6 .4 3.9 .4-2.9 .4-3.2 .4 5.2 .4-.7 .4-7.7 .4 3.5 .4-7 .4 8.6 .4 3.4 .4 7.6 .4-10.7 .4 3.5 .4 2 .4-3.9 .4-12.8 .4 6.7 .4 3.8 .4-.3 .4-1 .4-5.1 .4-4.9 .4 10.9 .4 3.8 .4-8.1 .4 5 .4-5.4 .4 1.9 .4-2.1 .4 6.8 .4-8.5 .4 5.2 .4 3.7 .4-4.5 .4-5.9 .4 7.9 .4-2.8 .4-5.4 .4 5.4 .4-.6 .4 4.5 .4-5.4 .4 2.8 .4 2.5 .4-12.2 .4 14.1 .4-4.8 .4-4.9 .4 5.5 .4 4.4 .4-8.4 .4 .7 .4 9.3 .4 1 .4 2.1 .4-9.5 .4-4.9 .4 0 .4 3.1 .4-3.3 .4 7 .4 4 .4-11.3 .4 12.4 .4-11.7 .4 1.1 .4-3.4 .4 10.3 .4-3.9 .4 .6 .4-12.9 .4 10.1 .4 4.5 .4-14.2 .4 22.7 .4-7.8 .4 4 .4-6.5 .4 6.2 .4 2.1 .4 6.7 .4-17.3 .4 15.7 .4-15.1 .4 6.5 .4-2.2 .4 1.5 .4-8.2 .4 8.5 .4-4 .4 5.4 .4 2.8 .4-.5 .4-.3 .4 7.8 .4-4.6 .4 1.8 .4 4.2 .4-6.4 .4 1.4 .4 3.2 .4-4 .4 7.9 .4-8.7 .4 2.6 .4 .8 .4-.3 .4 1.9 .4-1.7 .4-8.9 .4 17.8 .4-7.4 .4 6.2 .4-8.5 .4 8.6 .4-8.8 .4 13.8 .4-7.4 .4-1.2 .4-10.6 .4 2.3 .4 8.9 .4-.4 .4 .3 .4 .7 .4 7.5 .4-6.6 .4 .2 .4-1.6 .4-1.5 .4 7.1 .4-3.8 .4 .3 .4 3.4 .4-1.1 .4 3.7 .4-.1 .4-9.9 .4 2.5 .4 8.7 .4-6.5 .4 5 .4-7.3 .4-7.6 .4 1.2 .4 7.5 .4 1.4 .4 13.7 .4-7.8 .4-.1 .4 1.1 .4-12.3 .4 8.2 .4-.7 .4 10.2 .4-13 .4-3.7 .4 7.6 .4-1.2 .4 1.4 .4 .8 .4-.3 .4-3.9 .4 1 .4 13.6 .4-14.4 .4 5.6 .4-7.4 .4-3.4 .4 12.9 .4-3.4 .4 5.6 .4-1.3 .4-3.9 .4-4.8 .4 13.2 .4-9.1 .4 10.3 .4-7 .4 1 .4-1.4 .4-.9 .4-3.5 .4 12.1 .4-16.4 .4-3.6 .4 8.2 .4-5.5 .4 7.1 .4-6.6 .4 5.6 .4-6.4 .4-5.5 .4 .9 .4 3.7 .4-7.8 .4-2.5 .4 1.7 .4 .8 .4 3 .4-5.6 .4 .5 .4-6.8 .4 8.3 .4-.1 .4-15.6 .4 2.6 .4-3.5 .4 .5 .4-4.9 .4-3.6 .4-4.6 .4 2.1 .4 .9 .4 3.4 .4-4 .4-6.3 .4-2.8 .4-5.6 .4 9.2 .4-4.3 .4 1.2 .4-.6 .4-2.2 .4-4.3 .4-2 .4-4.5 .4 .8 .4 4.4 .4 8.2 .4-13.7 .4 2.6 .4 10.5 .4-11.9 .4-2.4 .4 1.6 .4-1.2 .4-8 .4 14.1 .4-12.1 .4 6.8 .4 1.8 .4 5.5 .4-1.8 .4 .3 .4-.3 .4 7.2 .4-1 .4 .1 .4-1 .4 4.4 .4 7 .4-6.3 .4 10.5 .4 1.9 .4 7.3 .4-7 .4 .5 .4 6.2 .4 .4 .4-9.1 .4 20.2 .4-3.2 .4 .8 .4-3.5 .4 6.7 .4-2.4 .4 9.8 .4-3.8 .4 4.1 .4-12.5 .4 2.3 .4 2.8 .4-.4 .4 11.4 .4-5.6 .4-6.5 .4 4.5 .4 10.8 .4-10 .4 5 .4-11 .4 6.2 .4 2.5 .4 0 .4 1.7 .4 2.2 .4 4.3 .4-13.7 .4 9.3 .4 3.6 .4-1.9 .4 4.9 .4-5.8 .4-1.1 .4-1.5 .4 8.9 .4-10.4 .4 4.5 .4 2.3 .4 3.6 .4-4.1 .4-2.8 .4 7.8 .4-8.1 .4 2.3 .4-5.9 .4 11 .4 .1 .4-9 .4 7.8 .4 4.1 .4-5.7 .4-4.7 .4 8 .4 3.7 .4-11.9 .4 13.6 .4-4.3 .4 5.1 .4-9.4 .4 9.9 .4-2.8 .4 2.5 .4-3.3 .4 4.7 .4-5.5 .4-1.1 .4-2.8 .4-2.4 .4 8.2 .4-1.9 .4 1.3 .4-.8 .4 3.2 .4-1.3 .4-3 .4 6.7 .4 6.7 .4-14.6 .4 2.3 .4 4.9 .4-6.2 .4 8.6 .4-8.3 .4-2.5 .4 1.3 .4 9.9 .4-15.1 .4 10.4 .4-11.3 .4 14 .4-2 .4 .9 .4 6.8 .4-11.4 .4 5.5 .4-3.5 .4 1.5 .4-9.6 .4 8.4 .4-7.9 .4 7.9 .4-3.6 .4-5.3 .4 1.6 .4-1.3 .4-2.6 .4 10.1 .4-17.4 .4-3.7 .4-1 .4 4.3 .4-.1 .4 2.5 .4 .5 .4-4.7 .4-1.4 .4-6.3 .4 8.6 .4 1 .4-8.2 .4 3.3 .4-7.3 .4 2.3 .4 0 .4 3.3 .4-11.9 .4 7.1 .4 3.8 .4-2.9 .4 1.5 .4-15.7 .4 8.1 .4 2.1 .4-1.6 .4-7.8 .4 16.9 .4-4 .4-10.8 .4 7.3 .4 2.7 .4 4.7 .4-1.3 .4-8.2 .4 1.9 .4 4.5 .4 4 .4-6.9 .4-.7 .4 6.2 .4-2 .4 6.3 .4-4.1 .4 2.8 .4-14.5 .4 3.3 .4-.6 .4 4.4 .4 5.5 .4-2.9 .4 4.2 .4-6 .4 8.9 .4-.3 .4-12.5 .4 3.6 .4 2.5 .4 7.5 .4 .1 .4 5.4 .4-16.1 .4 8.9 .4-.9 .4-.9 .4 1 .4-9.3 .4 12.1 .4-3.2 .4-3.9 .4 13.7 .4-10.2 .4 4.9 .4-4.3 .4-3.9 .4 5.7 .4 4.2 .4-6.3 .4 7.9 .4 6.4 .4-2.3 .4-7.2 .4-2.1 .4 8.9 .4-11.3 .4 2.1 .4 14.1 .4-6.4 .4 .8 .4-3.6 .4 14.5 .4 .2 .4-13.2 .4 5.2 .4-5.4 .4 4 .4 4.6 .4-.1 .4-7.5 .4 3.4 .4 10.6 .4-7.4 .4 2.5 .4-4.2 .4-3.4 .4-4.9 .4 .6 .4-3.4 .4 2.9 .4 1.1 .4 8.1 .4-12.1 .4 10.5 .4-12.1 .4 22.3 .4-15.4 .4 3.6 .4 8.1 .4-10 .4 1.4 .4 .2 .4 1.9 .4-5.4 .4 11.3 .4-3.2 .4-5.3 .4 5.4 .4-6.9 .4-2.3 .4 2 .4 2.7 .4-10.4 .4 6 .4 3.8 .4-8.1 .4 7 .4-7.5 .4 6.4 .4-1.6 .4 1.9 .4-5.7 .4-6.6 .4-3.4 .4 25.5 .4-20.3 .4 2.8 .4-4.3 .4 15.3 .4-3.7 .4 .5 .4-10.5 .4 10.8 .4-9.4 .4 10 .4-7.1 .4-11.6 .4 10.9 .4-4.2 .4 16.6 .4-19.5 .4 5 .4-.2 .4-3.2 .4 .3 .4 3.1 .4 1.8 .4-4.2 .4 .5 .4 1.1 .4-5.2 .4 3.4 .4 1.1 .4 4.8 .4-2.1 .4-1.2 .4 1.9 .4-9 .4 9.6 .4-8 .4 .9 .4-1.6 .4 5.2 .4-6.9 .4 6 .4-5.1 .4-1 .4 4.4 .4-6.7 .4 10.2 .4-9.9 .4 .9 .4 8.4 .4-13.9 .4 11.9 .4-4.4 .4-.1 .4 .3 .4-5.8 .4 12.9 .4-5.8 .4 .4 .4 .6 .4 .7 .4-3.5 .4-6.5 .4-1.9 .4-.5 .4 4.5 .4 7.3 .4-11.8 .4 4.7 .4 4.7 .4-4.8 .4 .3 .4-4.2 .4 6.2 .4-4 .4-.6 .4 1.4 .4 3.8 .4 3 .4-10.9 .4 8.3 .4-8.2 .4-3.9 .4 6 .4 3.6 .4-.7 .4 2.1 .4-12.2 .4 17.2 .4-2.9 .4-.9 .4-11.5 .4 10.4 .4-4.9 .4 0 .4 2.5 .4-8.2 .4 13.5 .4-.3 .4-1.2 .4 3 .4-15.7 .4 7.1 .4-.3 .4-4.5 .4 10.3 .4 8.8 .4-18.2 .4 8.2 .4-2.5 .4 .4 .4-.2 .4 2.9 .4-6.6 .4 1.1 .4 10.4 .4-8.2 .4-.1 .4-8.8 .4 11.2 .4 .8 .4-1.7 .4 6.5 .4-17.8 .4 14.4 .4-12.6 .4 2.9 .4-4.7 .4 14.2 .4-4.8 .4-1.5 .4 2.4 .4-10.7 .4 7.5 .4 4.1 .4-4 .4 2.8 .4-7.6 .4 8.8 .4-2.3 .4 2.7 .4 6.8 .4-7.4 .4-3.3 .4 5 .4-7.5 .4 14 .4-8.2 .4 .2 .4 2.5 .4-8.8 .4 6.3 .4-.9 .4 12 .4-3.4 .4 2 .4-8.8 .4 .6 .4 4.7 .4-8.6 .4-1.1 .4 12.6 .4-5.3 .4 .1 .4-10.9 .4 6.6 .4-.1 .4-1 .4 5.3 .4-6.1 .4-1.2 .4 15.9 .4-7.2 .4-7.4 .4 16 .4-7.6 .4-.9 .4-14 .4 20.1 .4-6.4 .4 5.6 .4 2.6 .4-14.8 .4 16 .4-4.9 .4-3.4 .4-11.9 .4 21.6 .4-8 .4 1.7 .4-8.9 .4 9.3 .4 0 .4 4.9 .4-12 .4-6.1 .4 8 .4-1.7 .4 6.6 .4-1.9 .4 2.1 .4 5.5 .4 2.4 .4-8 .4-8 .4 8.1 .4-.8 .4 .9 .4-.1 .4 .8 .4-10.6" fill="none" stroke="#00f" stroke-width="3" stroke-linejoin="round"/>
<path d="M467.8 1141.2V1174.4M603.4 1141.2V1174.4M616.4 1141.2V1174.4M702.5 1141.2V1174.4M725.2 1141.2V1174.4M747.9 1141.2V1174.4M841.3 1141.2V1174.4M969.2 1141.2V1174.4M988.1 1141.2V1174.4M993.4 1141.2V1174.4M1011.1 1141.2V1174.4M1026.1 1141.2V1174.4M1035.3 1141.2V1174.4M1043.3 1141.2V1174.4M1087.5 1141.2V1174.4M1090.7 1141.2V1174.4M1122.2 1141.2V1174.4M1148.6 1141.2V1174.4M1164.4 1141.2V1174.4M1203.1 1141.2V1174.4M1220.3 1141.2V1174.4M1228.5 1141.2V1174.4M1231.5 1141.2V1174.4M1234 1141.2V1174.4M1291 1141.2V1174.4M1307.2 1141.2V1174.4M1312.2 1141.2V1174.4M1332.9 1141.2V1174.4M1370.9 1141.2V1174.4M1379.6 1141.2V1174.4M1382.1 1141.2V1174.4M1384.6 1141.2V1174.4M1427.8 1141.2V1174.4M1431.5 1141.2V1174.4M1480.7 1141.2V1174.4M1496.9 1141.2V1174.4M1507.9 1141.2V1174.4M1514.4 1141.2V1174.4M1522.4 1141.2V1174.4M1529.1 1141.2V1174.4M1564.8 1141.2V1174.4M1571 1141.2V1174.4M1574.8 1141.2V1174.4M1579.8 1141.2V1174.4M1583.5 1141.2V1174.4M1594.3 1141.2V1174.4M1616 1141.2V1174.4M1636 1141.2V1174.4M1642.2 1141.2V1174.4M1647.2 1141.2V1174.4M1668 1141.2V1174.4M1677.9 1141.2V1174.4M1689.7 1141.2V1174.4M1696.7 1141.2V1174.4M1711.4 1141.2V1174.4M1713.9 1141.2V1174.4M1716.4 1141.2V1174.4M1720.4 1141.2V1174.4M1724.1 1141.2V1174.4M1744 1141.2V1174.4M1747 1141.2V1174.4M1750 1141.2V1174.4M1753 1141.2V1174.4M1756 1141.2V1174.4M1759 1141.2V1174.4M1761 1141.2V1174.4M1774 1141.2V1174.4M1787.3 1141.2V1174.4M1816.7 1141.2V1174.4M1860.7 1141.2V1174.4M1869.1 1141.2V1174.4M1888.8 1141.2V1174.4M1898 1141.2V1174.4M1927.3 1141.2V1174.4M1935.2 1141.2V1174.4M1937.3 1141.2V1174.4M1939.4 1141.2V1174.4M1949.3 1141.2V1174.4M1965.3 1141.2V1174.4M1973.4 1141.2V1174.4M1981 1141.2V1174.4M1985 1141.2V1174.4M1991.8 1141.2V1174.4M1994.4 1141.2V1174.4M2016.4 1141.2V1174.4M2018.5 1141.2V1174.4M2027 1141.2V1174.4M2048.7 1141.2V1174.4M2061.8 1141.2V1174.4M2073 1141.2V1174.4M2078.8 1141.2V1174.4M2083.5 1141.2V1174.4M2102.9 1141.2V1174.4M2106 1141.2V1174.4M2111.6 1141.2V1174.4M2114.2 1141.2V1174.4M2116.8 1141.2V1174.4M2128.1 1141.2V1174.4M2145.1 1141.2V1174.4M2150.1 1141.2V1174.4M2154.8 1141.2V1174.4M2166.6 1141.2V1174.4M2169.2 1141.2V1174.4" stroke="#800080" stroke-width="3.6" fill="none"/>
</g>
<rect x="229" y="26" width="1941.5" height="1448" fill="none" stroke="#000" stroke-width="8" stroke-linejoin="round"/>
<path d="M229 91.3H216M229 223H202M229 354.6H216M229 486.3H202M229 618H216M229 749.6H202M229 881.3H216M229 1013H202M229 1144.7H216M229 1276.3H202M229 1408H216M229 1474V1487.5M358.4 1474V1501M487.9 1474V1487.5M617.3 1474V1501M746.7 1474V1487.5M876.2 1474V1501M1005.6 1474V1487.5M1135 1474V1501M1264.5 1474V1487.5M1393.9 1474V1501M1523.3 1474V1487.5M1652.8 1474V1501M1782.2 1474V1487.5M1911.6 1474V1501M2041.1 1474V1487.5M2170.5 1474V1501" stroke="#000" stroke-width="8" stroke-linecap="round" fill="none"/>
<text x="358.4" y="1582" text-anchor="middle" font-size="81">10</text>
<text x="617.3" y="1582" text-anchor="middle" font-size="81">20</text>
<text x="876.2" y="1582" text-anchor="middle" font-size="81">30</text>
<text x="1135" y="1582" text-anchor="middle" font-size="81">40</text>
<text x="1393.9" y="1582" text-anchor="middle" font-size="81">50</text>
<text x="1652.8" y="1582" text-anchor="middle" font-size="81">60</text>
<text x="1911.6" y="1582" text-anchor="middle" font-size="81">70</text>
<text x="2170.5" y="1582" text-anchor="middle" font-size="81">80</text>
<clipPath id="clipb"><rect x="223.5" y="1822" width="1968.5" height="1468"/></clipPath>
<g clip-path="url(#clipb)">
<path d="M223.5 2999.2l.8-2.7 .8-.7 .8 .8 .8 2.3 .8-2.4 .8-.4 .8 1.2 .8 1.5 .8-6.2 .8 6.5 .8 .5 .8-5.4 .8 1.8 .8 .9 .8-.9 .8 3.6 .8-3.9 .8-1.7 .8 .1 .8 1.4 .8-2.6 .8 .1 .8-.1 .8 4.4 .8-2.5 .8-4.1 .8 3.2 .8-6.9 .8 5.2 .8 1 .8-1 .8 0 .8-1.1 .8-2.3 .8 .6 .8-.6 .8-3.1 .8 2.8 .8-2.8 .8 2.9 .8 2.9 .8-.9 .8 0 .8-6.8 .8-.7 .8 1.6 .8-4 .8 2.6 .8-3.4 .8 1.2 .8-2.3 .8 3.5 .8-1.7 .8-1.5 .8-5.1 .8 4.4 .8-4.2 .8-2.9 .8 2.8 .8 .8 .8-6.3 .8 4.1 .8-3 .8-.8 .8 .6 .8-2.6 .8-1.6 .8 2.9 .8-8.5 .8 6.6 .8-5.8 .8 4.5 .8-6.1 .8 4.7 .8-7.6 .8 6.7 .8-4.5 .8-1.6 .8-1.2 .8 2 .8-3.5 .8 .8 .8-1.9 .8-3.6 .8 5.1 .8-4.9 .8 .1 .8-1 .8-1.4 .8 2.8 .8-3.8 .8-2.3 .8-.2 .8-1.7 .8-2.6 .8 3.9 .8-5.4 .8 3.9 .8-3.4 .8 .7 .8-2.7 .8-1.5 .8 4.7 .8-6.7 .8-2.1 .8 2.1 .8 1.2 .8-6.8 .8 .7 .8 2.2 .8-.7 .8-1.7 .8-3.1 .8 .5 .8-2.9 .8 1.6 .8-1.9 .8-.3 .8-2 .8 1.1 .8-2.3 .8-2.6 .8 3.8 .8-3.5 .8-2 .8-.7 .8 2.7 .8-4 .8-.4 .8-3.4 .8 .1 .8-1.4 .8-1.5 .8-1.4 .8 .6 .8-3 .8 3.2 .8-.6 .8-4.6 .8 1.9 .8-3.4 .8 1.2 .8-.7 .8-5.5 .8-2.7 .8 5.4 .8-.9 .8-2.1 .8-2.1 .8-1.4 .8-5 .8 7.7 .8-8.9 .8 4.4 .8-2 .8 .2 .8-4.3 .8-.1 .8 1.8 .8-4.4 .8 1.7 .8-4 .8 2.3 .8-.3 .8-2 .8 .2 .8-4.7 .8 .4 .8-.5 .8 2.9 .8-5.3 .8 .3 .8 1.6 .8-3.1 .8 .6 .8-5.2 .8 3.5 .8-3.1 .8 .2 .8-.5 .8-6.7 .8 5.8 .8-4.3 .8 2.5 .8-4.1 .8 .2 .8-4.8 .8 0 .8 3.9 .8-4.9 .8 1.5 .8-1.6 .8-3.1 .8 1.1 .8-.7 .8 .8 .8-3 .8-1.3 .8 3.6 .8-.7 .8-3.8 .8-3.3 .8 2.3 .8-2.9 .8 3.4 .8-4.1 .8-2.3 .8-.2 .8-2.3 .8 .9 .8-3.6 .8 2.2 .8 .3 .8-1.8 .8-4.2 .8 1.7 .8-2.9 .8-3.4 .8 1.7 .8 .9 .8-2.6 .8-2.5 .8-1.9 .8 0 .8-.1 .8-1.9 .8 1 .8-2 .8-.9 .8-4 .8 .4 .8-2.2 .8-.5 .8-1.4 .8 3.4 .8-9.2 .8 2 .8-3.2 .8 .6 .8-1.8 .8 1.4 .8-5.2 .8-2.6 .8 .7 .8-1.6 .8-6.8 .8 7.3 .8-7.8 .8 3.8 .8-2.4 .8-1.4 .8-4.3 .8-4.1 .8-1.7 .8 2.4 .8-5.8 .8-.2 .8-3.9 .8-2.7 .8 1 .8-6.6 .8-.9 .8-2.7 .8-1.6 .8-3.3 .8-4.9 .8-1.6 .8-2.8 .8 2 .8-5.7 .8-5 .8-2.6 .8-4.2 .8 1 .8-7.4 .8-5.3 .8 4.3 .8-11.5 .8-3.6 .8-5.3 .8-1.9 .8-8.3 .8-6.9 .8-2.8 .8-5.3 .8-8.3 .8-8.8 .8-2.5 .8-8.8 .8-4.5 .8-7 .8-10.9 .8-4 .8-10.1 .8-7.9 .8-9.8 .8-1.9 .8-9.4 .8-3.5 .8-7 .8-3.9 .8-2.9 .8-3.7 .8 0 .8 1.2 .8-3.3 .8-7.2 .8-2.8 .8 2.5 .8-4 .8-3.6 .8-2.2 .8-.7 .8-4.5 .8 4.3 .8 7.5 .8 1 .8-1.3 .8 5.7 .8 3.2 .8 1 .8 2.8 .8 4 .8 4.4 .8 4.6 .8-1.3 .8 0 .8-.1 .8 4.1 .8 2.1 .8 2.4 .8 6.1 .8 9 .8 8.7 .8 7.9 .8 5.3 .8 1.5 .8 6.9 .8 4.7 .8 7.8 .8 1.1 .8 3.2 .8 9.1 .8 3.5 .8 4.6 .8 4.7 .8 2.1 .8 5.9 .8 .6 .8 2.9 .8 6.5 .8 .5 .8 5.7 .8 .2 .8-.3 .8 2 .8 .2 .8 3.6 .8 2.5 .8-.2 .8 1.6 .8-1.8 .8 6.1 .8-.7 .8 1.6 .8-4.4 .8 2.7 .8-.9 .8 5.9 .8-3.7 .8 6.2 .8-3.9 .8-2 .8 4.8 .8 1.6 .8-4.1 .8-.5 .8 1.7 .8-2.4 .8 .5 .8-2.5 .8 3.8 .8-1.8 .8 3.4 .8 .1 .8 1.6 .8-2.2 .8-1.5 .8 3.3 .8-5.2 .8-3.9 .8 1.4 .8 1.9 .8 2 .8 .8 .8-5.3 .8 4.7 .8-2 .8 .2 .8-4.4 .8 1.5 .8-5.1 .8 5.1 .8-1.6 .8 2.2 .8 .6 .8-5.5 .8 4 .8-.1 .8-3.9 .8 4.8 .8-7.2 .8-2.3 .8 3 .8 3.6 .8-3.8 .8-6.5 .8 2.2 .8 3.4 .8-6 .8 .3 .8-3.4 .8 6.3 .8-2 .8-9 .8-2.6 .8 4.8 .8-1.6 .8-2.2 .8-.9 .8-2.2 .8 1.7 .8-1.7 .8-.8 .8-3.2 .8-6 .8-2.1 .8-2.2 .8-1.7 .8-4.9 .8-3.2 .8-1.4 .8-3.7 .8-2.8 .8-.1 .8-6.2 .8-11.1 .8-5.3 .8-8.3 .8-9.2 .8-4.3 .8-14.7 .8-2.4 .8-9.5 .8-10.5 .8-3.2 .8-6.1 .8-8.8 .8-5.8 .8-9.1 .8-1.2 .8-.9 .8-9.7 .8 7.6 .8-10.7 .8 8.6 .8-1.4 .8 5.9 .8 4 .8 5.5 .8 8.7 .8 3.1 .8 8.3 .8 9.7 .8 3.2 .8 .8 .8 9.9 .8 4.3 .8 2.2 .8 5.9 .8-.5 .8-2 .8 .7 .8-2.3 .8 2.6 .8 6.8 .8-10 .8 9.8 .8-6 .8-1.2 .8-2.1 .8-3.5 .8 3.1 .8-5.2 .8-3.9 .8-1.5 .8 1.4 .8-8.5 .8-1.7 .8 2.2 .8-8.4 .8 4 .8 3.7 .8-7.4 .8-5 .8 7.2 .8-3.8 .8 4.7 .8-2.3 .8-.5 .8-3.1 .8 6.4 .8-1.5 .8 .7 .8 1 .8 1.1 .8 .6 .8 .4 .8-3.3 .8 4.5 .8 2.1 .8 5.6 .8 1.4 .8-4.7 .8 2.6 .8 .9 .8 4.1 .8 1.3 .8 2.4 .8-2.1 .8 2.4 .8 8.6 .8-8 .8 9 .8-.7 .8 1.7 .8-1.4 .8 .5 .8 2.9 .8-2.2 .8 .7 .8-.2 .8 2.4 .8-1.1 .8-.3 .8 3 .8-1 .8-4.2 .8 3.8 .8 4.4 .8-2.9 .8 3.4 .8-9.8 .8 6 .8-7.2 .8 7.5 .8-4.1 .8 1.2 .8 1.5 .8-4.1 .8 0 .8 .6 .8 3.1 .8 1.5 .8-6.8 .8-.9 .8 2.6 .8-4.2 .8-.9 .8 5.3 .8-3.5 .8 5.9 .8-7.9 .8 6.9 .8-1.2 .8-5.2 .8 1.1 .8-9.3 .8 8.4 .8-1.2 .8-3.2 .8 6.1 .8-12.2 .8 8.9 .8-2.6 .8-.2 .8-6 .8 5.9 .8-4.3 .8 1.4 .8 1.6 .8-6.3 .8-6.4 .8 8.5 .8-1.1 .8-2.3 .8-2.1 .8-1.7 .8 2.4 .8 .6 .8-4.2 .8 4.6 .8-5.8 .8 1.7 .8-3.7 .8-.6 .8 2 .8-2.2 .8 .4 .8-1.6 .8-4.8 .8 .9 .8-2.3 .8-1.6 .8-.5 .8-3.9 .8-1.5 .8-.5 .8-6.6 .8 3.5 .8-1.9 .8-12.5 .8 6.1 .8-7.6 .8-3.5 .8 1.6 .8-8.3 .8 .4 .8-6 .8-5 .8 6.9 .8-11 .8-3.8 .8 .7 .8 5.1 .8-13.2 .8 7.1 .8-8 .8 1.3 .8-2.7 .8 1.9 .8-7.5 .8 7.2 .8-8.8 .8-4.6 .8 4.2 .8 1.3 .8-.7 .8 1.1 .8-3.4 .8 6.4 .8-.9 .8-4.5 .8 3.2 .8 .6 .8 3.2 .8 3.5 .8-.4 .8 2.8 .8 4.8 .8 1.9 .8 3.3 .8-13.3 .8 8.3 .8 .6 .8 1.3 .8-.6 .8 .4 .8 6.1 .8 2.2 .8-7.8 .8 6.3 .8-9.9 .8 9.2 .8 3.8 .8-2.5 .8-5.9 .8 .1 .8 2.4 .8 6.1 .8-2.3 .8 .4 .8 1.9 .8-4.7 .8-2.9 .8 6.2 .8 1.1 .8 3.3 .8-.2 .8 9.3 .8-10 .8-.1 .8 7.1 .8-4.5 .8 6.8 .8 0 .8-3.5 .8-.2 .8-8 .8 10.3 .8-3.8 .8 1.6 .8 1.4 .8-2.9 .8-3.8 .8 1.7 .8-1.7 .8 6.9 .8-3.4 .8 .4 .8-1.9 .8 1.2 .8-3.7 .8 4.6 .8-4.4 .8 4.9 .8-2 .8 2.5 .8 2.2 .8-2.3 .8-1.2 .8 2.5 .8-5.2 .8 1.7 .8 1.5 .8-6.8 .8 2.5 .8 9.7 .8-6.9 .8-.5 .8 1.1 .8-3.1 .8-1.4 .8 0 .8 4.4 .8 1.6 .8-8.5 .8 1 .8 1.4 .8-6.4 .8 3.7 .8 2.9 .8-.4 .8 4 .8-10.8 .8 .4 .8 2.5 .8-2.9 .8 2.2 .8-5 .8-7.3 .8 2.5 .8-4.1 .8 5.9 .8 3.2 .8-3.5 .8-4.8 .8-6.6 .8 6.5 .8-3.4 .8-.8 .8 1.6 .8 7.8 .8-11.3 .8-2 .8-3.6 .8 8.1 .8-8 .8-4.4 .8 4.4 .8 2 .8-6.6 .8 3.6 .8-6.9 .8 10.1 .8-10 .8 3.5 .8-4.2 .8 .7 .8 2.6 .8-4.3 .8 1.1 .8 4.3 .8 4.5 .8-7.3 .8-3.8 .8 .1 .8-6.4 .8-.1 .8-.7 .8 5.3 .8-2.7 .8-1.4 .8 10.1 .8-9.6 .8 3 .8-1.7 .8-1.9 .8 1.6 .8-8 .8 6.1 .8 3.4 .8 2.2 .8-7.7 .8 6 .8-2.6 .8-5.1 .8-5.2 .8 7 .8-4.2 .8 6.6 .8-3.5 .8-7.8 .8 3.5 .8 2.9 .8 3.2 .8-15.7 .8 11.7 .8-7.6 .8 3.8 .8-2.9 .8 6.9 .8-2.6 .8 5.4 .8-2.1 .8-8.1 .8-6 .8 7.7 .8-1.2 .8 2.8 .8-3.3 .8 .5 .8 5.6 .8-2 .8-3.9 .8 4.3 .8-5.4 .8 3.5 .8 3.4 .8-6.1 .8-3.8 .8 5.7 .8-2.6 .8 8.2 .8-8.1 .8-2.7 .8-2.8 .8-4.9 .8 5 .8 2.9 .8-4.7 .8 5 .8 .9 .8-1.7 .8-6.3 .8-1.3 .8 5.7 .8-6.9 .8-.7 .8-.5 .8 6.8 .8-13.9 .8 11.4 .8-1.8 .8 2 .8-5.5 .8 6.4 .8-6.9 .8-7.6 .8-3.1 .8 5.1 .8 .9 .8-1.5 .8 2.1 .8-.2 .8-15.5 .8 9.2 .8-.7 .8 1.7 .8-6.5 .8 7.3 .8-5.4 .8 4.4 .8-9 .8 1.2 .8-5.8 .8 .6 .8 1.7 .8-2 .8 2.6 .8-.5 .8-2.8 .8-1 .8-5.7 .8 1.8 .8-.3 .8-3.2 .8 5.1 .8-2 .8-6.8 .8 .3 .8 .3 .8-.6 .8 4.5 .8-8.3 .8-3.1 .8 2.6 .8-.3 .8 .8 .8-10.6 .8 1.2 .8 .1 .8-2 .8-9.1 .8 6 .8 2.3 .8-5.5 .8-5.3 .8-5.8 .8-1.9 .8 1.8 .8-5.2 .8-2.2 .8-6 .8 6.3 .8-.5 .8-6 .8 .7 .8-4.2 .8 4.1 .8-9.6 .8-2.1 .8-7.5 .8 2.1 .8-4.1 .8-3.1 .8 5.5 .8-6 .8-2 .8-6.1 .8-8.5 .8 .5 .8 .6 .8-11.5 .8-.9 .8-3.1 .8 .6 .8-7.9 .8-.9 .8-4.3 .8-7.9 .8-2.1 .8-10.5 .8-1.2 .8-.2 .8-5.3 .8-5.1 .8-6.3 .8-1.8 .8-6.1 .8-7.9 .8-13 .8 11.6 .8-7.6 .8-19.2 .8 4 .8-13.4 .8 .3 .8-14.3 .8-1.5 .8-6.5 .8 .6 .8-3.7 .8-7.1 .8-13.4 .8 7.5 .8-7.4 .8 8.9 .8-10.8 .8-8.6 .8 7.4 .8-5.6 .8 7.3 .8-7.5 .8 6.8 .8-8.9 .8 11.9 .8-5.4 .8 3.2 .8-4.1 .8 9.9 .8-9.5 .8 4.1 .8-2.9 .8 6 .8-11.4 .8-.5 .8 9.2 .8-5.4 .8-.9 .8 6.6 .8-1.6 .8-10 .8 12.2 .8-1.8 .8-1.1 .8 8.9 .8 .2 .8 4.5 .8-7.3 .8-.9 .8 16.2 .8-6.5 .8 .2 .8-6.3 .8 2.4 .8 5.9 .8-14.2 .8 5.6 .8 7.3 .8-8.9 .8 12.2 .8-3.2 .8-5.8 .8 8 .8 .5 .8-.1 .8 3.5 .8-9.1 .8 4.8 .8 4.4 .8-1.6 .8-1.1 .8 9.6 .8-15.7 .8-2.9 .8 3.2 .8-6.1 .8 2.6 .8-8.2 .8 4.4 .8-15.3 .8-2.7 .8 1 .8-6.8 .8 1.4 .8-3 .8-1.8 .8-11.6 .8 7.7 .8-5 .8 .4 .8-5.3 .8 6.6 .8 2.5 .8-.6 .8 2.3 .8 .2 .8 .2 .8 4.8 .8-.9 .8 2.7 .8 5.1 .8 4.4 .8 4.8 .8-2.2 .8-5 .8-4.7 .8 3.8 .8-7.6 .8-1.9 .8-7 .8 10.2 .8-5.6 .8-16.5 .8-2.2 .8-6.8 .8-2.7 .8-7.8 .8-16.7 .8-.7 .8-14 .8 1.8 .8-2.8 .8-3.9 .8-5.5 .8 2.6 .8 11.2 .8-11.6 .8 4.5 .8 6.5 .8 2.3 .8-2.2 .8 11.7 .8 4.1 .8 .7 .8 7.7 .8 6 .8 10.7 .8 6.1 .8 11.4 .8-5.1 .8 19.2 .8 2.3 .8 13.8 .8 5.7 .8 .8 .8 7.5 .8 4.6 .8 4.1 .8 10 .8 10.9 .8 1.9 .8 1.4 .8 11.7 .8 .4 .8 9.1 .8 6.1 .8 4.2 .8 3.7 .8-6.5 .8-5.9 .8 13.1 .8 .2 .8 4.8 .8-.6 .8-5.4 .8-.3 .8 1.2 .8-10 .8-10.3 .8 7.9 .8-4.6 .8-7 .8 4.2 .8-10.6 .8-7 .8 .2 .8 2.8 .8-17.2 .8 4.8 .8-13.6 .8 5.4 .8-9 .8-2.9 .8 1.8 .8 4.9 .8-23.2 .8 4 .8-5.3 .8 7.3 .8-6.3 .8-5.4 .8 7 .8-1.9 .8-4.5 .8 3.1 .8-3.5 .8 .8 .8-12.3 .8 4.1 .8-3.3 .8-13.7 .8 10.1 .8-11.5 .8-12.9 .8-11.1 .8-5.5 .8-6 .8-5.1 .8-15.7 .8-6.3 .8 4.5 .8-18.2 .8 10.6 .8-13.4 .8-7.7 .8 3.1 .8 14.7 .8-2 .8 .5 .8 18.4 .8 4.7 .8 3.4 .8 6.5 .8 7.3 .8 16.8 .8 11.3 .8 13.1 .8 7.4 .8 3.3 .8-5.9 .8 10 .8 11 .8 1.9 .8 6.7 .8 1.5 .8 5.2 .8 7.5 .8 0 .8-7.1 .8 6.4 .8-1.6 .8-.8 .8 13.7 .8-3.3 .8 13.1 .8-6.9 .8 .9 .8-3.1 .8 .7 .8 8.9 .8-4.2 .8 11.7 .8-.9 .8 1.6 .8-2 .8-3.5 .8 11.8 .8-6.7 .8 4.3 .8 5.2 .8-4.1 .8 .6 .8-3.5 .8 12 .8 3.3 .8-12.4 .8 9.3 .8 3.2 .8-1.4 .8-4.2 .8-9.1 .8-4.7 .8 2.7 .8 4.8 .8 3.4 .8-1.4 .8-8.1 .8 1.4 .8-5.7 .8-8.2 .8 3.8 .8 6.4 .8-3.2 .8-5.1 .8-2.4 .8 9 .8-11.1 .8-5.8 .8-7.4 .8 1.6 .8 2.8 .8-6.7 .8 2.7 .8-6.9 .8 11.6 .8-15.9 .8 4 .8-10.4 .8 2.5 .8 .3 .8-6 .8-12 .8 12.4 .8-6.7 .8-11 .8-1.2 .8 2 .8-10.3 .8 3.6 .8-12.5 .8 3.7 .8 .5 .8-8.7 .8 .4 .8-1 .8 2.9 .8-3.4 .8-6.8 .8-1.2 .8-4.1 .8-.3 .8 .4 .8 1.2 .8 9.2 .8-2.6 .8 .4 .8 3.7 .8 7.2 .8 6.4 .8-1 .8 2.6 .8 11.1 .8 9.2 .8-4.2 .8 8.3 .8-2.1 .8 25.9 .8-12.8 .8 3.3 .8 11.1 .8 .9 .8 9.3 .8-4.4 .8 8.2 .8 3.7 .8 4.7 .8 9.4 .8-6.7 .8-1.2 .8 8.9 .8-3.3 .8 10.4 .8-1.2 .8 1 .8-6.8 .8 1.4 .8 5.9 .8 3.9 .8-8.8 .8 8.8 .8 4.4 .8-3.4 .8 8.1 .8-3.2 .8 6.5 .8-11.5 .8 5.4 .8-15.3 .8 7.9 .8 8.2 .8-7.5 .8-1.2 .8-4.2 .8 13.5 .8-3.4 .8-8.4 .8-.4 .8-4.4 .8-9.7 .8 5.5 .8-7.6 .8-4.6 .8 6 .8-8.9 .8-9.3 .8 3.4 .8-7.7 .8-3.6 .8-8.5 .8-4.6 .8-7.4 .8-13.4 .8 7.3 .8-17.4 .8-22.2 .8 8.7 .8-21.2 .8 .5 .8-2.8 .8-17.7 .8-7.1 .8-1.1 .8-9.7 .8-7.2 .8-10 .8-4.9 .8-15.1 .8 3 .8-1.9 .8 1.6 .8-1.4 .8-8 .8 5.1 .8-3.5 .8 15.4 .8 14.2 .8 0 .8 2.4 .8 12.1 .8 6.3 .8 2.4 .8 9.9 .8 12 .8 13.7 .8 1.3 .8 7.6 .8 4.1 .8 13.8 .8 .8 .8 19.7 .8-4.6 .8-9 .8 22.9 .8-2.2 .8 1.5 .8 4.2 .8-1.1 .8 1.2 .8 3.2 .8 5.2 .8 5 .8 10.4 .8-5.5 .8 4.3 .8 2 .8-9 .8-1.9 .8-.4 .8 11.2 .8-16 .8 8.9 .8-8.2 .8 16.5 .8-20.8 .8 0 .8 3.4 .8-3.3 .8 9.8 .8 1.3 .8 .9 .8 6.7 .8-14.5 .8 6.7 .8-1.6 .8-.5 .8 6.9 .8 10.8 .8-14.5 .8 17.3 .8-8.3 .8-2.8 .8-2.6 .8 11.5 .8-2.8 .8-.8 .8-1.6 .8 3.1 .8-.5 .8 3.3 .8-9.7 .8 11.5 .8 4.4 .8-.4 .8-10.7 .8 7.9 .8 1.3 .8 4.8 .8-1.1 .8 .9 .8-6 .8 4.3 .8-4.2 .8-1.1 .8-6.6 .8 9.6 .8-3 .8-7.3 .8 14.7 .8-9.2 .8 3.8 .8-.6 .8-3.1 .8 1.7 .8 3.3 .8-9.2 .8-3.3 .8 12 .8-3.1 .8-7 .8 9.1 .8-12.1 .8 6.5 .8 .9 .8-2.1 .8 2.1 .8-5.2 .8-6.2 .8 5.2 .8 5.9 .8-2.9 .8-.5 .8-1.6 .8 7.5 .8-8.4 .8 4.3 .8 .3 .8-6.1 .8 9.3 .8-1.6 .8 1 .8-10 .8 13.3 .8-8 .8 1.9 .8 2.4 .8 2.5 .8-7.4 .8 4.5 .8-1.6 .8-.3 .8 .1 .8-5 .8 4.7 .8 6.4 .8-11.4 .8-3.3 .8 15.6 .8-14.7 .8 5 .8-2 .8 3.7 .8-3.8 .8 3.4 .8-5.7 .8-4.3 .8 17.2 .8-12.9 .8 1 .8-10.1 .8 1.7 .8 .1 .8 6.6 .8-10.3 .8 5.9 .8-4.9 .8-2.6 .8 6.7 .8-2.6 .8-7.1 .8 8.6 .8-10 .8 9.5 .8-2.8 .8 12.5 .8-8.4 .8 8.9 .8-7.3 .8-4.3 .8 6.4 .8-10.6 .8 2.1 .8 6.5 .8 9.2 .8-2.5 .8-11.1 .8-3.1 .8 12.6 .8-9.2 .8 2.6 .8 2.7 .8-1.7 .8 .8 .8 3.4 .8 6.4 .8-8.2 .8 3.8 .8 2.3 .8 .6 .8-2.8 .8-3 .8 3.9 .8-6.8 .8 7.7 .8 7.4 .8-2.8 .8-15.7 .8 16.7 .8 .8 .8-4 .8 6.2 .8 .6 .8-3.3 .8 .4 .8-3.8 .8 12.3 .8-15.8 .8 14.3 .8-2.9 .8 3.1 .8-1.6 .8 2.6 .8-3.4 .8 .5 .8 14 .8-9.8 .8 9.2 .8-2.8 .8-2.9 .8 .5 .8-2 .8 4.9 .8-5.9 .8-2 .8 4.9 .8-4.2 .8 2 .8-6.8 .8 2.1 .8 4.2 .8-1 .8-11.4 .8 4 .8-5.9 .8 8.5 .8-9.8 .8-5.3 .8 2.5 .8-.9 .8 17.6 .8-15.7 .8 6.4 .8-8.2 .8 5.3 .8 3.8 .8-2.2 .8 1.5 .8-2.6 .8-6.6 .8 3 .8-2.4 .8-3.9 .8 12.9 .8-16.6 .8-2.2 .8 3.3 .8 7.7 .8-8.2 .8 2.7 .8-5.5 .8 9.4 .8-5 .8-1.7 .8 6.3 .8-12.1 .8 11 .8-3.9 .8-11.4 .8 4.3 .8 2.5 .8-8.9 .8 .1 .8 10.6 .8 5.5 .8-6.2 .8-6.1 .8-3.3 .8-6.4 .8 8.3 .8-7.2 .8 2.3 .8 0 .8 3.3 .8-1.7 .8-14.2 .8 8 .8 7.8 .8 1.5 .8-2.8 .8 1 .8-10.9 .8 5.2 .8 .6 .8 4.1 .8-4.3 .8-3.3 .8 7.4 .8-4.7 .8 2.8 .8-11.6 .8 9 .8 2.2 .8 4.6 .8-6.8 .8-8.5 .8 1.7 .8 12.4 .8-.4 .8-6.1 .8-3.3 .8 9.8 .8-8.2 .8 2.2 .8-7.6 .8-6.1 .8 14.1 .8 7.9 .8-11.4 .8-5.3 .8 12.7 .8-12.5 .8-6.4 .8 7.6 .8 3.5 .8-6.6 .8 3.6 .8-.7 .8-.5 .8 6.6 .8-7.5 .8 1.2 .8 3.2 .8-9.4 .8 5.2 .8-8.6 .8 2.2 .8-1.8 .8 4.3 .8-1.7 .8-9.4 .8-2.7 .8-1.9 .8-.4 .8 .5 .8 2 .8-5 .8 12.8 .8-3.9 .8 3.7 .8-8.8 .8 .5 .8-5.1 .8 6.8 .8-3.5 .8-3.5 .8 2.3 .8 7.5 .8-1.3 .8-8.2 .8-10.1 .8-3.8 .8 13.5 .8 0 .8 .2 .8 2.3 .8 .8 .8-6.8 .8 1.1 .8 11.2 .8 3.2 .8-10.6 .8-.1 .8 3.4 .8-2.8 .8-1.8 .8-.8 .8 7.1 .8-11.8 .8 5.6 .8-9.8 .8 7.3 .8-3 .8-4.1 .8 .1 .8-13.1 .8 2.2 .8-.9 .8-.1 .8-3.4 .8-6.2 .8 1.3 .8-1.1 .8 8.6 .8-14.2 .8-1.4 .8-2.5 .8-5.5 .8-3 .8 3.7 .8-7.6 .8-3.6 .8 .1 .8 6 .8-16.3 .8 1.9 .8 1.4 .8-.3 .8 3.9 .8 .2 .8-14.6 .8 5.8 .8 4.9 .8-5 .8-11.2 .8 .3 .8 2.6 .8 3 .8-10.4 .8 8.7 .8-8.4 .8 5.8 .8-.3 .8-2.1 .8 2.1 .8-6.1 .8 .3 .8 4.8 .8-10.4 .8-1.2 .8-4.9 .8 14.8 .8-13.6 .8 7.6 .8-5.3 .8 .8 .8-5.3 .8 .3 .8 4.7 .8-5.3 .8-6.6 .8 3.6 .8-6.9 .8 9.1 .8 1.3 .8-3.6 .8 6.5 .8 .3 .8-8.5 .8 6.8 .8-6.2 .8 2.9 .8-1.2 .8 2.5 .8-5.6 .8 6.1 .8-4.6 .8 15.4 .8-9.6 .8 3.1 .8-6.8 .8 4.9 .8 6.9 .8-13 .8 12.7 .8-3.7 .8 13.8 .8-6.8 .8 1.6 .8-2.4 .8 4.2 .8-10.6 .8 15.1 .8-4.1 .8-11.5 .8 10.6 .8-1.2 .8 8.1 .8-8.5 .8 2.2 .8 2.6 .8-2.7 .8 10.2 .8-5.9 .8-5.3 .8 4.9 .8-1.8 .8 10.1 .8-13.9 .8-3.4 .8 20.3 .8-10.8 .8 6.1 .8-5.9 .8-2.7 .8 5.1 .8-2.7 .8-4 .8-6.9 .8 11 .8 5 .8-1.5 .8-13.5 .8 13.8 .8-14.8 .8 4.1 .8 2.5 .8-.5 .8-5 .8 2.2 .8 1.8 .8-.5 .8 2.5 .8 .6 .8-4.6 .8-5 .8 6.7 .8-4.6 .8-4.8 .8-9.1 .8 12.3 .8 1.6 .8 1.1 .8-11.5 .8 3.7 .8-9.7 .8 8.8 .8-.6 .8-6.8 .8 5.9 .8 1.3 .8-.9 .8-11.1 .8 3.6 .8 3.8 .8-7.9 .8-2.6 .8-1 .8 4.3 .8-7.4 .8-10 .8 11.7 .8 7.5 .8-11 .8 3.7 .8-6.1 .8-3.4 .8-4.3 .8 8 .8-2.4 .8 5.3 .8-3.2 .8 3.5 .8-12.8 .8 13.3 .8 2.5 .8-.6 .8 6.1 .8-6.7 .8 4.4 .8-13.1 .8 14.7 .8 .6 .8-7.4 .8-5.7 .8 7.4 .8 6.1 .8 10 .8-12.9 .8 9.9 .8 2.5 .8 1.2 .8-4.7 .8 8.5 .8-8.9 .8-1.4 .8 11 .8-2.6 .8-5.6 .8 20.3 .8-1.1 .8 .9 .8-6 .8 3.1 .8-2.6 .8 10.1 .8 .8 .8 3.2 .8 9.9 .8-8.2 .8 3.8 .8-4.7 .8 17.9 .8 .3 .8-16.3 .8 2.4 .8 22.3 .8 3.3 .8-4.6 .8 5.5 .8-12.7 .8 8.7 .8 5.5 .8-4.1 .8-2.9 .8 5.3 .8-2.7 .8 15.6 .8-11.2 .8-.9 .8-5.7 .8 18.3 .8-8.3 .8 4.3 .8-3.3 .8 2.2 .8-1.3 .8-3.3 .8 5.7 .8-6.7 .8 5.9 .8 .7 .8 2.6 .8-8.7 .8 17.5 .8-10.9 .8-6.8 .8-2.1 .8 9.9 .8-.2 .8 4.4 .8-11 .8 8.5 .8 3.1 .8 3.3 .8-14.1 .8 6.2 .8-.7 .8 3.6 .8-.9 .8 2 .8-5.5 .8 6.8 .8-10.7 .8 7.5 .8 11.2 .8-17.2 .8 14.4 .8-3 .8-10 .8 4.5 .8 0 .8-8.9 .8-6.6 .8 9.1 .8-6 .8 9.8 .8-12.2 .8 20.2 .8 1.7 .8-16.5 .8-6.7 .8 12.8 .8-4.4 .8 2.4 .8-7.8 .8 .8 .8 10.6 .8-9.9 .8-3.8 .8 13.5 .8 .3 .8-5.1 .8-4.2 .8 14.1 .8-11.1 .8 5.2 .8-11.1 .8-.4 .8 8.4 .8 6.9 .8-13.9 .8 2.3 .8 .8 .8 9.5 .8-7.8 .8 2.1 .8 2.6 .8-1.2 .8 4.8 .8-16.1 .8 8.4 .8 .2 .8-8.7 .8 7 .8 .5 .8-3.6 .8-1.8 .8 10.1 .8-5.5 .8-2.1 .8 1.6 .8-4.3 .8 3.7 .8 1.1 .8-7.5 .8 3.9 .8-.1 .8 1 .8-3.3 .8 1.9 .8-2.7 .8-2.4 .8 1.8 .8-5.9 .8 11.7 .8-1.3 .8-6.7 .8-.3 .8 .4 .8-1.7 .8 .4 .8 8.9 .8-4.4 .8 6.5 .8-2 .8-.3 .8-9.2 .8 16.6 .8-10.3 .8-11.3 .8 11.1 .8-.5 .8 5 .8-8.7 .8 6.1 .8-3 .8 8.1 .8-8.6 .8 3.8 .8 2.1 .8-10.4 .8 5.5 .8-2.2 .8 8 .8-5.9 .8-7.7 .8 13.5 .8-13.3 .8 2.3 .8 .6 .8 2.2 .8-6.9 .8 2.2 .8-.9 .8 3 .8-5.6 .8 1.9 .8-5.4 .8 16.6 .8-6.8 .8 3.6 .8-10.9 .8-6.1 .8 .3 .8 1.4 .8 9 .8-5.5 .8-1.6 .8-4.8 .8 14.8 .8-17.5 .8 5 .8-1.5 .8-.3 .8-.9 .8 2.1 .8 10.8 .8-7.7 .8-4.8 .8-7.8 .8 13.5 .8-.1 .8-12 .8 5.6 .8-16.1 .8 6.4 .8 10.9 .8-16.2 .8 12 .8 1.7 .8-14.6 .8 6.3 .8 7.9 .8 4.1 .8-13.4 .8 7 .8-13.5 .8 .2 .8 5.4 .8 1.1 .8-3.6 .8 4.8 .8-2.2 .8 2.3 .8-3.5 .8-4.4 .8 0 .8-1.9 .8 .7 .8 4.6 .8-1.3 .8 1.1 .8-3.1 .8-1.1 .8-10.3 .8 1.5 .8-1.7 .8-2.8 .8-10.7 .8 15.5 .8-11.3 .8-.2 .8-1.9 .8 10.4 .8-8.3 .8 3.5 .8-10.7 .8 2 .8-2.5 .8-7.9 .8-1.3 .8-13.1 .8 .3 .8 2.9 .8-16.7 .8 10.2 .8-4.2 .8-8.5 .8 3.9 .8-5.6 .8-.5 .8-9.1 .8-1.9 .8-5.6 .8-13 .8 3.1 .8-4.8 .8-2.9 .8-4.5 .8 .1 .8-8.7 .8-7.3 .8 3.5 .8-17.5 .8 .8 .8 11.8 .8-16.2 .8 8.2 .8-8.2 .8 8.8 .8-1.9 .8 3.5 .8-2.4 .8 3.7 .8-10.7 .8 13.7 .8-9.7 .8 7.7 .8-4.3 .8 8.2 .8-2.6 .8 .2 .8 3.4 .8-2 .8 1.5 .8 8.8 .8-3.4 .8-1.7 .8-1.9 .8 9.4 .8-9.9 .8 4.8 .8-5 .8 3.9 .8 3.2 .8 3.6 .8-1.4 .8 6.1 .8-14 .8 21.8 .8-7.2 .8 .4 .8-6.1 .8 10.6 .8-8.3 .8 4.7 .8 2.2 .8 2.7 .8 .7 .8-6.5 .8-1.4 .8 14.5 .8-2.3 .8-.5 .8-.2 .8 .9 .8-12.2 .8 10.6 .8 5.4 .8-4.2 .8 3.7 .8-1.6 .8-4.5 .8-2 .8 3.2 .8 5.8 .8-14.1 .8 12.9 .8-15.2 .8 20.3 .8-11.4 .8 1.7 .8-3.2 .8 7.8 .8-8.4 .8 11.7 .8 5 .8-10.4 .8-3.4 .8 9.7 .8-6.8 .8 3.2 .8 4 .8 5.6 .8-10.4 .8 10.5 .8-.1 .8-2.4 .8 4.9 .8-2.5 .8-1.9 .8-8.1 .8-2 .8 13.6 .8 3.8 .8-8.6 .8 4.1 .8 10.3 .8-3.5 .8-13.3 .8 13.1 .8-4.7 .8 4.5 .8-1.9 .8-5.2 .8 16.1 .8-24.1 .8 8.2 .8 12 .8-6.5 .8 2.4 .8-6.6 .8 9.6 .8-7.8 .8-2.1 .8 .4 .8 12.5 .8-6 .8 4.5 .8-1.3 .8-2.7 .8-5 .8 8.2 .8 2.1 .8-9.1 .8 3.1 .8-1.1 .8-6.1 .8 13.1 .8 2 .8-3 .8 2.3 .8 .4 .8 6.2 .8-1.3 .8 1.5 .8-8.2 .8 7.6 .8-1.8 .8-4.8 .8 9.2 .8-10.4 .8 3.9 .8 12.5 .8-1.2 .8-12.6 .8 12.8 .8-.6 .8-1.3 .8-3.7 .8 5.4 .8 6.4 .8 6.8 .8-3.9 .8-8.1 .8 9.4 .8 8.4 .8-11.1 .8-4.8 .8 13.3 .8-8.1 .8 4.2 .8 2.2 .8-2.3 .8 1.4 .8 3.9 .8 .8 .8-1.9 .8 2.8 .8-2.1 .8-4.8 .8 13.2 .8-7.4 .8 1.2 .8 3.1 .8-6.1 .8-6.5 .8-1.7 .8 7 .8 7.8 .8-3.3 .8 1.2 .8-5.5 .8-5 .8 6.4 .8-8.3 .8 5.2 .8 7.5 .8-6.1 .8-4 .8 10.5 .8 .1 .8-1.5 .8-10.1 .8 13.7 .8-4.8 .8 4.8 .8 3.4 .8-2.8 .8 4.9 .8-2.6 .8-5.7 .8-.2 .8 13.6 .8 1.9 .8-12.7 .8 3.4 .8 1.3 .8 2.2 .8-12 .8 12.8 .8-2.9 .8 .6 .8-2.6 .8 10 .8-8.8 .8 11.8 .8-.6 .8-10.6 .8 8.5 .8 .8 .8-6.3 .8-9.5 .8 10.6 .8 3.7 .8 10.6 .8-4.8 .8-1.6 .8-3.5 .8 3.6 .8-9.4 .8 .1 .8-2.6 .8 .8 .8 5.1 .8 11.3 .8-18.2 .8 8.7 .8-1.7" fill="none" stroke="none" marker-start="url(#mk)" marker-mid="url(#mk)" marker-end="url(#mk)"/>
<path d="M223.5 3005l1-.7 1-.7 1-.8 1-.7 1-.7 1-.8 1-.7 1-.7 1-.8 1-.7 1-.8 1-.8 1-.7 1-.8 1-.8 1-.7 1-.8 1-.8 1-.8 1-.8 1-.8 1-.8 1-.8 1-.8 1-.8 1-.8 1-.8 1-.8 1-.9 1-.8 1-.8 1-.9 1-.8 1-.8 1-.9 1-.8 1-.9 1-.8 1-.9 1-.9 1-.8 1-.9 1-.9 1-.8 1-.9 1-.9 1-.9 1-.9 1-.9 1-.8 1-.9 1-1 1-.9 1-.9 1-.9 1-.9 1-1 1-.9 1-1 1-.9 1-1 1-.9 1-1 1-1 1-1 1-.9 1-1 1-1 1-1 1-1 1-1 1-1 1-1 1-1 1-1 1-1.1 1-1 1-1 1-1 1-1.1 1-1 1-1 1-1.1 1-1 1-1 1-1.1 1-1 1-1.1 1-1 1-1 1-1.1 1-1 1-1.1 1-1 1-1.1 1-1 1-1.1 1-1 1-1.1 1-1 1-1.1 1-1 1-1.1 1-1.1 1-1 1-1.1 1-1.1 1-1.1 1-1.1 1-1.1 1-1.1 1-1.1 1-1.1 1-1.1 1-1.1 1-1.1 1-1.1 1-1.2 1-1.1 1-1.1 1-1.1 1-1.1 1-1.2 1-1.1 1-1.1 1-1.1 1-1.2 1-1.1 1-1.1 1-1.1 1-1.1 1-1.2 1-1.1 1-1.1 1-1.1 1-1.1 1-1.1 1-1.1 1-1.1 1-1.1 1-1.1 1-1.1 1-1.1 1-1.1 1-1.1 1-1.1 1-1 1-1.1 1-1.1 1-1 1-1.1 1-1 1-1 1-1 1-.9 1-1 1-1 1-.9 1-1 1-1 1-1 1-1 1-1 1-1 1-1.1 1-1.1 1-1.1 1-1.1 1-1.2 1-1.2 1-1.3 1-1.3 1-1.4 1-1.3 1-1.4 1-1.5 1-1.4 1-1.5 1-1.5 1-1.4 1-1.5 1-1.5 1-1.4 1-1.5 1-1.5 1-1.5 1-1.5 1-1.5 1-1.6 1-1.6 1-1.6 1-1.7 1-1.7 1-1.7 1-1.8 1-1.8 1-1.8 1-1.9 1-1.9 1-2 1-2.1 1-2.2 1-2.2 1-2.4 1-2.5 1-2.6 1-2.8 1-2.8 1-3 1-3 1-3.2 1-3.3 1-3.5 1-3.7 1-3.7 1-3.8 1-3.9 1-3.9 1-4 1-4.2 1-4.5 1-4.7 1-4.9 1-5.5 1-6.4 1-8.1 1-9.1 1-8.9 1-8.4 1-8.5 1-9.1 1-9.7 1-10.4 1-11.6 1-12.1 1-11.2 1-10.6 1-8.8 1-7.9 1-6.5 1-4.7 1-3.7 1-2.9 1-1.8 1-1.2 1-.9 1-.6 1-.1 1 .5 1 .9 1 1.1 1 1.1 1 1 1 .8 1 .6 1 .7 1 .6 1 .7 1 .9 1 .9 1 1.2 1 1.5 1 2.1 1 3.4 1 9.8 1 11.7 1 13.1 1 11.4 1 10.1 1 9.4 1 9.2 1 8.7 1 7.7 1 6.8 1 6.2 1 5.5 1 4.9 1 4.5 1 4.1 1 3.5 1 2.9 1 2.6 1 2.4 1 2 1 1.6 1 1.2 1 1 1 1 1 .9 1 .8 1 .6 1 .5 1 .2 1 .1 1 0 1 0 1 0 1 0 1 0 1 0 1 0 1 0 1-.1 1-.2 1-.4 1-.5 1-.6 1-.6 1-.8 1-.8 1-.8 1-.9 1-.8 1-.9 1-.8 1-.7 1-.8 1-.7 1-.8 1-.7 1-.7 1-.8 1-.8 1-.8 1-.9 1-.8 1-1 1-.9 1-1.1 1-1 1-1.2 1-1.2 1-1.3 1-1.4 1-1.6 1-1.7 1-1.9 1-2 1-2.2 1-2.3 1-2.4 1-2.5 1-2.6 1-2.7 1-2.9 1-3.2 1-3.6 1-4 1-4.1 1-4.3 1-4.3 1-4.3 1-4.2 1-4 1-4.1 1-4.1 1-4.2 1-4.1 1-4 1-4 1-3.8 1-3.6 1-3.6 1-3.5 1-3.5 1-3.4 1-3.2 1-3.1 1-2.9 1-2.7 1-2.5 1-2.6 1-2.7 1-2.5 1-2.3 1-1.8 1-1.2 1-.4 1 .3 1 1 1 1.4 1 1.7 1 2 1 2.2 1 2.1 1 2.1 1 2.7 1 3.3 1 3.7 1 3.8 1 3.7 1 3.2 1 2.7 1 1.8 1 .6 1-.5 1-1.4 1-1.9 1-2.4 1-2.5 1-2.5 1-2.1 1-1.6 1-1.6 1-1.6 1-1.6 1-1.5 1-1.4 1-1 1-.8 1-.3 1 .2 1 .7 1 1.2 1 1.5 1 1.7 1 1.8 1 1.9 1 1.8 1 1.6 1 1.7 1 1.8 1 2 1 2 1 2.1 1 2 1 1.9 1 1.8 1 1.7 1 1.4 1 1.1 1 .8 1 .8 1 .7 1 .7 1 .6 1 .6 1 .5 1 .4 1 .3 1 .1 1 .1 1 0 1-.2 1-.1 1-.3 1-.3 1-.3 1-.4 1-.4 1-.5 1-.4 1-.5 1-.5 1-.5 1-.5 1-.4 1-.6 1-.5 1-.6 1-.6 1-.7 1-.6 1-.7 1-.8 1-.8 1-.8 1-.8 1-.9 1-.9 1-.9 1-.9 1-1 1-1 1-1 1-1.1 1-1 1-1.1 1-1.1 1-1.2 1-1.2 1-1.3 1-1.3 1-1.4 1-1.5 1-1.6 1-1.6 1-1.7 1-1.8 1-1.8 1-1.9 1-2 1-2.1 1-2.1 1-2.3 1-2.7 1-3.1 1-3.4 1-3.7 1-3.8 1-3.8 1-3.8 1-3.6 1-3.3 1-3 1-2.6 1-2 1-1.7 1-1.7 1-1.7 1-1.7 1-1.6 1-1.5 1-1.5 1-1.4 1-1.3 1-1.2 1-1.1 1-1 1-.8 1-.7 1-.5 1-.4 1-.2 1 0 1 .4 1 .7 1 1 1 1.3 1 1.4 1 1.6 1 1.7 1 1.7 1 1.8 1 1.8 1 1.7 1 1.6 1 1.5 1 1.3 1 1 1 1.1 1 1.1 1 1.1 1 1.2 1 1.1 1 1 1 1.1 1 .9 1 .9 1 .8 1 .6 1 .5 1 .4 1 .2 1 0 1 0 1-.1 1 0 1-.1 1-.1 1-.2 1-.1 1-.2 1-.2 1-.2 1-.2 1-.2 1-.2 1-.3 1-.2 1-.3 1-.2 1-.3 1-.3 1-.3 1-.3 1-.3 1-.3 1-.3 1-.3 1-.3 1-.3 1-.4 1-.4 1-.5 1-.5 1-.4 1-.6 1-.5 1-.6 1-.5 1-.6 1-.6 1-.7 1-.6 1-.7 1-.6 1-.7 1-.7 1-.6 1-.7 1-.7 1-.7 1-.7 1-.7 1-.7 1-.6 1-.7 1-.7 1-.6 1-.7 1-.6 1-.7 1-.7 1-.6 1-.7 1-.6 1-.7 1-.7 1-.7 1-.6 1-.7 1-.7 1-.8 1-.7 1-.7 1-.8 1-.7 1-.8 1-.8 1-.8 1-.8 1-.8 1-.8 1-.9 1-.9 1-.9 1-.9 1-.9 1-1 1-1.1 1-1.2 1-1.4 1-1.4 1-1.5 1-1.6 1-1.7 1-1.7 1-1.7 1-1.7 1-1.7 1-1.7 1-1.7 1-1.6 1-1.6 1-1.4 1-1.4 1-1.3 1-1.1 1-1.1 1-.8 1-.7 1-.5 1-.3 1-.1 1-.1 1-.1 1-.1 1 0 1 0 1-.1 1 0 1-.1 1 0 1-.1 1-.1 1-.1 1-.1 1-.2 1-.2 1-.2 1-.3 1-.3 1-.3 1-.4 1-.3 1-.4 1-.4 1-.5 1-.4 1-.5 1-.6 1-.6 1-.7 1-.8 1-.8 1-.8 1-.9 1-.9 1-.9 1-1 1-.9 1-1 1-1 1-1 1-1 1-1.1 1-1.2 1-1.1 1-1.2 1-1.3 1-1.2 1-1.3 1-1.3 1-1.4 1-1.3 1-1.4 1-1.5 1-1.4 1-1.5 1-1.5 1-1.6 1-1.7 1-1.7 1-1.8 1-1.8 1-2 1-2.1 1-2.2 1-2.4 1-2.6 1-2.6 1-2.6 1-2.8 1-2.7 1-2.8 1-2.8 1-2.8 1-3 1-3 1-3.2 1-3.3 1-3.3 1-3.7 1-3.8 1-4 1-4.1 1-4.2 1-4.1 1-4 1-4 1-4 1-4.1 1-4 1-4 1-4 1-3.9 1-3.9 1-3.8 1-3.9 1-3.9 1-4.1 1-4.3 1-4.6 1-4.7 1-5 1-5.2 1-5.6 1-6 1-6.6 1-6.9 1-6.9 1-6.7 1-6.9 1-6.8 1-6.2 1-5.8 1-5.6 1-5.1 1-4 1-3.2 1-3 1-2.7 1-2.1 1-1.3 1-.5 1-.3 1-.3 1-.2 1-.2 1-.1 1 0 1 .1 1 .4 1 .5 1 .4 1 .1 1-.4 1-.9 1-1.2 1-1.4 1-1.3 1-1 1-.9 1-.9 1-.8 1-.8 1-.5 1-.3 1 .1 1 .6 1 .8 1 1.1 1 1.2 1 1.3 1 1.6 1 2.2 1 2.5 1 2.6 1 2.3 1 1.8 1 1.9 1 1.8 1 1.3 1 .5 1-.6 1-1.5 1-2.3 1-2.8 1-3.1 1-3.2 1-4.4 1-5.7 1-6.2 1-5.9 1-4.6 1-3.6 1-3.6 1-3.4 1-2.9 1-2.2 1-1.4 1-.3 1 .6 1 1.2 1 1.5 1 1.7 1 1.7 1 2.1 1 2.7 1 2.4 1 1.6 1 .1 1-.9 1-1.5 1-2 1-2.4 1-2.6 1-2.9 1-4.2 1-5.1 1-5.3 1-4.8 1-3.7 1-3.7 1-3.8 1-3.4 1-3 1-2 1-1 1 .4 1 1.6 1 2.6 1 3.2 1 3.7 1 4.6 1 7.2 1 8.8 1 9 1 8.4 1 8.7 1 8.7 1 8.2 1 7.2 1 6.9 1 6.6 1 6.1 1 5.6 1 5.2 1 5.3 1 5 1 4.5 1 3.3 1 1.9 1 1.1 1 1 1 .8 1 .5 1 .2 1-.4 1-1.1 1-1.6 1-1.8 1-1.9 1-1.7 1-1.3 1-1.2 1-1 1-1 1-1 1-1 1-1 1-1.2 1-1.4 1-1.6 1-1.9 1-2.7 1-3.9 1-4.8 1-5.4 1-5.4 1-5.4 1-5.9 1-6.3 1-6.6 1-6.7 1-7 1-7.9 1-8.6 1-8.8 1-8.7 1-8 1-6.8 1-5.4 1-3.8 1-3.5 1-3.2 1-2.8 1-2.2 1-1.4 1-.4 1 1 1 2.3 1 3.4 1 4.1 1 4.6 1 4.6 1 4.7 1 5.5 1 6.3 1 6.8 1 7 1 6.9 1 7.6 1 8 1 8 1 7.4 1 6.2 1 5.2 1 4.9 1 4.4 1 4.2 1 3.9 1 3.7 1 3.6 1 3.5 1 3.5 1 3.4 1 3.3 1 3 1 2.7 1 2.3 1 1.9 1 1.9 1 1.9 1 1.7 1 1.5 1 1.2 1 .8 1 .4 1-.2 1-.6 1-1.1 1-1.4 1-1.6 1-1.8 1-1.9 1-1.9 1-1.9 1-1.8 1-2 1-2.1 1-2.4 1-2.4 1-2.4 1-2.5 1-2.4 1-2.3 1-2.2 1-2 1-1.8 1-1.7 1-1.6 1-1.6 1-1.5 1-1.4 1-1.6 1-1.5 1-1.7 1-1.7 1-2 1-2.1 1-2.4 1-2.7 1-2.9 1-3 1-3.1 1-3.1 1-3 1-2.9 1-2.7 1-2.8 1-3.1 1-2.9 1-2.5 1-1.7 1-.4 1 .9 1 1.8 1 2.5 1 3 1 3.2 1 3.3 1 4.1 1 5 1 5.4 1 5.7 1 5.6 1 5.1 1 4.6 1 4.5 1 4.5 1 4.4 1 4.2 1 4 1 3.7 1 3.4 1 3.2 1 3.1 1 3 1 2.7 1 2.4 1 2 1 1.6 1 1.4 1 1.3 1 1.2 1 1 1 .7 1 .3 1-.2 1-.6 1-1 1-1.3 1-1.6 1-1.8 1-1.9 1-2 1-2.4 1-3.3 1-3.8 1-4.3 1-4.7 1-4.9 1-5 1-4.9 1-5.2 1-5.6 1-5.9 1-6.1 1-6.2 1-6.1 1-5.8 1-5.6 1-5.5 1-5.6 1-5.5 1-5.4 1-5 1-4.8 1-4.2 1-3.6 1-3.8 1-3.7 1-3.5 1-3 1-2.4 1-1.5 1-.4 1 .7 1 1.4 1 2 1 2.5 1 2.9 1 3 1 3 1 3.3 1 4 1 4.6 1 4.9 1 5.2 1 5.3 1 5.2 1 5 1 4.9 1 5.1 1 5.1 1 5.1 1 5.1 1 5 1 4.8 1 4.6 1 5.1 1 5.1 1 4.6 1 3.1 1 1.3 1 .8 1 .6 1 .5 1 .4 1 .3 1 .3 1 .4 1 .4 1 .5 1 .6 1 .8 1 1 1 1 1 1.1 1 1.2 1 1.1 1 1.1 1 1 1 .9 1 .7 1 .5 1 .3 1 .2 1 .1 1 .2 1 .1 1 .1 1 .1 1 .1 1 .1 1 .1 1 .1 1 .1 1 0 1 .1 1 0 1 .1 1 0 1 0 1 0 1 0 1 0 1 0 1 0 1-.1 1 0 1 0 1-.1 1 0 1-.1 1 0 1-.1 1 0 1-.1 1-.1 1-.1 1 0 1-.1 1-.1 1-.1 1-.1 1-.1 1-.1 1-.1 1-.2 1-.2 1-.4 1-.5 1-.6 1-.6 1-.8 1-.8 1-.8 1-1 1-.9 1-.9 1-1 1-1 1-.9 1-1 1-1.1 1-1.3 1-1.5 1-1.6 1-1.7 1-1.7 1-1.7 1-1.8 1-1.6 1-1.6 1-1.5 1-1.4 1-1.2 1-.9 1-.8 1-.4 1-.2 1 .2 1 .4 1 .8 1 1 1 1.2 1 1.3 1 1.6 1 1.6 1 1.7 1 1.7 1 1.8 1 1.7 1 1.6 1 1.6 1 1.5 1 1.2 1 1.1 1 .9 1 .9 1 .8 1 .8 1 .7 1 .7 1 .7 1 .7 1 .6 1 .7 1 .6 1 .5 1 .6 1 .5 1 .5 1 .6 1 .5 1 .5 1 .6 1 .5 1 .5 1 .5 1 .4 1 .4 1 .3 1 .3 1 .1 1 .1 1-.1 1-.4 1-.5 1-.7 1-.9 1-1 1-1.1 1-1.2 1-1.3 1-1.2 1-1.3 1-1.3 1-1.2 1-1.1 1-1.1 1-.9 1-.8 1-.7 1-.4 1-.3 1 0 1 0 1 0 1 0 1 0 1 0 1 0 1 0 1 0 1 0 1 0 1 0 1 0 1 0 1 0 1 0 1 0 1 0 1-.1 1-.4 1-.5 1-.7 1-.9 1-1 1-1.2 1-1.2 1-1.3 1-1.3 1-1.3 1-1.3 1-1.4 1-1.2 1-1.2 1-1.1 1-1 1-.8 1-.9 1-.9 1-1 1-.9 1-1 1-.9 1-1 1-.9 1-.8 1-.8 1-.7 1-.7 1-.5 1-.5 1-.3 1-.2 1-.1 1 0 1 0 1 .1 1 .1 1 0 1 .1 1 .1 1 .1 1 .1 1 .1 1 .2 1 .1 1 .1 1 .1 1 .1 1 0 1 .1 1 .1 1 0 1 0 1-.1 1-.3 1-.4 1-.6 1-.7 1-.8 1-.8 1-1 1-1 1-1.1 1-1 1-1.1 1-1.1 1-1 1-.9 1-.9 1-.8 1-.7 1-.7 1-.6 1-.5 1-.6 1-.5 1-.4 1-.5 1-.5 1-.4 1-.5 1-.5 1-.6 1-.6 1-.6 1-.7 1-.7 1-.9 1-.9 1-1 1-1.1 1-1.7 1-2.2 1-2.6 1-3 1-3.2 1-3.5 1-3.6 1-3.6 1-3.6 1-3.5 1-3.3 1-3.1 1-3 1-3 1-3.2 1-3.2 1-3.1 1-3.1 1-3.1 1-2.9 1-2.7 1-2.5 1-2.3 1-2 1-1.7 1-1.6 1-1.5 1-1.3 1-1.3 1-1.2 1-1.2 1-1.1 1-1 1-1 1-1 1-1 1-1 1-1 1-1.1 1-1.1 1-1.1 1-1.1 1-1.1 1-1.1 1-1 1-.9 1-.9 1-.7 1-.6 1-.4 1-.3 1-.1 1 .2 1 .5 1 .8 1 1.1 1 1.3 1 1.4 1 1.6 1 1.6 1 1.6 1 1.6 1 1.5 1 1.4 1 1.2 1 1 1 .7 1 .6 1 .6 1 .5 1 .6 1 .5 1 .5 1 .5 1 .5 1 .5 1 .4 1 .4 1 .4 1 .3 1 .3 1 .3 1 .2 1 .2 1 .1 1 .1 1 0 1-.1 1-.2 1-.3 1-.4 1-.5 1-.7 1-.7 1-.7 1-.9 1-.8 1-.9 1-1 1-1 1-.9 1-1 1-1 1-.9 1-1 1-1 1-1 1-1.2 1-1.2 1-1.2 1-1.3 1-1.3 1-1.4 1-1.4 1-1.4 1-1.4 1-1.4 1-1.4 1-1.4 1-1.3 1-1.4 1-1.3 1-1.4 1-1.6 1-1.7 1-1.7 1-1.7 1-1.7 1-1.5 1-1.3 1-1.1 1-.8 1-.4 1 0 1 .4 1 .9 1 1.3 1 1.6 1 1.7 1 2 1 2.1 1 2.2 1 2.1 1 2.1 1 2 1 2.4 1 2.6 1 2.9 1 3 1 3.1 1 3.1 1 3 1 2.9 1 2.6 1 2.4 1 2 1 1.5 1 1.2 1 1.1 1 .9 1 .9 1 .8 1 .7 1 .6 1 .7 1 .6 1 .7 1 .7 1 .8 1 .8 1 1 1 1 1 1.2 1 1.4 1 1.5 1 1.7 1 1.8 1 1.9 1 1.9 1 2 1 2 1 2 1 2 1 1.9 1 1.9 1 1.7 1 1.7 1 1.5 1 1.3 1 1.2 1 1.1 1 1.2 1 1.2 1 1.2 1 1.2 1 1.1 1 1.1 1 1 1 1 1 .9 1 .9 1 .7 1 .6 1 .5 1 .4 1 .2 1 .1 1-.1 1-.2 1-.3 1-.5 1-.6 1-.7 1-.7 1-.8 1-.9 1-.9 1-.9 1-1 1-.9 1-1 1-.9 1-.9 1-.8 1-.8 1-.9 1-1 1-1 1-1.1 1-1.1 1-1.1 1-1.1 1-1 1-1 1-.8 1-.8 1-.5 1-.5 1-.2 1 0 1 .1 1 0 1 .2 1 .1 1 .2 1 .2 1 .3 1 .2 1 .3 1 .3 1 .3 1 .3 1 .3 1 .3 1 .3 1 .3 1 .2 1 .3 1 .2 1 .2 1 .1 1 .2 1 0 1 .1 1 0 1 0 1 0 1 0 1 0 1 0 1 0 1 0 1 0 1 0 1 0 1 0 1 0 1 0 1 0 1 0 1 0 1 0 1-.1 1-.3 1-.4 1-.6 1-.7 1-.9 1-.9 1-1 1-1.1 1-1.1 1-1.1 1-1.2 1-1.1 1-1.1 1-1.1 1-1 1-.9 1-.8 1-.9 1-.8 1-.9 1-.8 1-.9 1-.8 1-.8 1-.8 1-.8 1-.7 1-.7 1-.7 1-.7 1-.7 1-.7 1-.3 1-.1 1 .3 1 .4 1 .6 1 .6 1 .6 1 .5 1 .4 1 .1 1-.1 1-.5 1-.6 1-.9 1-1 1-1.1 1-1.3 1-1.3 1-1.4 1-1.3 1-1.4 1-1.2 1-1.3 1-1.3 1-1.3 1-1.5 1-1.4 1-1.5 1-1.6 1-1.6 1-1.7 1-1.8 1-1.9 1-1.9 1-2 1-2 1-2.3 1-2.5 1-2.6 1-2.8 1-2.9 1-3 1-3.1 1-3.1 1-3.2 1-3.1 1-3.1 1-3.2 1-3.1 1-3.3 1-3.3 1-3.4 1-3.4 1-3.4 1-3.5 1-3.4 1-3.4 1-3.3 1-3.5 1-3.8 1-3.8 1-3.8 1-3.8 1-3.6 1-3.3 1-3 1-2.5 1-2 1-1.7 1-1.7 1-1.6 1-1.6 1-1.5 1-1.3 1-1.2 1-1.1 1-.8 1-.6 1-.4 1-.1 1 .2 1 .3 1 .6 1 .8 1 .9 1 1 1 1.1 1 1.1 1 1.2 1 1.1 1 1.1 1 1 1 1 1 1.2 1 1.1 1 1.3 1 1.2 1 1.3 1 1.2 1 1.2 1 1.2 1 1.1 1 1 1 1 1 .8 1 .8 1 .8 1 .7 1 .7 1 .7 1 .6 1 .7 1 .7 1 .7 1 .7 1 .8 1 .9 1 .9 1 1 1 1.1 1 1.3 1 1.3 1 1.3 1 1.4 1 1.4 1 1.4 1 1.3 1 1.3 1 1.2 1 1.1 1 1 1 .8 1 .6 1 .5 1 .3 1 .2 1 .2 1 .1 1 .2 1 .1 1 .1 1 .1 1 .1 1 .1 1 .1 1 .2 1 .1 1 .1 1 .2 1 .2 1 .2 1 .3 1 .3 1 .4 1 .5 1 .6 1 .6 1 .7 1 .7 1 .8 1 .8 1 .8 1 .9 1 .9 1 1 1 1.2 1 1.3 1 1.5 1 1.5 1 1.6 1 1.7 1 1.7 1 1.7 1 1.8 1 1.7 1 1.7 1 1.6 1 1.6 1 1.5 1 1.4 1 1.3 1 1.3 1 1.4 1 1.3 1 1.4 1 1.3 1 1.3 1 1.3 1 1.1 1 1.1 1 .9 1 .9 1 .7 1 .5 1 .4 1 .5 1 .4 1 .4 1 .3 1 .4 1 .3 1 .2 1 .2 1 .2 1 .1 1 0 1-.1 1-.2 1-.3 1-.4 1-.5 1-.6 1-.6 1-.7 1-.7 1-.6 1-.7 1-.6 1-.5 1-.5 1-.5 1-.5 1-.6 1-.6 1-.5 1-.6 1-.5 1-.4 1-.3 1-.3 1-.1 1 0 1 .2 1 .4 1 .5 1 .6 1 .7 1 .7 1 .8 1 .8 1 .7 1 .6 1 .6 1 .4 1 .4 1 .4 1 .4 1 .4 1 .3 1 .3 1 .3 1 .3 1 .3" fill="none" stroke="#000" stroke-width="7" stroke-linejoin="round" stroke-linecap="round"/>
<path d="M223.5 3180.9l.4 .2 .4 0 .4-.5 .4 2.1 .4-4.3 .4 3.1 .4 1.6 .4-1.6 .4 1 .4 2.2 .4-1.8 .4-1 .4 .9 .4 1.8 .4-2.3 .4 2.2 .4-.6 .4 1.1 .4 1.4 .4 .2 .4-1 .4 .5 .4 1.2 .4-2.6 .4 1.9 .4-2.1 .4 4.5 .4-1.8 .4-2.3 .4 1.6 .4 2.4 .4-.6 .4-3.3 .4 6.4 .4-2.6 .4 .5 .4-1 .4-.7 .4-1.1 .4 3.2 .4-.1 .4-.2 .4 2 .4-.6 .4-2.2 .4 1.3 .4 2.9 .4-4.3 .4 6.5 .4-4.7 .4 5.8 .4-3.6 .4-3.5 .4 3.8 .4-.5 .4-.7 .4 1 .4 .1 .4-4.6 .4 6.1 .4-1.7 .4 .7 .4 1.4 .4-1.2 .4-2.1 .4 3.9 .4-2 .4 1.1 .4-1.6 .4 1.1 .4-1.4 .4 4.7 .4-4.6 .4 3.7 .4-5.1 .4 3.9 .4-.9 .4 2.4 .4-1.3 .4 3.7 .4 .8 .4-5.8 .4 2.3 .4-3 .4 0 .4 1.6 .4 1.8 .4-.5 .4-1.5 .4 2.4 .4-4.2 .4 .5 .4 1.5 .4-3.2 .4 5.7 .4-2.7 .4-.4 .4 1.4 .4-3.2 .4 2.2 .4-2.9 .4 2.7 .4 .5 .4 2.7 .4-2.9 .4 2.4 .4-2.5 .4-3 .4 4.3 .4-1.3 .4-1.2 .4 2.7 .4-3.7 .4 1.2 .4 1.9 .4 .2 .4-2.8 .4 1.7 .4-.4 .4 .9 .4-1.6 .4-3.5 .4 3.1 .4 3.4 .4-4.4 .4 1.2 .4 1.8 .4-2 .4-1.6 .4 1.8 .4-.3 .4-1.3 .4 1.2 .4-2.3 .4-.4 .4 .7 .4 1.7 .4 .3 .4-1.2 .4 3 .4-.9 .4-1.1 .4 1.9 .4 .6 .4-1.5 .4-2.4 .4 2.6 .4 .5 .4-1.5 .4-1 .4 .6 .4 .1 .4-4.1 .4 6.3 .4-2.9 .4 3.5 .4-3.6 .4-1.7 .4 2.9 .4-1.4 .4 1.4 .4-2.5 .4-.1 .4-.5 .4 0 .4 2 .4-3.2 .4 2.6 .4 1.6 .4-3.8 .4 1.2 .4-1 .4 .6 .4 .9 .4 1 .4 .3 .4-2.9 .4 2.4 .4-2.4 .4-1.1 .4 .3 .4-1.8 .4 3.6 .4-3.5 .4 3.7 .4 4.4 .4-6.6 .4-2.2 .4 4.5 .4-2.6 .4 1.8 .4 0 .4 .4 .4 3.8 .4-3.7 .4-.1 .4-.7 .4-1.2 .4 .1 .4-.8 .4 3.6 .4-2 .4 1.5 .4-.6 .4 3.5 .4-4.4 .4 1.3 .4-2.3 .4 3.3 .4-2.6 .4 .4 .4-2.6 .4 3.5 .4 2.1 .4-.6 .4-4.6 .4 3.6 .4-3 .4-1.7 .4 .7 .4 4.6 .4-2.9 .4-1.8 .4 2.9 .4 0 .4-1.3 .4 1.5 .4-1.7 .4 3 .4-.9 .4-1.6 .4 .8 .4 1 .4-2 .4 1.2 .4-1.3 .4-.4 .4-3 .4 1.2 .4 .4 .4 1.9 .4 4.7 .4-6.6 .4 .9 .4-1.6 .4 1.6 .4 .3 .4 1.7 .4-4 .4 3.5 .4-.5 .4-1 .4-1.8 .4 .3 .4 1.6 .4 1.4 .4-1.3 .4-1.3 .4 1.9 .4-2.5 .4 3.4 .4 3.4 .4-6 .4 3 .4-3.8 .4 2 .4 .8 .4 1.3 .4-2.3 .4 2.5 .4-5 .4 2 .4 .3 .4 .2 .4-.5 .4 3.8 .4-4.3 .4 2.6 .4-1.1 .4 3.1 .4-4.4 .4 1.8 .4-.3 .4-6.1 .4 5.7 .4 1.2 .4 .9 .4-4.9 .4 1.6 .4 2.7 .4-4.5 .4 .5 .4 2.7 .4 .1 .4 1.3 .4-.5 .4-1.7 .4-2.5 .4 .8 .4 1.2 .4 .7 .4-.7 .4 1.4 .4-3 .4 .6 .4-1.7 .4 6.3 .4-4.1 .4 2.1 .4 .5 .4-1.7 .4-1.1 .4-.6 .4 .4 .4-2.8 .4 2.2 .4 2.5 .4-.9 .4 1 .4-.1 .4-.2 .4-1.2 .4 .1 .4 1.4 .4-2.5 .4-1.9 .4 4.1 .4-1.5 .4 1.9 .4-3.3 .4-2 .4 2.8 .4-.9 .4-.6 .4 4.7 .4-2.4 .4-2.8 .4-.9 .4 2.9 .4 1.3 .4-.7 .4 1.7 .4-1.6 .4 .2 .4-4.6 .4 6.1 .4-3.5 .4 2.8 .4-4.8 .4 1.2 .4 4 .4-4.7 .4 2.7 .4-1.1 .4 4.1 .4-2.7 .4 1.8 .4-2.6 .4-3.2 .4 7.1 .4-5 .4 1.1 .4-.2 .4-2.9 .4 4.3 .4-2.1 .4-2.7 .4 .5 .4-1.6 .4 2.9 .4 1.1 .4-1.5 .4 1.7 .4-.7 .4 1.7 .4-1 .4-.4 .4-1.3 .4-.7 .4 .5 .4 2.4 .4-1.7 .4 3.8 .4-1.3 .4-4.3 .4 3.5 .4 1.5 .4-3.7 .4 3.7 .4-3.9 .4 4.5 .4-2.1 .4-1.5 .4-2.8 .4 3 .4-1.3 .4 2.2 .4-2.5 .4 2.6 .4-1.9 .4 2.1 .4 .4 .4-1.3 .4 .6 .4 1.2 .4-4 .4 2.9 .4-.7 .4 2.6 .4-3.4 .4 2.2 .4-5.3 .4 5.8 .4-1.7 .4-.1 .4 1 .4-4.2 .4 1.9 .4 .6 .4-.8 .4-.4 .4 2.8 .4-1.8 .4-.6 .4 .6 .4 2.4 .4 1.1 .4-1.6 .4-1.1 .4-3.7 .4 1.5 .4-.7 .4-.1 .4 4.2 .4-3.6 .4 3.9 .4-2.5 .4-.5 .4-.2 .4-2.4 .4 1.9 .4 2.5 .4-.4 .4-1.1 .4 1 .4-1 .4 .4 .4 3.9 .4-4.4 .4-3.7 .4-.8 .4 2.7 .4 1.8 .4 1.4 .4-2 .4 .3 .4 .9 .4-3.1 .4 1.8 .4 .7 .4-1.5 .4-.9 .4 2.6 .4 1.1 .4-2 .4-4.8 .4 3 .4 .7 .4 1.6 .4-1.8 .4 0 .4 2.8 .4 .5 .4-2.4 .4-2.3 .4-.3 .4 3.6 .4-2.8 .4 1.4 .4-.4 .4 .7 .4 .3 .4-2.7 .4 .7 .4 1.6 .4-.4 .4-2.7 .4 6.3 .4-6.5 .4 4.7 .4-5.2 .4 5 .4-5.4 .4 5.2 .4-1.5 .4 1.2 .4-3 .4 1.9 .4-.1 .4-.2 .4-1.4 .4 3.7 .4-6.2 .4 .5 .4 .1 .4 5.6 .4-4.6 .4 .3 .4 0 .4 .8 .4 0 .4-.4 .4-2.1 .4 3.8 .4-.9 .4 3 .4-2.2 .4-1 .4-2.7 .4 3 .4 .9 .4 2.1 .4-2.5 .4 .8 .4-.4 .4 2 .4-1 .4-2.2 .4-3 .4 6.1 .4-3.1 .4-1.8 .4-1.3 .4-.6 .4 4 .4-.9 .4 .9 .4 1.8 .4-3.6 .4 1.7 .4-1.6 .4-.7 .4-2.7 .4 2.8 .4 3.7 .4-3.2 .4 1.7 .4-.4 .4 3.8 .4-1.2 .4-4.2 .4 .5 .4 3.1 .4-1.8 .4-.3 .4 2.2 .4-1.2 .4-.9 .4 4.8 .4-4.2 .4-3.5 .4 3.3 .4 0 .4 2.9 .4-2.5 .4-1.7 .4 2.3 .4-2.9 .4 2.1 .4 1.8 .4-2 .4-1.9 .4 2.4 .4 1 .4 3.3 .4-1.6 .4 1.4 .4-1.1 .4 2.6 .4-.8 .4 3 .4 0 .4 3 .4-1.1 .4-1.2 .4-.4 .4 2.7 .4 1.7 .4 2.2 .4-3.6 .4-1 .4-.5 .4 2.2 .4 2.1 .4 .2 .4 .4 .4 .9 .4 1.1 .4-3.7 .4 3.7 .4-.2 .4 .2 .4-.4 .4-2.8 .4 4.7 .4-2 .4 .5 .4 .4 .4-1.1 .4 0 .4-.8 .4-3.6 .4-1.4 .4 2.8 .4-4.3 .4 4.7 .4-7.7 .4 1.3 .4-1.7 .4-.5 .4-3.5 .4 1.5 .4 2.3 .4-6 .4-4.2 .4 5 .4-1 .4 .1 .4-3.3 .4 2.4 .4 1.1 .4-2.4 .4 1.8 .4 1.8 .4 1.5 .4-.7 .4 2.2 .4 5 .4 1.6 .4-4.6 .4 8.1 .4-3.6 .4 4.4 .4-3.1 .4 3.5 .4 .3 .4 4 .4-.3 .4 1.2 .4 .4 .4-.2 .4 1.4 .4-1.7 .4-.7 .4-1.5 .4-1.1 .4 .2 .4 1.1 .4 .5 .4-3.1 .4 3.3 .4-2.5 .4-3.4 .4-.5 .4-1.8 .4-4.8 .4 4.2 .4-2.4 .4-5 .4 4 .4-4.1 .4-.5 .4-4.1 .4 2.3 .4-.1 .4-2.8 .4-.1 .4-4.7 .4 4.1 .4-1.9 .4-.6 .4 .9 .4 .2 .4-2.6 .4 1.8 .4 1.8 .4-6 .4 2.5 .4-3.5 .4 4 .4 2.2 .4-3 .4-2 .4 1.3 .4 2 .4-3.8 .4 .3 .4 4 .4-3.7 .4 3.1 .4-2.2 .4-1 .4 5.2 .4 .8 .4-3.8 .4 6.6 .4-4.3 .4 .9 .4-.5 .4-2.5 .4 4.6 .4-1.6 .4 .9 .4-.6 .4-.9 .4 5.9 .4-3.8 .4-1.2 .4 2.1 .4-3.8 .4 3.5 .4 5.1 .4-7 .4 2.6 .4-3.3 .4 2.7 .4 2.5 .4-4.4 .4 .4 .4 4.6 .4-1.7 .4 1 .4-.1 .4-3.6 .4-.7 .4-.2 .4 5.3 .4-3.9 .4-.6 .4 2.8 .4 1.1 .4 1.1 .4-4.3 .4 7 .4-4.7 .4 2.6 .4-.2 .4-1.8 .4 3.2 .4 .1 .4 1.9 .4 2 .4 .7 .4-2.4 .4-.3 .4-2.1 .4-2.2 .4 4.4 .4-2 .4 .9 .4-.3 .4 2.2 .4-1.6 .4 6.3 .4-3.1 .4-2.8 .4 2.1 .4 2.5 .4-5.5 .4 3.2 .4-1.4 .4 1.5 .4-1.1 .4 1.7 .4 .7 .4 .6 .4-4.6 .4 5 .4-1.3 .4-1.3 .4 1.4 .4 3.8 .4-3.8 .4-1.4 .4 3.6 .4-1.9 .4 2.2 .4-.8 .4 2.6 .4-4.3 .4 .6 .4 3.4 .4 1.5 .4-3.2 .4 2.3 .4-1.5 .4-.9 .4-3.7 .4 8.6 .4-2 .4-7.7 .4 7.1 .4-3.1 .4-.8 .4 1.1 .4 3 .4-1.7 .4-.2 .4 .2 .4-.4 .4 2.2 .4-5.8 .4 1.8 .4 2.7 .4-2.2 .4 3.2 .4-1.1 .4 1.8 .4-1.1 .4 1.9 .4-1.3 .4 1.8 .4-2.3 .4-3.1 .4 4.2 .4 .1 .4-1 .4 3.6 .4-1 .4 2.5 .4-4.2 .4 .1 .4 2.2 .4 2.4 .4-4.9 .4 3 .4-1.1 .4-.5 .4 3 .4 .1 .4-.2 .4-2.9 .4 1.6 .4-3.6 .4 5.3 .4-4.1 .4 2.6 .4 2.8 .4-2.3 .4 1.2 .4-1.7 .4 7.8 .4-8.4 .4 1.9 .4 1.4 .4 6.7 .4-6.7 .4 1.9 .4 2.3 .4-6.3 .4 7.6 .4-.7 .4 3.2 .4 .7 .4-1.9 .4 2 .4-3.6 .4-.6 .4 2.7 .4 1.6 .4-.7 .4 2.3 .4 .9 .4 3.1 .4-4 .4-.3 .4 2.6 .4-.2 .4 1.2 .4 3 .4-5.7 .4 3.9 .4 1.6 .4 0 .4-6.5 .4 2.8 .4 3.8 .4-3.4 .4 .5 .4-2.1 .4 2.3 .4-3.7 .4-2.6 .4-.7 .4 1.4 .4-4.2 .4-6.9 .4-3.2 .4 4.3 .4-8 .4 1.9 .4-4.5 .4-.3 .4-4.9 .4-6.6 .4 6.4 .4-6.1 .4-3 .4 1.6 .4-4.6 .4-1.6 .4-5.6 .4-1.5 .4-1.5 .4-4.8 .4 1.4 .4-2.9 .4-3.6 .4-1.8 .4 1.6 .4-3.8 .4 .3 .4-1.2 .4-1.9 .4-6.3 .4 7 .4 1.3 .4-3 .4 .8 .4 5.1 .4-3.4 .4 7.8 .4 .6 .4 4.5 .4-.8 .4 3.3 .4 3.5 .4-1.2 .4 5 .4 8.3 .4-.8 .4 2.8 .4 6.8 .4 6.1 .4 0 .4 2.9 .4 4 .4 4.3 .4-1.8 .4 7.7 .4 2.8 .4 4.1 .4 2.3 .4 .9 .4 4.9 .4-3.6 .4 .7 .4 4.8 .4-3.6 .4-1.9 .4-.2 .4 .9 .4-3.9 .4 5.1 .4-2.5 .4 1.5 .4-6.8 .4 .5 .4-1.9 .4 1.5 .4-1.7 .4-.6 .4-1.6 .4-6 .4 1.7 .4-2.1 .4-1.9 .4-.4 .4-7.6 .4 1.3 .4-.7 .4-3.1 .4-2.4 .4 3.6 .4-1.7 .4 .6 .4-8 .4-4.9 .4 6.1 .4-3.7 .4-2.9 .4 2.9 .4-2.4 .4-4.9 .4 3.9 .4-4.9 .4 5.1 .4-4.7 .4-.7 .4 5.6 .4 .7 .4-2.8 .4-2.1 .4 4.7 .4-.9 .4 .6 .4-1.2 .4-2.3 .4 3 .4 5.3 .4-4.8 .4 2 .4 .7 .4 3.1 .4-1.1 .4-1.2 .4 6.4 .4-3.7 .4 .9 .4-1.8 .4-1.6 .4 5.5 .4-1.4 .4 2.2 .4-5.9 .4 10.4 .4-3.7 .4 2.4 .4-4.4 .4 3.3 .4 .5 .4 2.7 .4-.6 .4-7.1 .4 5.9 .4-.2 .4-1.1 .4 1.3 .4 1 .4 .9 .4-5.4 .4 .8 .4 2.2 .4 1.6 .4-4.2 .4 2.4 .4-3.3 .4 3.3 .4-.5 .4 1.7 .4 2.2 .4-5.6 .4 3 .4-5.2 .4 4.8 .4 3.7 .4-8.6 .4 2.6 .4-5.4 .4 7.7 .4 4.5 .4-8.1 .4 3.2 .4 2.7 .4-5.7 .4 2.4 .4-2.6 .4 .7 .4 1.3 .4 2.1 .4-1.8 .4-.7 .4-.5 .4 3.2 .4-1.6 .4-.3 .4-6 .4 4.2 .4-2.3 .4 7.3 .4-2.9 .4 2 .4-6.1 .4-2 .4 1.9 .4 3.7 .4-3.6 .4 3.7 .4 1.6 .4-4.6 .4 3.4 .4-8.5 .4 2.5 .4 1.6 .4 .6 .4-3 .4 2.8 .4 3.7 .4-.6 .4-1.2 .4-3.6 .4 6.1 .4-2.1 .4-4.5 .4 5.3 .4-3.6 .4 2.3 .4-.5 .4 .5 .4 2.5 .4 2.7 .4-5.8 .4-.7 .4-.5 .4 1.4 .4 .3 .4-5.1 .4 3.7 .4 6 .4-4.2 .4 .9 .4-3.1 .4 6 .4-4.2 .4-2.5 .4-1.2 .4 3.4 .4 3.5 .4-6.6 .4-.9 .4-3.6 .4 8.2 .4-4.9 .4 .9 .4-.9 .4 .5 .4 4.5 .4-4.2 .4 2.6 .4-2.5 .4 1 .4 2.8 .4 0 .4-5 .4 3.3 .4-2.7 .4 4.6 .4-3.7 .4-.8 .4 4.8 .4-3.8 .4 1.9 .4 1.6 .4-3.5 .4 .6 .4 2.6 .4 4.6 .4-4.6 .4 .4 .4-1.9 .4-.2 .4 4.2 .4-6.2 .4 .2 .4 6 .4-6.2 .4-1.3 .4 4.8 .4 1.5 .4 2.1 .4 1.3 .4-12.5 .4 5.8 .4-.4 .4 2 .4-3.4 .4 2.5 .4 .7 .4-.2 .4-3 .4 3.1 .4-3.1 .4 .1 .4 1.6 .4 3 .4-7.9 .4 5.5 .4 4.1 .4-3.4 .4-2 .4 2.3 .4 3.7 .4-4.9 .4-1.5 .4 4.1 .4-2.9 .4-1.2 .4 4.3 .4-4.7 .4 1.6 .4 4.6 .4-3.3 .4 3.2 .4-8.7 .4 .7 .4 2.1 .4 1.9 .4-5.1 .4 6.1 .4-2.2 .4 .1 .4 1.6 .4-.8 .4-2.8 .4 2.8 .4-2.7 .4 7.2 .4-5.1 .4 .6 .4-1.2 .4 2 .4 .6 .4-1 .4-2.6 .4 6.2 .4-3.3 .4-5.3 .4-1.1 .4 3.2 .4-.1 .4-1.4 .4 2 .4 3.7 .4 2.7 .4-2.9 .4 .3 .4 2.3 .4 3.1 .4-3 .4-1.6 .4-2.2 .4-2.5 .4 4.2 .4 2.2 .4-2.5 .4-2.5 .4 3.3 .4-2 .4-1.5 .4-4.1 .4 7.4 .4-3.6 .4 5.2 .4-5.4 .4 2 .4-2 .4 6.6 .4-1.3 .4-4.3 .4 4.1 .4-8.1 .4 5.3 .4-3.8 .4 1 .4-1.2 .4 2.8 .4-7.3 .4 3.6 .4 5.2 .4-11.1 .4 5.8 .4-3.6 .4-4 .4 8.5 .4-2.9 .4 5 .4-9.6 .4 6.4 .4 3.4 .4-10.5 .4 7.2 .4-.1 .4-1.6 .4 3.3 .4-2.3 .4-4.3 .4-.3 .4 1.8 .4 5.2 .4-5.4 .4 3.1 .4-3.2 .4 2.4 .4-.2 .4 2.3 .4 2.2 .4-6.7 .4-1.4 .4 3.7 .4 .8 .4 1.6 .4 3 .4-3.6 .4 2.1 .4 .9 .4 4.2 .4-3.8 .4 5.9 .4 3.1 .4-5.7 .4 5.9 .4-1.8 .4-1 .4 7.1 .4-1.6 .4-4 .4 3.3 .4-3.2 .4-1.7 .4 7.9 .4-2.9 .4 5.3 .4-4.4 .4 .4 .4-1.3 .4 .8 .4-3.1 .4 1.5 .4-4.9 .4-.5 .4 1.1 .4 1.9 .4 1.3 .4-.7 .4 3.7 .4 3.5 .4-15.6 .4 11.5 .4-2.1 .4-5.2 .4 1.7 .4-7.1 .4 4.8 .4 5 .4-9.1 .4 1.3 .4 1.7 .4 1.3 .4-2.5 .4-2.2 .4 3.2 .4-4.3 .4 8.9 .4-3.9 .4-3.9 .4-3.1 .4 .5 .4-.7 .4 1.1 .4 2.2 .4-5.4 .4 4.6 .4-.5 .4-3 .4 7 .4-2.5 .4-.5 .4-2.8 .4-.4 .4 2.4 .4-4.7 .4 5.8 .4-4.7 .4 3.6 .4 2.2 .4-2.9 .4-1.1 .4-.3 .4 2.8 .4-3.8 .4 3.4 .4 3.2 .4-8.9 .4 3.5 .4 3.4 .4-4.2 .4 .3 .4-.5 .4 6.6 .4-9.4 .4 6.5 .4-.2 .4 .8 .4-2.5 .4 2.8 .4-1.8 .4-.9 .4 10.9 .4-4.8 .4-6.6 .4 1.3 .4 3.7 .4 3.3 .4-5 .4 3 .4-1.5 .4 3.1 .4-5.3 .4-.6 .4 3.5 .4 .1 .4-.7 .4 3.9 .4-1.6 .4-1.7 .4-3.9 .4 6 .4 .6 .4-4.6 .4 1.9 .4-3.2 .4 4 .4-.9 .4-4.9 .4 5.8 .4-1 .4 .1 .4 4.5 .4-1.7 .4 1.4 .4-3.7 .4 5.4 .4-6.7 .4 4.9 .4-7 .4 5.6 .4-3.9 .4-1.3 .4 6.9 .4-1.5 .4 1.1 .4-1.4 .4 .8 .4-.9 .4-.4 .4 1 .4 7.1 .4-10.6 .4-1.5 .4 1.9 .4 .8 .4 4 .4 1.8 .4 .2 .4-4.3 .4 3 .4 3.8 .4-3.9 .4 2.1 .4-7.3 .4 6 .4-.2 .4-6.6 .4 4.1 .4 1.8 .4-4.9 .4 5.8 .4 .2 .4-2.2 .4-1.4 .4-.3 .4 1.8 .4 2.3 .4-8.1 .4 4.9 .4 .2 .4-3.8 .4-1.5 .4 3.4 .4-4.9 .4 6.2 .4-1.8 .4-2.8 .4 3.5 .4-2.9 .4 .3 .4 6.1 .4-6.5 .4-6 .4 9.2 .4-4.5 .4 .3 .4 7.9 .4-5.5 .4 2.8 .4-7.4 .4 1 .4 .5 .4 5 .4-4.8 .4-4.3 .4 8.7 .4-4.4 .4 1.9 .4 2 .4 4.5 .4-7.5 .4 5.3 .4-10 .4 4.9 .4 .3 .4-8.6 .4 4 .4 .6 .4 3.9 .4-3.4 .4 0 .4-1 .4 3.6 .4-1.9 .4-.2 .4-.7 .4 2.9 .4-4.8 .4 2.1 .4 0 .4 1 .4 2 .4-2.4 .4-5.8 .4 7.7 .4 .5 .4 .1 .4-1.5 .4-8.3 .4 4.7 .4 2.9 .4-.1 .4-3.2 .4 .6 .4-4.2 .4 4.8 .4-8.4 .4 6.1 .4 3.8 .4-7.4 .4 8.2 .4 2.2 .4-5 .4-3.6 .4-.1 .4-2.5 .4 6.4 .4-6.3 .4 4.2 .4-4.4 .4 5.4 .4-6.6 .4 4.1 .4-2.1 .4 5.8 .4-4.9 .4 .7 .4 4.3 .4-7.7 .4-.5 .4 3.9 .4-3.3 .4 9.1 .4-5.3 .4 .3 .4-2 .4-8 .4 13.3 .4-4.7 .4-6.6 .4 3.2 .4 3.6 .4 4.3 .4-3.1 .4 .1 .4-.1 .4-4.1 .4 .9 .4 2.4 .4-4.6 .4 4.9 .4 2.3 .4-10.3 .4 7.5 .4 .1 .4 1.4 .4 5.9 .4-10.5 .4 11.7 .4-4.1 .4 6.5 .4-9.5 .4 2.8 .4-1.4 .4 2.5 .4-4.5 .4 .8 .4 2.4 .4 3.2 .4-6.4 .4 3.8 .4-.7 .4 3.6 .4 2.3 .4-7.7 .4 2.1 .4 2.7 .4-1.9 .4 8.9 .4 1.4 .4-2.8 .4-.4 .4-5.2 .4 .9 .4 5.3 .4 4.2 .4-6 .4 2.7 .4 5.1 .4 .9 .4-9.2 .4 5 .4 2.1 .4-8 .4 4.5 .4 2.8 .4-2.1 .4 4.1 .4-2.7 .4-4.3 .4 2 .4-2.7 .4 3.2 .4 7.1 .4-.7 .4 1.2 .4 3.2 .4-8.3 .4 2.6 .4 2.6 .4 5.8 .4-4.6 .4-1.2 .4 1.8 .4-3.9 .4-3.5 .4 8.9 .4-3 .4 3.3 .4-5.5 .4 1.2 .4 6 .4-1.8 .4 2.8 .4-5.6 .4 2.8 .4 2.3 .4 .8 .4-3.3 .4 1.2 .4-1.3 .4-.2 .4 .3 .4 1.8 .4-6.4 .4 4.5 .4-3.5 .4 3.5 .4-1 .4 1.4 .4-1.7 .4 .2 .4-4.5 .4 9.7 .4-9.9 .4-2.1 .4 7.8 .4 .7 .4-2.6 .4-1.1 .4-3.1 .4 10.5 .4-12.9 .4 14.1 .4-14.1 .4 1.7 .4 2.6 .4-1 .4 3.1 .4-5 .4 1.5 .4-4.7 .4 9.7 .4-5.6 .4-1.9 .4 2.5 .4 2.9 .4-2.1 .4-4.1 .4 2.8 .4 .4 .4 0 .4-2.8 .4 3.2 .4-6.6 .4 4.1 .4-3.6 .4 2.9 .4-2.6 .4 4.3 .4-4.1 .4 5.4 .4-7.8 .4 6.7 .4-6.9 .4-6.1 .4 5.1 .4 6.4 .4-2.6 .4 .8 .4-3.4 .4 2.4 .4-5 .4 9.6 .4-.7 .4-4.2 .4-3.9 .4-.4 .4 4.4 .4-1.1 .4-4.6 .4 5.8 .4 .3 .4-1.2 .4-.6 .4-.7 .4-.9 .4-1.1 .4-1.2 .4 6.6 .4-10 .4 6 .4 2.6 .4 5.2 .4-9.5 .4 6.2 .4-.3 .4-1.2 .4 3.3 .4-12.6 .4 9.5 .4-3.8 .4 1.9 .4-2 .4-2.5 .4-3.7 .4 8.2 .4-2.4 .4-3.9 .4 4.3 .4-3.5 .4 .8 .4 3.8 .4 2.2 .4-9.8 .4 6.6 .4 2.5 .4-6.7 .4 3.4 .4 2.3 .4 2.2 .4-7.5 .4-1.8 .4 3.7 .4 .4 .4 1.7 .4 .3 .4-7.2 .4 9.6 .4-8.6 .4 7.3 .4 .6 .4-.3 .4-.4 .4 .2 .4-4.1 .4-.2 .4 10.8 .4-1.9 .4-.9 .4-1.8 .4-8.8 .4 12.6 .4-7.6 .4 .8 .4 2.9 .4-5.2 .4 7.2 .4-13.6 .4 13.4 .4-2.6 .4-5 .4 6.2 .4 1.2 .4-1.3 .4 .6 .4-4.3 .4 4.8 .4 0 .4 .9 .4-2.3 .4-8.5 .4 8.1 .4-6.8 .4 2 .4 2.4 .4 1.1 .4-1.7 .4 2.3 .4 .7 .4-1.2 .4-.3 .4 1 .4 1.3 .4-5.9 .4-2.1 .4 9.4 .4-3.4 .4-9 .4 12.7 .4 .1 .4-10.9 .4 2.4 .4 2.5 .4-2.5 .4 2.2 .4 2.1 .4 4 .4-12.7 .4 9.5 .4 3.7 .4-13 .4 10.3 .4-1.4 .4-1.7 .4 5.1 .4 2.3 .4-.6 .4 3.8 .4-10 .4-4.7 .4 6 .4 3 .4 4.1 .4-2 .4-3.9 .4 7.7 .4-3 .4-.5 .4-1.2 .4 2.6 .4 .9 .4-1.7 .4-8.7 .4 5.9 .4 5.2 .4 4.5 .4-1.3 .4 0 .4 2.5 .4-3.9 .4 2.5 .4-1.1 .4-2.9 .4-4.3 .4-2.8 .4 7.6 .4-6.4 .4 4.1 .4 3 .4-5.7 .4 5.9 .4-3.4 .4-3.9 .4 5.3 .4 .2 .4-4.9 .4 3.4 .4-6.5 .4 4.4 .4 .3 .4-5.4 .4 3.8 .4 4.7 .4-8.3 .4-2.3 .4-1.6 .4 2 .4-1.7 .4-2.5 .4 6.1 .4 .4 .4-5.4 .4 3.5 .4 2.8 .4-2.6 .4-1.2 .4 1.5 .4-5.6 .4 5.4 .4 3.3 .4-10 .4-5.1 .4 3.9 .4-1.4 .4 4.2 .4 3.4 .4-2.8 .4 4 .4-5.2 .4-1.7 .4-8 .4 8.5 .4-4.2 .4 .1 .4 .8 .4 6.9 .4-3 .4-3.4 .4-5.7 .4 3.7 .4 .5 .4 4.2 .4-1.3 .4-.1 .4-5.6 .4 7.2 .4 5.8 .4-14.7 .4 1.4 .4 4.1 .4 3.5 .4-2.7 .4-.6 .4 5.2 .4-9.8 .4-3.7 .4 2 .4 8.9 .4 .5 .4-5.1 .4-4.1 .4 2.2 .4 4.7 .4 2.3 .4-6.1 .4-.8 .4-.4 .4 1.1 .4 4.9 .4-1.8 .4 .6 .4-1 .4 .4 .4-5.8 .4 .9 .4 5.4 .4 .2 .4 2.7 .4-4.5 .4-3 .4 2.6 .4-.2 .4 3 .4-2.7 .4 2.7 .4 .1 .4 0 .4 .2 .4-6 .4 8.2 .4 2 .4-3.1 .4 3 .4-4.4 .4-3.6 .4 4.3 .4-2 .4-.1 .4 7 .4-9 .4 8.2 .4-5.9 .4-3.9 .4 10.2 .4-1.7 .4 1.2 .4 1 .4 4 .4-1.8 .4-1.5 .4 1.5 .4 3 .4-2.9 .4 4.5 .4-8.3 .4 8.2 .4 1.2 .4 3.6 .4-6 .4 4.2 .4 3.2 .4 8 .4-7.6 .4 2.3 .4-3.9 .4 10.8 .4-8.6 .4 .3 .4 1.7 .4-5.3 .4 1.2 .4 2.5 .4-1.8 .4 6.6 .4-5.7 .4 10.1 .4-7.7 .4-4.2 .4 3 .4 1.7 .4-3.1 .4 1.2 .4-3.1 .4-2.6 .4 2 .4 6.4 .4-8.7 .4 .7 .4-6.2 .4 2.7 .4 3.1 .4-3.2 .4 5.1 .4-1.3 .4-5.9 .4 .7 .4 2.3 .4-1.6 .4-3 .4-6.3 .4 11.7 .4-5.5 .4 .2 .4-3.6 .4 8 .4-6.2 .4 .9 .4-8.4 .4 5.8 .4 1.5 .4 1.7 .4 1.2 .4-3.4 .4 4.7 .4-4.3 .4-.1 .4 .7 .4-6.3 .4-1.9 .4 15.4 .4-13.4 .4 4.4 .4 4.7 .4-4.7 .4 7 .4-11.5 .4 8.1 .4 2 .4 6.1 .4-2.5 .4-8.1 .4 6.2 .4-2 .4-5.5 .4 2.9 .4 6.2 .4-4.9 .4-2.3 .4 1.5 .4-2.2 .4-1 .4 7.6 .4 .6 .4 2.5 .4-9.6 .4 1.8 .4 6.1 .4-.8 .4-1 .4-3.6 .4 3.6 .4-4 .4 11.5 .4-2.9 .4-6.2 .4 8.7 .4-8.4 .4 6.3 .4-1.4 .4-1.9 .4 6.9 .4-11.3 .4 5.3 .4 .2 .4-5.4 .4 1.2 .4 6.4 .4 .7 .4-4.6 .4 6.1 .4-.2 .4 1.3 .4-3.7 .4 .7 .4 2.8 .4-4.4 .4-.9 .4-1.4 .4 6.7 .4 2.9 .4-11.8 .4 6.1 .4 3.9 .4 2.9 .4-4.7 .4-4.4 .4 5.3 .4 5.4 .4-8.3 .4 0 .4 2.7 .4-13.7 .4 7.1 .4 .9 .4-3.6 .4-4.9 .4-3.9 .4-2.6 .4-4.8 .4 1.2 .4-4.5 .4 2.4 .4-2.2 .4-3 .4-.8 .4 .4 .4-6.1 .4 6.1 .4-2.5 .4 1 .4-3.8 .4 .4 .4 1.3 .4-.1 .4-1.8 .4 .2 .4-.6 .4 .6 .4-1.3 .4-.1 .4-.6 .4 9.1 .4-7.6 .4 2.3 .4-3.2 .4 4.5 .4 4.2 .4-7.1 .4 3.5 .4-.6 .4 3.7 .4-3.3 .4 .1 .4-.2 .4-6.2 .4 11.3 .4 2.8 .4-9.1 .4 6.7 .4-2.9 .4 5.7 .4-7.1 .4 3.9 .4 3.7 .4-2.6 .4-1 .4-.6 .4-1.8 .4 3.2 .4-3.8 .4 10.2 .4-3.6 .4-2.1 .4-4.4 .4 10.3 .4 1.8 .4-2.5 .4 2.5 .4 .9 .4-2.5 .4 .2 .4 2.4 .4 5.3 .4-5.7 .4-2.6 .4 7.4 .4 1.1 .4 .5 .4 2.1 .4-3.8 .4 2.3 .4 2.9 .4 2.4 .4 3.3 .4 2 .4-.8 .4-.2 .4-2 .4 3 .4-3 .4 4.1 .4 5.2 .4 1.5 .4-5 .4 9.1 .4-12.4 .4 11.5 .4-1.3 .4 .1 .4 2.6 .4-2.5 .4 10.4 .4-9.8 .4 .8 .4 2.6 .4-8.4 .4 6.8 .4-4.9 .4 10.1 .4-7.4 .4 .8 .4-6.9 .4 12.6 .4-14.2 .4-.1 .4 1.6 .4-7 .4 2.1 .4 2 .4 4.1 .4-1.4 .4-10.1 .4 .6 .4 3 .4 .2 .4-9.4 .4 .5 .4-.8 .4-1.2 .4-3.1 .4 6 .4-9.3 .4 3.8 .4-4.1 .4 6.5 .4-5.8 .4-14.3 .4 8.4 .4-11.4 .4 11.8 .4-7.3 .4-7.8 .4 3.4 .4 1.8 .4 6.2 .4-5.5 .4 1.2 .4-4.5 .4 .8 .4-3.5 .4 4.7 .4 1.2 .4 1.7 .4-1.7 .4 3.6 .4 .5 .4 4.2 .4-1.7 .4 1.9 .4 .8 .4 2.7 .4 3.5 .4-.8 .4 10.8 .4 1.3 .4-.4 .4 3.6 .4-5.6 .4 4.3 .4 2.6 .4 4.6 .4 3.9 .4 1.9 .4-7.3 .4 6.8 .4 5.8 .4-4.2 .4 3.7 .4-7.5 .4 7.1 .4-.8 .4-6.7 .4 10.6 .4 1.6 .4-3 .4-5.7 .4-.6 .4-3.6 .4 3.1 .4-2.5 .4 1.6 .4-7.8 .4 1.3 .4-6.9 .4-4.3 .4 .2 .4-5.7 .4-2.4 .4 3.9 .4-2.4 .4-7.9 .4-2.5 .4 .9 .4-3.8 .4 4.3 .4-5.2 .4-4.7 .4 1.2 .4 4.6 .4 6.5 .4-5.5 .4-6.5 .4 2.9 .4 5.6 .4 .4 .4 3.1 .4 9.4 .4-9.6 .4 2.6 .4 6.1 .4 2.8 .4 3.3 .4 4.9 .4-.8 .4 6.6 .4-1 .4 2.9 .4-6.1 .4 5.1 .4 3.4 .4 5.4 .4-4.1 .4-.6 .4 1.2 .4 9.6 .4-12.6 .4 6.6 .4-.9 .4 5.1 .4-3.2 .4-4.3 .4 4.2 .4 1.3 .4-6.9 .4-5.7 .4 1.3 .4 4.3 .4-4.8 .4 3.8 .4 3.2 .4-4.3 .4 7 .4-9.8 .4-5 .4 4.7 .4 2.4 .4-10.1 .4 6.4 .4 3.9 .4-6.4 .4 5.6 .4-13.8 .4 7.3 .4-9.5 .4-1.1 .4 .4 .4 9.2 .4-3.6 .4 3.7 .4-9.5 .4-3.9 .4 9.6 .4-6.7 .4-3.7 .4 8.6 .4 .7 .4-7.4 .4 3.3 .4 1.4 .4-6 .4 .4 .4 4.3 .4 5.4 .4-10.3 .4 7.2 .4-.9 .4-1.4 .4-1.4 .4-2.5 .4 6.2 .4-3 .4-9.3 .4 11.4 .4-4.3 .4 2.8 .4 8.9 .4-6.5 .4-9.5 .4 6.8 .4-2.6 .4 8.9 .4-14.5 .4 13.3 .4-1.9 .4-1.3 .4 3.4 .4 5.9 .4-14.5 .4 5.7 .4 2.3 .4 .5 .4-.8 .4 3.3 .4-1.1 .4-2 .4-5.5 .4 10.7 .4 3.5 .4-.8 .4-2.8 .4 3.4 .4-10.6 .4 9.6 .4-1.5 .4-1.4 .4 5.2 .4-5.2 .4-.6 .4-2.3 .4-3.2 .4 5.9 .4 9.2 .4 .6 .4-9.9 .4 3.3 .4 5.8 .4-10.4 .4 2.5 .4-3.9 .4 12.5 .4-9.1 .4 1.1 .4 1.4 .4-3.4 .4 14 .4-5.7 .4 3.9 .4-17.3 .4 11.5 .4-4 .4-4.2 .4 4.8 .4 6.1 .4-2.2 .4-7.3 .4 12.1 .4-5.8 .4-8.6 .4-.5 .4 .4 .4 1.9 .4-2.3 .4-1 .4 6.2 .4-7.2 .4 2.8 .4-3.8 .4 1.1 .4 5.4 .4-5.4 .4 2.6 .4-4.1 .4 4.4 .4-5.4 .4 4.3 .4-10.8 .4 9.5 .4-3.4 .4-6.4 .4 .5 .4-6.2 .4 6.6 .4 1.3 .4-3.5 .4 6 .4-14 .4 7.6 .4-4.9 .4 2.6 .4 5.2 .4-4.1 .4 5.8 .4-8.1 .4-1.7 .4 1.2 .4-5.5 .4 2.3 .4 3 .4 3.9 .4-8.4 .4 .1 .4-3.1 .4 .6 .4 5.5 .4 .3 .4 1.1 .4-2.5 .4 5.6 .4-11.8 .4 7.3 .4 3 .4-3.9 .4 3.5 .4-2.6 .4-.3 .4 2.5 .4-3 .4 2.9 .4 3.1 .4-6.8 .4 8 .4 2.5 .4 2.5 .4-7.8 .4 6.7 .4-12.1 .4 2.5 .4 6.6 .4-4.5 .4 1.3 .4 .2 .4 3.5 .4-.9 .4-.7 .4 4.4 .4-1.5 .4 2.8 .4 1.8 .4 1.6 .4-2.7 .4-.4 .4 .6 .4-2.3 .4 7 .4-1.7 .4 5.1 .4-2.7 .4-3 .4 6.1 .4-4.4 .4 1.2 .4 2.6 .4-.6 .4-4 .4 6.4 .4-1.1 .4-1.6 .4-.5 .4 1.9 .4-7.1 .4 11.9 .4-15.7 .4 6.2 .4 .3 .4 5.8 .4-1.4 .4 1.4 .4-6.5 .4 10.2 .4-1.2 .4-12.3 .4 9.6 .4-8.9 .4 5.9 .4 4.6 .4-2.1 .4-5.5 .4 2.9 .4 7.2 .4-3.7 .4 2.4 .4-10.1 .4 9.4 .4-1.3 .4-4.7 .4 9.9 .4-6 .4 3.9 .4-5.6 .4 3.8 .4 .7 .4-2.6 .4 1 .4 .9 .4-1.6 .4-4.7 .4 6.7 .4-1.8 .4 1.7 .4-4.3 .4 9.8 .4-2.4 .4 2.1 .4 2.2 .4-3.5 .4-5.2 .4-3.9 .4 10.2 .4-3.4 .4 2.6 .4 2.3 .4-5.9 .4-2.8 .4 5.9 .4-3.2 .4-1.3 .4 5.5 .4-2.2 .4 3.6 .4-6.2 .4 4.5 .4-.2 .4 1.4 .4-1.9 .4 5.7 .4-8.2 .4 8.3 .4 3.2 .4-4.1 .4 .8 .4-3 .4 4.7 .4 1.2 .4-.7 .4 1.3 .4 1.1 .4-.9 .4-8.1 .4 3.2 .4 4.5 .4 9.7 .4-4.2 .4-4.2 .4-.5 .4-.8 .4 4.4 .4-3.5 .4 1.6 .4-3.8 .4 1.9 .4-2.3 .4 .6 .4 1.4 .4 5.8 .4-4.1 .4 2 .4-7.2 .4 1.9 .4-4.9 .4 .3 .4-1.4 .4-7.7 .4 5.1 .4-6.9 .4 5 .4-6.6 .4-5.8 .4-.6 .4-.9 .4 7.3 .4-13.3 .4 1.3 .4 0 .4-3.7 .4-1.8 .4 .8 .4-8 .4 7.8 .4-3.8 .4-6.9 .4 2.6 .4-7.2 .4-4.2 .4-5.1 .4 .3 .4 3.3 .4-2.7 .4 3.6 .4-1.6 .4-4.1 .4-4.3 .4 5.7 .4-8.4 .4-10.5 .4 8.1 .4 2.6 .4 .1 .4 0 .4 1 .4-13.5 .4 20.7 .4-6.3 .4-.8 .4-7.1 .4 12.9 .4-6 .4-2.2 .4 12.6 .4 1.9 .4-.5 .4-.9 .4 7.9 .4 1 .4 3.7 .4 3 .4-5.3 .4 10.7 .4-4.3 .4 9.8 .4-.8 .4 2.2 .4 11.5 .4-3.3 .4 2.4 .4 4.9 .4 8.1 .4-17.9 .4 15.4 .4 0 .4 6.4 .4-3 .4 1.2 .4 4 .4-1.5 .4-2.7 .4 4.5 .4 8.1 .4-5.2 .4-12.2 .4 9 .4-3.7 .4 7.9 .4-9 .4 4.1 .4 2.1 .4 1 .4-6.5 .4 3.2 .4 7.9 .4-12.9 .4 2.4 .4-4.5 .4 2.2 .4 2.3 .4-2.6 .4 1.8 .4-9 .4 5.3 .4-2.8 .4-10.8 .4 15.2 .4-5 .4-3.9 .4 6.2 .4-3.1 .4-13.2 .4 11.2 .4 7.5 .4-9.9 .4 1.4 .4-11.6 .4-.3 .4-.3 .4 10 .4-1.5 .4-15.6 .4 14 .4-13.7 .4 2.3 .4 5 .4-3.3 .4 2.2 .4 .6 .4 3.6 .4-7.7 .4-1.3 .4-.6 .4 13.3 .4-5.7 .4-.1 .4-2.9 .4-1.6 .4 5.1 .4-6.6 .4-6.4 .4-.3 .4 18.1 .4-15.6 .4 1.7 .4 2.4 .4 5.4 .4-9.4 .4 4.1 .4 2.7 .4-7.1 .4 6.1 .4 4.7 .4-3.6 .4-.4 .4 2 .4-2.3 .4-1.4 .4-.2 .4 6.3 .4-10.7 .4 2.2 .4 9.1 .4 2.1 .4-4.6 .4-3.9 .4-3.1 .4 10 .4-1.5 .4 1 .4 .6 .4-6.2 .4 1.5 .4 3.2 .4-.1 .4-6.1 .4 1.9 .4 4.9 .4 7.4 .4 4.7 .4-9.2 .4-2.4 .4 3.1 .4-.8 .4-3.9 .4-7.1 .4 12.2 .4-3.3 .4 2.7 .4-3.9 .4 3 .4 2.4 .4-6.5 .4 3 .4 6.1 .4 .9 .4-11.3 .4 11.6 .4 2.4 .4-3.9 .4 .2 .4-1.3 .4 1.1 .4-3.9 .4 7.9 .4-5.9 .4-6.4 .4 8.8 .4 1.6 .4-2.3 .4-6.3 .4 7.1 .4-14.4 .4 19 .4-5.2 .4-10.7 .4-1.3 .4 19.8 .4-9.8 .4-4.4 .4 4.6 .4-2.7 .4 0 .4 2.1 .4-.3 .4-6.2 .4 5.9 .4-.5 .4-5.6 .4 8.6 .4-2.1 .4-7.2 .4 12.5 .4-5.7 .4 3.5 .4-9.7 .4 1 .4 2.6 .4-3.3 .4 1.4 .4-5.6 .4 15.4 .4-7 .4 3.4 .4 1.8 .4-8.2 .4 9 .4-19.6 .4 8.6 .4-.9 .4 2.1 .4-5.1 .4 9 .4 4.9 .4-8 .4 1.6 .4-12.6 .4 6.3 .4 5.1 .4-4.9 .4 4.4 .4-3.2 .4 3.4 .4-7.9 .4 8.6 .4 4.1 .4-3.3 .4 6.5 .4-9.9 .4 4.5 .4-9.8 .4 10.4 .4-1.9 .4-3.3 .4 6.4 .4-10.1 .4 4.2 .4 2.7 .4-5.7 .4 .3 .4 9.1 .4-5.8 .4-2.9 .4 2.8 .4-.2 .4-.5 .4 5.2 .4-6 .4-1.6 .4 7.2 .4-.3 .4 6.2 .4-11.1 .4 3.7 .4 7.4 .4-2.6 .4-3.8 .4-.8 .4 7.1 .4-2.9 .4-3.2 .4 2.1 .4 .5 .4 6.4 .4-15.3 .4 9.2 .4 8.4 .4-12.6 .4 6.6 .4 5.4 .4-9.3 .4 3.8 .4-1.1 .4 4.9 .4-3.3 .4-1.5 .4 5.5 .4 .9 .4 4.5 .4-6.5 .4 1.3 .4-1.5 .4 8.1 .4 .4 .4-8.6 .4-5.7 .4 18.5 .4-16.7 .4 .7 .4 5.6 .4 11.2 .4-3.3 .4-5.9 .4 4.4 .4-3.7 .4 6 .4-6.8 .4 9.2 .4-4.4 .4-5 .4-5.1 .4 12.9 .4-2.7 .4-6.6 .4 .3 .4 1.8 .4 .7 .4 .7 .4 .7 .4 0 .4-2.6 .4 11.6 .4-10.5 .4-1.7 .4 5.2 .4-6.5 .4 5.8 .4-1.5 .4 3.8 .4-9.1 .4-4.3 .4 13.5 .4-6.3 .4 8.4 .4-4.7 .4-5.5 .4 3.3 .4-7 .4 .6 .4 4.2 .4 .2 .4-8.3 .4 10.7 .4-1.4 .4 2 .4-11.4 .4 8.8 .4-5.6 .4 .3 .4 6.5 .4-4.7 .4 2 .4 1.1 .4 .7 .4-9.4 .4-.4 .4 5.5 .4 .5 .4-5.9 .4 4.7 .4-5.9 .4 2.3 .4 .4 .4 1.2 .4 1.7 .4-4.7 .4 2 .4-4.7 .4 6.7 .4-1 .4-5.1 .4 10.6 .4-9 .4-1 .4-.9 .4 3.3 .4-1.2 .4-3.7 .4 4.7 .4 2.3 .4 1.6 .4-4.1 .4-3.9 .4-2.1 .4 5.6 .4 3 .4 4.1 .4-11.2 .4-3.5 .4 .3 .4 5.7 .4 1.3 .4-6.2 .4-2.1 .4-3.3 .4 11.4 .4-10 .4 9.2 .4-3.3 .4-7.9 .4 3.5 .4 9.4 .4-4.3 .4-.9 .4 6.4 .4-5.4 .4 .7 .4 .2 .4 0 .4 4.6 .4-7 .4 7.4 .4 2 .4-8.7 .4 4.5 .4-6.9 .4 5.6 .4 5.3 .4-1 .4-5.7 .4 4.6 .4-.1 .4-1.4 .4 .4 .4 8.2 .4-19.8 .4 9.2 .4 6.7 .4-4.1 .4 2.3 .4 .1 .4-2 .4 1.4 .4-3.1 .4 3.5 .4 3.7 .4 1.4 .4-1.8 .4-3.1 .4-.3 .4-5.5 .4 6.9 .4-3.1 .4 1.4 .4 1.8 .4 2.1 .4 .6 .4-.3 .4-4.7 .4 3.2 .4 5.2 .4-3.2 .4 2.5 .4-1.3 .4 6.5 .4 .9 .4 4.2 .4-12.6 .4 5.4 .4-9 .4 8.9 .4-.9 .4-3.5 .4 8.1 .4-5.5 .4-7.3 .4 13.3 .4-6 .4 3.2 .4-6.3 .4-.4 .4-2 .4 .6 .4 7.8 .4-.7 .4-9.6 .4 7 .4 .1 .4-3.6 .4 4.5 .4-4.9 .4 7.5 .4-5.6 .4 1.8 .4-12.9 .4 9.6 .4 1.9 .4-3.1 .4 1.6 .4-3.4 .4 7.6 .4-8.5 .4 2.8 .4 7.4 .4-1.5 .4-5.4 .4-5.7 .4-3.1 .4 9.9 .4-1.2 .4-2.5 .4-.3 .4 10.2 .4-5.6 .4-4.1 .4-1.3 .4-.9 .4 2.7 .4-2.9 .4 1.3 .4-2.7 .4 4.9 .4-2.5 .4-6.3 .4 16.6 .4-11 .4-3.6 .4-3.6 .4 5.3 .4-3.3 .4 9.8 .4-5.4 .4-5.2 .4-5.4 .4 10.9 .4-11.1 .4 9.1 .4-1.8 .4-12.5 .4 10.2 .4 8.1 .4-11.4 .4-6.2 .4 2.1 .4 6.9 .4 1.4 .4 2.2 .4-2.7 .4-5.6 .4 2 .4 .8 .4 .1 .4-5 .4 8.2 .4 1.8 .4-5.5 .4 1.2 .4-6.4 .4 6.4 .4-4.5 .4-.5 .4 7.4 .4-2.9 .4-2.7 .4-5.3 .4 7.4 .4 7.2 .4-5.7 .4-.4 .4 4.5 .4 4 .4-6.6 .4 2.1 .4-3.5 .4 1.5 .4-.1 .4 3.1 .4-6.8 .4 3.7 .4 .2 .4-1.6 .4-2 .4 6.5 .4-5.1 .4-5 .4 10.4 .4-9.4 .4 10.1 .4-14.3 .4 11.4 .4 8.3 .4-8.6 .4 6.4 .4-6.7 .4-1.3 .4 2.4 .4 5.8 .4 1.8 .4 .9 .4-2.1 .4-3.8 .4-8.5 .4 5.8 .4 10.4 .4-13.6 .4 9.6 .4 .1 .4-9.2 .4 9.3 .4-3 .4 2.9 .4-1 .4-.3 .4-2.9 .4-4.5 .4 17.1 .4-11.5 .4 2.9 .4-.3 .4 .6 .4-1.8 .4 6.1 .4-2.3 .4-1.9 .4-.3 .4 5.1 .4-6.2 .4 6.7 .4 3.7 .4-.9 .4-2.2 .4-9.8 .4 10.9 .4-2 .4 5.1 .4-8.5 .4 .5 .4 8.6 .4-10.1 .4 8.8 .4-3.6 .4-12.7 .4 9 .4-.1 .4-4.1 .4-2.6 .4 8.7 .4-5.1 .4 1.4 .4-1.4 .4 3 .4 3.1 .4 1.2 .4-1.5 .4-4.2 .4 .6 .4 3 .4 2.8 .4-6.3 .4-5.7 .4 6.8 .4 1.2 .4-5.3 .4 7.1 .4-7.9 .4 1.8 .4 1.3 .4 5.2 .4-12.9 .4 7.4 .4 .7 .4-4.5 .4 4.8 .4-8 .4-2.7 .4-.8 .4 2.2 .4-2.2 .4 6.7 .4-2.6 .4-7 .4 13.3 .4-6.4 .4-9 .4-1.3 .4 8.3 .4 5.5 .4-8 .4 5.5 .4 2.6 .4-4.4 .4-5.1 .4-4.9 .4 2.7 .4 8.7 .4-6.3 .4-4.9 .4 2.4 .4 .6 .4 5.8 .4-8 .4 10.9 .4-7.7 .4 .4 .4-6.9 .4 6.8 .4-.9 .4 2 .4-6.7 .4 4.1 .4-8.1 .4 2.4 .4 15.1 .4-12.8 .4-1.4 .4 7.6 .4-4.9 .4 12.4 .4-11.2 .4 3 .4-4.4 .4 6.5 .4-5 .4 11.5 .4-14.7 .4 5.4 .4 1.4 .4-8.4 .4 2.9 .4-1 .4-4 .4 9.3 .4-13.2 .4 6 .4 .9 .4 6.7 .4-1.8 .4 5.7 .4 .9 .4-4.5 .4-5 .4 7.9 .4-6.4 .4 2.1 .4 1.8 .4 6.9 .4 5.2 .4-5.8 .4-7.6 .4 6.7 .4 1.8 .4-9.5 .4 4.8 .4-3.5 .4 .5 .4 3.4 .4 .5 .4-4 .4 3.9 .4-5.6 .4 5.1 .4 1.6 .4-2.6 .4-4.7 .4 3.7 .4 5.5 .4 2.8 .4 .1 .4 .4 .4 3.5 .4-9.8 .4 7.3 .4-8.8 .4 11.8 .4-3.4 .4-9 .4 7.9 .4 1.5 .4-8.2 .4 5.3 .4 2.5 .4 4.6 .4-10.9 .4 9.7 .4-11.6 .4 .9 .4 10 .4-2.7 .4-6.8 .4 10.6 .4-4.6 .4-1.4 .4-2.1 .4-10.4 .4 11.9 .4 4.3 .4-4.4 .4 3.6 .4-3.7 .4 6.8 .4-18.2 .4 14.3 .4-6.4 .4 5.2 .4 2.1 .4 2.4 .4-1.5 .4 1.8 .4-10 .4 5.3 .4-10.5 .4 11.5 .4-9 .4 12.5 .4-3.9 .4-2.2 .4-1.6 .4 3.9 .4-3.6 .4-3.7 .4 8.4 .4-5.7 .4 6.1 .4-6.4 .4-1.2 .4 15.8 .4-7.4 .4 2.9 .4-6.7 .4 1.1 .4 .1 .4 9.1 .4-5.8 .4-2.6 .4-.6 .4 .5 .4 4.6 .4-4.6 .4 .2 .4 6 .4-1.7 .4-.7 .4 5.3 .4-9.3 .4-4.7 .4-2.2 .4 7.1 .4 1.5 .4 3.3 .4-10.9 .4 .4 .4 5.2 .4-.3 .4-5.1 .4 5.6 .4 4 .4-4.3 .4 11.8 .4-7.3 .4-7 .4 2.7 .4-5.6 .4 16.4 .4-11.1 .4-.1 .4 4.7 .4-4.8 .4-1.6 .4 2.8 .4 4.9 .4 .1 .4-11 .4-1.2 .4 9.5 .4-3.5 .4-.6 .4 6.9 .4-2.8 .4-4.4 .4 5.2 .4-6.3 .4 1 .4 10.9 .4-9.7 .4 3.6 .4-3.8 .4-.3 .4-3.8 .4-.2 .4 10.9 .4 4.3 .4-7.1 .4-.6 .4-5.3 .4 2.1 .4 7.1 .4 4.7 .4-8.7 .4-1.5 .4 3.1 .4-4.6 .4-4.3 .4-.7 .4 2.6 .4-.8 .4-9.2 .4 2.4 .4 11.8 .4 .5 .4-.9 .4-5 .4-2.2 .4 2.7 .4 1.5 .4-3.9 .4 7 .4-8.4 .4-7.8 .4 13.7 .4 .8 .4-5.1 .4 5.4 .4 .5 .4-17.5 .4 13.5 .4-7.6 .4 8.6 .4-2.2 .4 2.5 .4-5.2 .4-1.8 .4 3.9 .4 9.8 .4-9.3 .4-7 .4 4.5 .4-1.1 .4 6.9 .4-5.4 .4-2.1 .4 2.1 .4-4.2 .4 5.4 .4-7.3 .4 2.8 .4 3 .4-7.3 .4 .1 .4 2.5 .4 10.3 .4-2.8 .4-3.6 .4 4.3 .4-.6 .4-6.8 .4-2.2 .4 10.7 .4-8.6 .4 6.1 .4-10.2 .4 6.9 .4-5.3 .4 8.9 .4 .5 .4-1.6 .4 1.9 .4-6.1 .4 4.5 .4 1 .4-6.7 .4 7 .4-1.5 .4 1 .4-3.1 .4 1 .4 2.6 .4-1.6 .4 2.2 .4-8.7 .4 10.8 .4-8 .4 8.7 .4-11.4 .4 4 .4 4.2 .4 .8 .4-3.8 .4-1.9 .4 7.1 .4 2.1 .4-8.7 .4-1.3 .4 2.9 .4 2.4 .4-7.4 .4 3.6 .4 7.9 .4-6.6 .4 .1 .4 10.9 .4-1.8 .4 2.8 .4-7.5 .4-.5 .4-1.1 .4-4.7 .4-2.8 .4 9.5 .4-3.1 .4 6.7 .4 1.7 .4-11.4 .4 .8 .4 7.5 .4 5.6 .4 .9 .4-10.3 .4 3.6 .4 6.5 .4-10 .4-.9 .4 10.9 .4-9.3 .4-2.1 .4 13 .4-9.1 .4 .2 .4 4.8 .4 4.4 .4-3.1 .4-2.4 .4 1 .4 .2 .4-.4 .4-9.2 .4 9.6 .4-7.5 .4 2.9 .4 4.2 .4-1 .4 2.4 .4-1.6 .4 2.5 .4 6.3 .4-13.3 .4 10.2 .4 3.7 .4-10.4 .4 .5 .4 1.3 .4 2.7 .4-5.2 .4 1.7 .4 1.7 .4 .6 .4 6.3 .4-8.7 .4 6.3 .4-.1 .4-2.6 .4-.2 .4-4.2 .4 .5 .4 5.1 .4-.5 .4-2.2 .4 6.6 .4-4.6 .4-.3 .4-1 .4 5.7 .4-2.3 .4-1.1 .4-7.2 .4 13.6 .4-14.1 .4 8.2 .4-7.3 .4-1.7 .4-5.2 .4 12.7 .4 .6 .4-3.1 .4-.6 .4-4.2 .4 6 .4-1.2 .4-5.7 .4 4.6 .4 .5 .4-3.7 .4 10.1 .4-11.2 .4 14.8 .4-3.8 .4-7.5 .4 9.5 .4-2.5 .4 .4 .4-5 .4-5.5 .4-5.3 .4 10.8 .4-2 .4-2.3 .4 12 .4-7.4 .4-9.3 .4 6 .4 2.8 .4-8.2 .4 6.5 .4-2.8 .4-5.4 .4 8.4 .4 1.1 .4-15.2 .4 13.7 .4-4.9 .4 .8 .4-6.3 .4 2.9 .4 12.4 .4-5.1 .4-4.2 .4 .9 .4-4.4 .4 3 .4-3.6 .4 4.8 .4-6.6 .4 5.6 .4 2.3 .4-5.5 .4 1.9 .4-.1 .4-4.2 .4-4.6 .4 10.9 .4-5.1 .4-2.3 .4 6.5 .4-10.1 .4 .8 .4-1.5 .4-2.1 .4 3.5 .4-2.8 .4 8.7 .4-10 .4 8.1 .4-10.4 .4 2.1 .4 1.2 .4-4.7 .4 6.6 .4-6.2 .4-.8 .4 5.8 .4-6.9 .4 5.9 .4 1.7 .4-1.5 .4 2.6 .4-8.5 .4 7.5 .4-8.2 .4-5.1 .4 6.8 .4 9.7 .4-13.2 .4 12.8 .4-14.3 .4 10.8 .4-1.5 .4-3.9 .4-7.8 .4 13.8 .4 .3 .4-.1 .4 2.7 .4-7.5 .4 13.4 .4-4.4 .4-6.9 .4 14.1 .4-9.2 .4 2.8 .4 2.4 .4-7 .4 .6 .4 4.1 .4-3.7 .4 5 .4 8 .4-10.7 .4 6.3 .4-2.2 .4 7.2 .4-8.4 .4 1 .4 4.9 .4 10.6 .4-12.8 .4-2.9 .4 3.9 .4 8.4 .4 1.5 .4-3.9 .4 1.9 .4-7 .4 8.6 .4-2.1 .4-1.7 .4 7.7 .4 .6 .4-6.7 .4 3.4 .4-9.7 .4 4.1 .4 10.8 .4-11.1 .4 .9 .4 9.2 .4-15.7 .4 7.2 .4 6.4 .4-5.6 .4-2.2 .4-1 .4 5.5 .4-5.5 .4 5.4 .4-2.4 .4 .4 .4 4.7 .4-7.6 .4-2.5 .4 3.9 .4 .8 .4-2.4 .4-7.3 .4 10.3 .4-11.4 .4-1.6 .4 12.9 .4 2.1 .4-8.6 .4-2.9 .4 9.6 .4-12.8 .4 5.5 .4-3 .4 4.9 .4-1.7 .4-5.4 .4 8.1 .4-2.1 .4-3.7 .4-1.8 .4 .6 .4-5.7 .4 4.3 .4-.5 .4 3.4 .4-3.8 .4-1.2 .4 2.7 .4 3 .4-2 .4-3.4 .4-1.6 .4 8 .4-6.2 .4-5.7 .4 6.4 .4-9 .4 5.6 .4 5.3 .4-3.6 .4-.8 .4 4.9 .4 2 .4-9.7 .4-.8 .4 2 .4-1.9 .4 7.3 .4 1.2 .4-3.8 .4-4.3 .4-2.4 .4 6.5 .4-2.8 .4 5.6 .4-7.7 .4 3.2 .4 .8 .4 6.5 .4-1.1 .4-1.3 .4-1.1 .4 2.2 .4-11.2 .4 12.3 .4-5.2 .4 8 .4-2.6 .4 1.5 .4-8.5 .4 14.9 .4-9 .4-1.2 .4-3.9 .4 4.3 .4-11.1 .4 15.8 .4-3.8 .4-2.4 .4 6.5 .4-3.6 .4-.3 .4-4.3 .4 4 .4-6.8 .4 .3 .4 5.9 .4-3.4 .4-3.2 .4 5.4 .4-7.3 .4 15.6 .4-10.9 .4 .3 .4 11.4 .4-13.5 .4-2.9 .4 10.4 .4-.8 .4 6.2 .4-4.5 .4-6.6 .4 8.3 .4-1.2 .4 7.3 .4-3.8 .4-5.1 .4 1.6 .4 3.7 .4-1.5 .4 3.4 .4 .7 .4-6 .4 6.8 .4 3.1 .4-8.6 .4-.7 .4 10.4 .4-.5 .4 2.1 .4 4.1 .4-8.2 .4-3.9 .4 6.1 .4-3.8 .4 5 .4 1.8 .4-2.7 .4 2.2 .4-2.4 .4 1.2 .4-6.4 .4 12.8 .4-10.7 .4 1.1 .4-1.4 .4 2 .4-.9 .4-7.1 .4 16 .4-5.5 .4-3 .4 1 .4 4.7 .4-1 .4-2.6 .4 2.6 .4-16 .4 15.5 .4-5.1 .4-2.7 .4-1.4 .4 4.9 .4-8.5 .4 9.2 .4-5.2 .4 6.6 .4-11.5 .4 9.5 .4-4 .4-3.5 .4 10.7 .4-.8 .4-9.5 .4 2.6 .4 7.8 .4-6.4 .4-3.6 .4-1.7 .4 .5 .4 5.9 .4 1.4 .4-6.2 .4-3.3 .4 .9 .4-4.9 .4 10.1 .4-2.4 .4 4.7 .4 5.2 .4-4.4 .4-8.3 .4 .1 .4-4.6 .4-3.8 .4 17.9 .4-7.7 .4-8.4 .4 10 .4-13 .4 8.4 .4 1.3 .4-3.7 .4 .4 .4 5.8 .4-6.1 .4 7.5 .4-13.7 .4 6.2 .4 9.6 .4-12.6 .4-.1 .4 4.6 .4-2.3 .4 3.2 .4 3.4 .4-2.1 .4-1.7 .4-2.8 .4 2.8 .4 3.2 .4-8.3 .4 2.1 .4-3.2 .4 5.1 .4 .8 .4-3.2 .4-2.6 .4 1.6 .4 6.6 .4-5.6 .4 6.5 .4-6.6 .4-.7 .4 7.1 .4-7.2 .4 9 .4-15.4 .4 10.3 .4-2.5 .4 .7 .4 3.1 .4-10.3 .4 19 .4-11.8 .4 13.4 .4-7.4 .4-2.8 .4-8.1 .4 15.2 .4-4.8 .4 2.5 .4-12.7 .4-.9 .4 6.5 .4 4.3 .4 1.3 .4 2 .4-9.6 .4-2.2 .4 9.8 .4-8 .4 4.5 .4 9.9 .4-11.5 .4 3.8 .4-.4 .4-1.1 .4 1.8 .4 .7 .4-2 .4 6.9 .4-2.6 .4-9 .4 11.5 .4-5.9 .4-1.3 .4-2.7 .4 7.4 .4-3.6 .4-3.3 .4 0 .4 9.4 .4-6.6 .4-.1 .4 13.8 .4-9.8 .4 1.7 .4-2.1 .4-.5 .4-4.1 .4 8 .4-1.6 .4-4.9 .4 3.7 .4 8.8 .4-6.5 .4-.8 .4-2.9 .4 .6 .4 5.4 .4 1.7 .4-2.7 .4 3.5 .4-7.7 .4 2.1 .4 3.7 .4 4 .4-7.3 .4 6.8 .4-9.2 .4 10.3 .4 1 .4-7.2 .4 3.2 .4 1.9 .4-6.4 .4 1.4 .4-.1 .4 4.6 .4 1.8 .4-8.4 .4 .8 .4 6.3 .4-5.9 .4 1.9 .4 4.6 .4-3.7 .4 4.4 .4-4.6 .4-1.2 .4-3.1 .4-7.1 .4 8.1 .4-6.9 .4 11.7 .4-.5 .4-1.8 .4 2.7 .4 4.1 .4-18.1 .4 7 .4 3.9 .4-5.2 .4 .1 .4 5 .4-3 .4-9.2 .4 12.6 .4-10.9 .4 4.3 .4 1.2 .4-10.7 .4 15 .4-5.1 .4-1.7 .4 1.4 .4-5 .4 3.9 .4-.6 .4-13.4 .4 4.3 .4 9.5 .4-9.4 .4 7 .4-3.5 .4 3.9 .4-11.6 .4 8.6 .4-.7 .4 1.2 .4-.2 .4-.8 .4 1.4 .4 .5 .4-4.7 .4 9.2 .4-6.5 .4-2.7 .4 5.9 .4-9.6 .4 11.7 .4-6.4 .4 2 .4 0 .4 2.2 .4-5 .4 1 .4 3.9 .4-4.2 .4 2.7 .4-.2 .4-.8 .4-1.3 .4-.4 .4 2.1 .4-3.4 .4 .7 .4 17.7 .4-11.8 .4 4.3 .4-2.6 .4 2.3 .4-2.4 .4 4.3 .4-3.3 .4 .7 .4-6.5 .4 10.2 .4-5 .4 1.1 .4 2.3 .4-.5 .4-.9 .4 6.1 .4-9.3 .4-4.9 .4 8 .4-8.4 .4 9.6 .4 6.7 .4 1.6 .4-11.6 .4 6.9 .4-6.9 .4 7.2 .4 4.9 .4-8.7 .4 10 .4-5.5 .4 10.9 .4-14.3 .4-1.1 .4 10.1 .4-1.6 .4-1.2 .4-6 .4 4.4 .4-2.9 .4 9.4 .4-4 .4-5.7 .4-.6 .4-2.8 .4 4 .4 2.6 .4 2 .4 3 .4-7.1 .4 7.8 .4-14.9 .4 8.6 .4 3.1 .4-5.4 .4 3.1 .4 2.3 .4-6.6 .4 3.1 .4 3.7 .4-10.9 .4 10 .4-6.1 .4-6.5 .4 7.7 .4 .8 .4-4.4 .4 1.8 .4 .1 .4-2.6 .4-.3 .4 2.6 .4-.9 .4-4.2 .4-9 .4 1.9 .4 3.4 .4 6.3 .4-3.6 .4 5.1 .4-6.6 .4-.8 .4-4 .4 6.4 .4-12.3 .4 7.1 .4-2.8 .4-2.3 .4 6.1 .4-1.8 .4-1.7 .4-3.8 .4-5.6 .4 .1 .4-5.8 .4 5 .4 7.1 .4 4.6 .4-11.6 .4 10.4 .4 2.8 .4-3.7 .4 2.6 .4-7.9 .4-2.2 .4 3.6 .4 3.3 .4-2.1 .4-1 .4 3.1 .4-7.2 .4 8 .4-12.1 .4 16.1 .4 .4 .4 5 .4-14.2 .4 2.2 .4-1.3 .4-1.2 .4-3.2 .4 15 .4-3.8 .4 1.2 .4-6.7 .4 9.7 .4 9.5 .4-7.7 .4 4 .4-8.4 .4 11.1 .4-4.2 .4 1.5 .4 1.9 .4-2.1 .4 5 .4-2.9 .4-.8 .4-2.4 .4 .2 .4 9.8 .4 1.5 .4-5 .4 0 .4-1.5 .4 3.7 .4 5.8 .4-5.1 .4-3.7 .4 7.3 .4-1.3 .4-11.7 .4 6.1 .4 7.8 .4-3.9 .4-2.1 .4 2.2 .4-7.3 .4 0 .4 4.8 .4 1.1 .4 6.9 .4-8 .4 1.9 .4 5.7 .4-9.8 .4 1.4 .4 1.4 .4 1.1 .4-.5 .4 2.4 .4-8.8 .4-.6 .4 5.6 .4-7.1 .4 14.7 .4-11 .4 1 .4 5.3 .4-1.3 .4 1.1 .4-2.8 .4-6 .4 5.2 .4-2.3 .4-4.8 .4 6.3 .4 5.7 .4-8.7 .4 .8 .4-.2 .4 6.9 .4-13 .4 11.5 .4-1.7 .4-1 .4-3.9 .4 3 .4 10 .4-8 .4-2.9 .4 5.6 .4-9.6 .4 10.8 .4-5.7 .4 11.9 .4-1.3 .4-7.6 .4-.8 .4-3.9 .4 4.4 .4 .6 .4-9.7 .4-.9 .4 9.2 .4-5.3 .4 3 .4-.5 .4-.1 .4-2.3 .4 3.6 .4 3.4 .4 .4 .4-9.6 .4 1.7 .4-.6 .4-7.7 .4-.8 .4 6.1 .4 2.2 .4 .9 .4-7 .4 5.5 .4-4 .4-2 .4 6.2 .4-12.8 .4-3.2 .4 19.1 .4-9.4 .4 3.5 .4-4.4 .4-3 .4-2.3 .4-3.2 .4 9 .4-5.8 .4 4.2 .4 1.8 .4-1.6 .4 .8 .4 6.4 .4-5.5 .4-.1 .4-1.9 .4 7.5 .4-.7 .4-8.5 .4 4.5 .4-2.3 .4-1.3 .4-2.1 .4 12.6 .4-5.7 .4-12.1 .4 14.7 .4 3.3 .4-7.4 .4-.7 .4 1.1 .4 3.7 .4-6.7 .4 4.5 .4-8.6 .4 12.4 .4-10.4 .4 3.6 .4 3.7 .4 2.9 .4-7.8 .4 .3 .4 10.2 .4-9.7 .4-.7 .4 1.6 .4 5.6 .4 .2 .4 1.6 .4-2.5 .4-3.8 .4 4.2 .4 1.5 .4-8.6 .4 2.6 .4 2.9 .4 7.7 .4-8.8 .4 1.9 .4 0 .4 1.7 .4 1.4 .4-7.6 .4-7.2 .4 15.8 .4-13.2 .4 11.2 .4 .6 .4 1.5 .4-8 .4 6.4 .4 1.7 .4 .2 .4 2.6 .4-10.2 .4 2.2 .4 1.2 .4 1.1 .4 5 .4-.9 .4-3.3 .4 7.6 .4-5.2 .4-8.1 .4 11.3 .4-12 .4 .1 .4 3.9 .4-.3 .4 1.6 .4 .4 .4-3.7 .4 .1 .4 6.4 .4-1.8 .4-2.6 .4-2.8 .4 3.7 .4-4.8 .4-1.6 .4 10.5 .4-1.7 .4-4.9 .4 8.8 .4-8 .4 3.2 .4-.9 .4-1.9 .4-.2 .4 6.3 .4-3 .4-13 .4 11 .4-13.1 .4 5.2 .4 6.5 .4-7.2 .4 10.5 .4-7.7 .4 4.2 .4-1.6 .4 2 .4 2.2 .4-13.1 .4 6.3 .4 .9 .4 3.6 .4-2.5 .4-4 .4-5.3 .4-1.3 .4 2.9 .4 4.8 .4-.3 .4 5.7 .4-5.5 .4 2 .4-10.2 .4 7.3 .4-3.6 .4-.7 .4 8.3 .4-5.9 .4-.5 .4 .2 .4-6.4 .4-1.4 .4 16.1 .4-8.6 .4-.4 .4 .9 .4-3.2 .4 .7 .4-2.8 .4 5.5 .4-2.3 .4 5.4 .4 2.4 .4-12.1 .4 8 .4-5 .4 11.9 .4-9 .4 3.5 .4-6.7 .4 8 .4-9.2 .4-2.3 .4-5.6 .4 11 .4-1.6 .4 2.7 .4-5.1 .4 4.1 .4 0 .4-4.9 .4 13.9 .4 1.4 .4-8.9 .4 1.2 .4 .5 .4 .3 .4-7 .4 5.1 .4 6.9 .4-9 .4-.4 .4-3 .4 2.2 .4-8 .4 9.8 .4 5.2 .4-3.5 .4-.7 .4-.5 .4 0 .4-5.1 .4-3.9 .4 17.3 .4-6.2 .4-12.4 .4 17.5 .4-9.4 .4 6.5 .4-5.1 .4-2.4 .4 6.9 .4-5.5 .4-9.8 .4 14 .4-3 .4 .1 .4-1.1 .4 3.5 .4 5.2 .4-2.2 .4-3.1 .4-.8 .4-3.7 .4 11.9 .4-17.1 .4 4.7 .4 4.1 .4 1.6 .4 1 .4-2.9 .4 11 .4-2.7 .4-14.1 .4 4.6 .4-1.6 .4 13.4 .4-8.3 .4-4.8 .4 6.3 .4-4.3 .4 6.7 .4 3.4 .4-8.1 .4 6.8 .4 .8 .4-4.3 .4 6 .4-4.8 .4 6.5 .4-3.2 .4-1 .4 9.1 .4-1.5 .4-5.6 .4-10.6 .4 14.2 .4-3.2 .4 4.6 .4-1.4 .4-1 .4 .1 .4 8.6 .4 .9 .4-.5 .4-11 .4 3.9 .4 2.9 .4-9.5 .4 14.3 .4-9.8 .4 10.1 .4-6.9 .4 4.7 .4-9.7 .4-3.5 .4 8.5 .4-2.7 .4 .4 .4 4.2 .4 3.7 .4 2.6 .4-8.1 .4-2.4 .4 6.5 .4-4.5 .4-.7 .4 3.6 .4 7.4 .4-3.9 .4-11.2 .4 19 .4-15.4 .4 6.9 .4-4.5 .4 8.3 .4-2.6 .4 3.7 .4-4.5 .4-1.8 .4 6.3 .4-14.7 .4 2.9 .4-.8 .4 5.9 .4-1.5 .4-1.8 .4 7.4 .4-1 .4-4.8 .4-4.5 .4 16.7 .4-8.6 .4-4.3 .4 3.4 .4 .8 .4-4.7 .4 6.4 .4-3 .4-3 .4 7.5 .4-7.5 .4 8.1 .4-5.6 .4-2 .4 6.6 .4-7.5 .4 4.2 .4 3.6 .4-8.3 .4-1.3 .4 6.3 .4 .8 .4-15.2 .4 12.5 .4 2.7 .4-8.2" fill="none" stroke="#00f" stroke-width="3" stroke-linejoin="round"/>
<path d="M465.6 3027.5V3061.5M603.1 3027.5V3061.5M616.3 3027.5V3061.5M703.6 3027.5V3061.5M726.6 3027.5V3061.5M749.6 3027.5V3061.5M844.3 3027.5V3061.5M974 3027.5V3061.5M993.2 3027.5V3061.5M998.5 3027.5V3061.5M1016.5 3027.5V3061.5M1031.7 3027.5V3061.5M1041 3027.5V3061.5M1049.1 3027.5V3061.5M1093.9 3027.5V3061.5M1097.2 3027.5V3061.5M1129.1 3027.5V3061.5M1155.9 3027.5V3061.5M1171.9 3027.5V3061.5M1211.1 3027.5V3061.5M1228.6 3027.5V3061.5M1236.9 3027.5V3061.5M1239.9 3027.5V3061.5M1242.5 3027.5V3061.5M1300.3 3027.5V3061.5M1316.7 3027.5V3061.5M1321.8 3027.5V3061.5M1342.8 3027.5V3061.5M1381.3 3027.5V3061.5M1390.1 3027.5V3061.5M1392.6 3027.5V3061.5M1395.2 3027.5V3061.5M1439 3027.5V3061.5M1442.7 3027.5V3061.5M1492.6 3027.5V3061.5M1509 3027.5V3061.5M1520.2 3027.5V3061.5M1526.8 3027.5V3061.5M1534.9 3027.5V3061.5M1541.7 3027.5V3061.5M1577.9 3027.5V3061.5M1584.2 3027.5V3061.5M1588 3027.5V3061.5M1593.1 3027.5V3061.5M1596.8 3027.5V3061.5M1607.8 3027.5V3061.5M1629.8 3027.5V3061.5M1650.1 3027.5V3061.5M1656.4 3027.5V3061.5M1661.4 3027.5V3061.5M1682.5 3027.5V3061.5M1692.5 3027.5V3061.5M1704.5 3027.5V3061.5M1711.6 3027.5V3061.5M1726.5 3027.5V3061.5M1729.1 3027.5V3061.5M1731.6 3027.5V3061.5M1735.6 3027.5V3061.5M1739.4 3027.5V3061.5M1759.6 3027.5V3061.5M1762.6 3027.5V3061.5M1765.7 3027.5V3061.5M1768.7 3027.5V3061.5M1771.7 3027.5V3061.5M1774.8 3027.5V3061.5M1776.8 3027.5V3061.5M1790 3027.5V3061.5M1803.5 3027.5V3061.5M1833.3 3027.5V3061.5M1877.9 3027.5V3061.5M1886.4 3027.5V3061.5M1906.4 3027.5V3061.5M1915.7 3027.5V3061.5M1945.4 3027.5V3061.5M1953.4 3027.5V3061.5M1955.6 3027.5V3061.5M1957.7 3027.5V3061.5M1967.7 3027.5V3061.5M1983.9 3027.5V3061.5M1992.2 3027.5V3061.5M1999.9 3027.5V3061.5M2003.9 3027.5V3061.5M2010.8 3027.5V3061.5M2013.5 3027.5V3061.5M2035.8 3027.5V3061.5M2037.9 3027.5V3061.5M2046.5 3027.5V3061.5M2068.5 3027.5V3061.5M2081.8 3027.5V3061.5M2093.1 3027.5V3061.5M2099 3027.5V3061.5M2103.8 3027.5V3061.5M2123.5 3027.5V3061.5M2126.6 3027.5V3061.5M2132.3 3027.5V3061.5M2134.9 3027.5V3061.5M2137.6 3027.5V3061.5M2149 3027.5V3061.5M2166.2 3027.5V3061.5M2171.3 3027.5V3061.5M2176.1 3027.5V3061.5M2188 3027.5V3061.5M2190.7 3027.5V3061.5" stroke="#800080" stroke-width="3.6" fill="none"/>
<path d="M487.4 3072V3105.5M587.3 3072V3105.5M604.3 3072V3105.5M634.8 3072V3105.5M647.7 3072V3105.5M705.4 3072V3105.5M731.4 3072V3105.5M749.6 3072V3105.5M752.6 3072V3105.5M868.7 3072V3105.5M889.4 3072V3105.5M895.6 3072V3105.5M968 3072V3105.5M979.3 3072V3105.5M999 3072V3105.5M1002.7 3072V3105.5M1004.7 3072V3105.5M1006.7 3072V3105.5M1021 3072V3105.5M1031.5 3072V3105.5M1033.5 3072V3105.5M1035.5 3072V3105.5M1062.2 3072V3105.5M1068.4 3072V3105.5M1080.1 3072V3105.5M1086.4 3072V3105.5M1096.4 3072V3105.5M1129.1 3072V3105.5M1133.3 3072V3105.5M1146.3 3072V3105.5M1148.8 3072V3105.5M1151.3 3072V3105.5M1160.3 3072V3105.5M1187.5 3072V3105.5M1190 3072V3105.5M1192.5 3072V3105.5M1198.2 3072V3105.5M1204.4 3072V3105.5M1212.4 3072V3105.5M1225.4 3072V3105.5M1244.9 3072V3105.5M1254.4 3072V3105.5M1284.3 3072V3105.5M1307.3 3072V3105.5M1316 3072V3105.5M1322.8 3072V3105.5M1331 3072V3105.5M1346 3072V3105.5M1380.2 3072V3105.5M1401.4 3072V3105.5M1404 3072V3105.5M1406.2 3072V3105.5M1439.7 3072V3105.5M1446.4 3072V3105.5M1448.4 3072V3105.5M1450.4 3072V3105.5M1469.4 3072V3105.5M1472.1 3072V3105.5M1475.1 3072V3105.5M1477.6 3072V3105.5M1480.1 3072V3105.5M1484.6 3072V3105.5M1490.8 3072V3105.5M1497.6 3072V3105.5M1506.6 3072V3105.5M1511.6 3072V3105.5M1519 3072V3105.5M1522.5 3072V3105.5M1525.8 3072V3105.5M1539.5 3072V3105.5M1541.2 3072V3105.5M1550 3072V3105.5M1555 3072V3105.5M1557 3072V3105.5M1563.7 3072V3105.5M1572.4 3072V3105.5M1574.9 3072V3105.5M1579.4 3072V3105.5M1596.2 3072V3105.5M1610.4 3072V3105.5M1631.1 3072V3105.5M1636.9 3072V3105.5M1639.4 3072V3105.5M1641.9 3072V3105.5M1644.4 3072V3105.5M1646.9 3072V3105.5M1649.3 3072V3105.5M1653.6 3072V3105.5M1666.8 3072V3105.5M1669.3 3072V3105.5M1674.8 3072V3105.5M1697.3 3072V3105.5M1704.8 3072V3105.5M1719.8 3072V3105.5M1727.2 3072V3105.5M1738.5 3072V3105.5M1740.2 3072V3105.5M1742 3072V3105.5M1747.2 3072V3105.5M1751 3072V3105.5M1756 3072V3105.5M1758.5 3072V3105.5M1761 3072V3105.5M1763.5 3072V3105.5M1766 3072V3105.5M1769.5 3072V3105.5M1771.7 3072V3105.5M1794.7 3072V3105.5M1798.4 3072V3105.5M1802.2 3072V3105.5M1804.6 3072V3105.5M1809.6 3072V3105.5M1827.1 3072V3105.5M1830.9 3072V3105.5M1848.3 3072V3105.5M1863.3 3072V3105.5M1867.1 3072V3105.5M1878 3072V3105.5M1880.5 3072V3105.5M1883 3072V3105.5M1885.5 3072V3105.5M1888 3072V3105.5M1890.5 3072V3105.5M1893 3072V3105.5M1895.5 3072V3105.5M1897 3072V3105.5M1907 3072V3105.5M1926.2 3072V3105.5M1928.7 3072V3105.5M1933 3072V3105.5M1939.4 3072V3105.5M1951 3072V3105.5M1953.5 3072V3105.5M1956 3072V3105.5M1958.5 3072V3105.5M1961 3072V3105.5M1963.6 3072V3105.5M1994.4 3072V3105.5M1996.8 3072V3105.5M1999.3 3072V3105.5M2004.8 3072V3105.5M2011 3072V3105.5M2013.5 3072V3105.5M2016 3072V3105.5M2018.5 3072V3105.5M2021 3072V3105.5M2023.5 3072V3105.5M2024.8 3072V3105.5M2027.8 3072V3105.5M2036 3072V3105.5M2038.5 3072V3105.5M2041 3072V3105.5M2047.3 3072V3105.5M2049.8 3072V3105.5M2052.3 3072V3105.5M2054.8 3072V3105.5M2057.3 3072V3105.5M2059.8 3072V3105.5M2069.3 3072V3105.5M2072.3 3072V3105.5M2074.8 3072V3105.5M2081 3072V3105.5M2083.5 3072V3105.5M2086 3072V3105.5M2088.5 3072V3105.5M2091 3072V3105.5M2093.5 3072V3105.5M2094.7 3072V3105.5M2097.2 3072V3105.5M2099.7 3072V3105.5M2102.2 3072V3105.5M2104.7 3072V3105.5M2107.2 3072V3105.5M2123.4 3072V3105.5M2132.2 3072V3105.5M2145.9 3072V3105.5M2150.9 3072V3105.5M2157.6 3072V3105.5M2168.4 3072V3105.5M2172.1 3072V3105.5M2182.6 3072V3105.5" stroke="#800080" stroke-width="3.6" fill="none"/>
</g>
<rect x="223.5" y="1822" width="1968.5" height="1468" fill="none" stroke="#000" stroke-width="8" stroke-linejoin="round"/>
<path d="M223.5 1894H196.5M223.5 2002H210.5M223.5 2110.1H196.5M223.5 2218.1H210.5M223.5 2326.1H196.5M223.5 2434.2H210.5M223.5 2542.2H196.5M223.5 2650.2H210.5M223.5 2758.2H196.5M223.5 2866.3H210.5M223.5 2974.3H196.5M223.5 3082.3H210.5M223.5 3190.4H196.5M223.5 3290V3303.5M354.7 3290V3317M486 3290V3303.5M617.2 3290V3317M748.4 3290V3303.5M879.7 3290V3317M1010.9 3290V3303.5M1142.1 3290V3317M1273.4 3290V3303.5M1404.6 3290V3317M1535.8 3290V3303.5M1667.1 3290V3317M1798.3 3290V3303.5M1929.5 3290V3317M2060.8 3290V3303.5M2192 3290V3317" stroke="#000" stroke-width="8" stroke-linecap="round" fill="none"/>
<text x="354.7" y="3400" text-anchor="middle" font-size="81">10</text>
<text x="617.2" y="3400" text-anchor="middle" font-size="81">20</text>
<text x="879.7" y="3400" text-anchor="middle" font-size="81">30</text>
<text x="1142.1" y="3400" text-anchor="middle" font-size="81">40</text>
<text x="1404.6" y="3400" text-anchor="middle" font-size="81">50</text>
<text x="1667.1" y="3400" text-anchor="middle" font-size="81">60</text>
<text x="1929.5" y="3400" text-anchor="middle" font-size="81">70</text>
<text x="2192" y="3400" text-anchor="middle" font-size="81">80</text>
<circle cx="1566.5" cy="724.4" r="7.4" fill="none" stroke="#f00" stroke-width="1.8"/>
<path d="M1492.5 826.6H1642" stroke="#000" stroke-width="7" stroke-linecap="round"/>
<path d="M1492.5 928.4H1642" stroke="#00f" stroke-width="3.4"/>
<path d="M1566.5 1012.7V1046" stroke="#800080" stroke-width="3.4"/>
<text x="1660" y="747.7" font-size="68">Y<tspan font-size="40" dy="23">obs.</tspan></text>
<text x="1660" y="849.8" font-size="68">Y<tspan font-size="40" dy="23">cal.</tspan></text>
<text x="1660" y="950.8" font-size="68">Y<tspan font-size="40" dy="23">obs.</tspan><tspan dy="-23">-Y</tspan><tspan font-size="40" dy="23">cal.</tspan></text>
<text x="1660" y="1053" font-size="68">Bragg positions</text>
<circle cx="1584" cy="2506.7" r="7.4" fill="none" stroke="#f00" stroke-width="1.8"/>
<path d="M1508.7 2610.2H1660.5" stroke="#000" stroke-width="7" stroke-linecap="round"/>
<path d="M1508.7 2712.8H1660.5" stroke="#00f" stroke-width="3.4"/>
<path d="M1584 2799.4V2833.9" stroke="#800080" stroke-width="3.4"/>
<text x="1677" y="2529.8" font-size="69">Y<tspan font-size="41" dy="23.5">obs.</tspan></text>
<text x="1677" y="2633" font-size="69">Y<tspan font-size="41" dy="23.5">cal.</tspan></text>
<text x="1677" y="2735.7" font-size="69">Y<tspan font-size="41" dy="23.5">obs.</tspan><tspan dy="-23.5">-Y</tspan><tspan font-size="41" dy="23.5">cal.</tspan></text>
<text x="1677" y="2839.4" font-size="69">Bragg positions</text>
<text x="360" y="179" font-size="81">(a)</text>
<text x="318" y="2001" font-size="81">(b)</text>
<text x="349.5" y="1182" font-size="60">(1)</text>
<text x="337.5" y="3067" font-size="61">(1)</text>
<text x="337.5" y="3137" font-size="61">(2)</text>
<text x="1141" y="1700.6" font-size="81" text-anchor="middle">2θ(<tspan font-size="48" dy="-40">o</tspan><tspan dy="40">)</tspan></text>
<text x="1143" y="3518" font-size="81" text-anchor="middle">2θ(<tspan font-size="48" dy="-40">o</tspan><tspan dy="40">)</tspan></text>
<text transform="translate(75 805) rotate(-90)" text-anchor="middle" font-size="81">Intensity (a. u.)</text>
<text transform="translate(90 2577) rotate(-90)" text-anchor="middle" font-size="81">Intensity (a. u.)</text>
</svg></body></html>
